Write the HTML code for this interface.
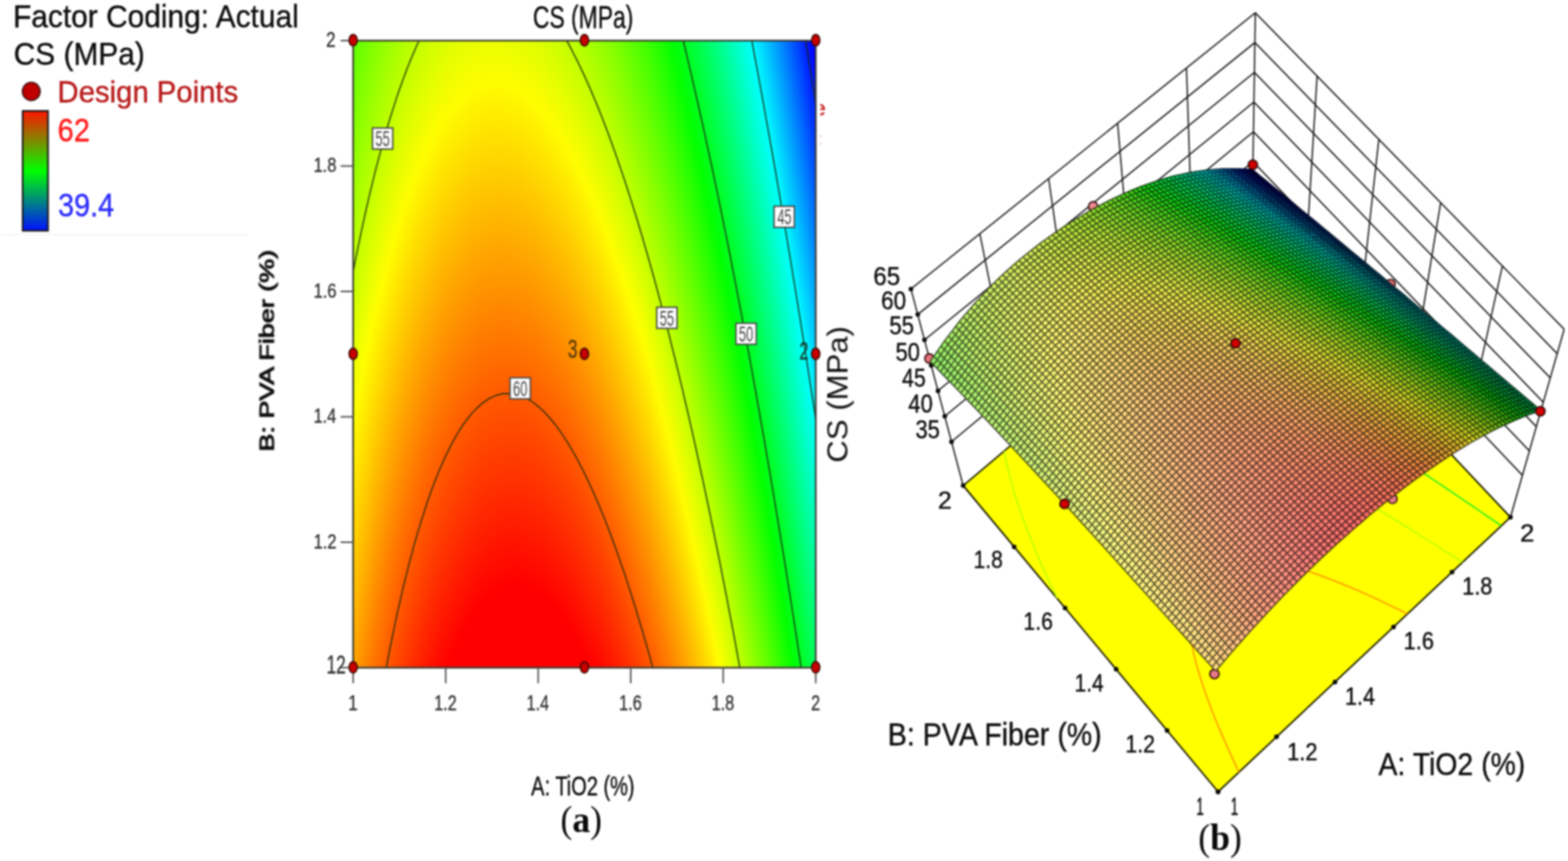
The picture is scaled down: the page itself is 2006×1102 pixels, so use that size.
<!DOCTYPE html>
<html><head><meta charset="utf-8"><title>CS (MPa) response surface</title>
<style>html,body{margin:0;padding:0;background:#fff}svg{display:block}</style></head>
<body><svg width="2006" height="1102" viewBox="0 0 2006 1102">
<defs><filter id="soft" x="0" y="0" width="100%" height="100%" filterUnits="userSpaceOnUse" color-interpolation-filters="sRGB"><feGaussianBlur stdDeviation="0.85"/></filter><linearGradient id="lg" x1="0" y1="0" x2="0" y2="1"><stop offset="0" stop-color="#ff1400"/><stop offset="0.5" stop-color="#00ff00"/><stop offset="1" stop-color="#0010ff"/></linearGradient><linearGradient id="c0" x1="0" y1="0" x2="0" y2="1"><stop offset="0.000" stop-color="#5dff00"/><stop offset="0.514" stop-color="#ebff00"/><stop offset="0.606" stop-color="#fffc00"/><stop offset="1.000" stop-color="#ffa000"/></linearGradient><linearGradient id="c1" x1="0" y1="0" x2="0" y2="1"><stop offset="0.000" stop-color="#62ff00"/><stop offset="0.514" stop-color="#f0ff00"/><stop offset="0.584" stop-color="#fffd00"/><stop offset="1.000" stop-color="#ff9b00"/></linearGradient><linearGradient id="c2" x1="0" y1="0" x2="0" y2="1"><stop offset="0.000" stop-color="#67ff00"/><stop offset="0.514" stop-color="#f5ff00"/><stop offset="0.566" stop-color="#fffc00"/><stop offset="1.000" stop-color="#ff9500"/></linearGradient><linearGradient id="c3" x1="0" y1="0" x2="0" y2="1"><stop offset="0.000" stop-color="#6bff00"/><stop offset="0.514" stop-color="#faff00"/><stop offset="0.551" stop-color="#fffb00"/><stop offset="1.000" stop-color="#ff8f00"/></linearGradient><linearGradient id="c4" x1="0" y1="0" x2="0" y2="1"><stop offset="0.000" stop-color="#70ff00"/><stop offset="0.514" stop-color="#ffff00"/><stop offset="1.000" stop-color="#ff8a00"/></linearGradient><linearGradient id="c5" x1="0" y1="0" x2="0" y2="1"><stop offset="0.000" stop-color="#74ff00"/><stop offset="0.496" stop-color="#ffff00"/><stop offset="1.000" stop-color="#ff8500"/></linearGradient><linearGradient id="c6" x1="0" y1="0" x2="0" y2="1"><stop offset="0.000" stop-color="#78ff00"/><stop offset="0.479" stop-color="#ffff00"/><stop offset="0.993" stop-color="#ff8100"/><stop offset="1.000" stop-color="#ff8000"/></linearGradient><linearGradient id="c7" x1="0" y1="0" x2="0" y2="1"><stop offset="0.000" stop-color="#7dff00"/><stop offset="0.461" stop-color="#ffff00"/><stop offset="0.975" stop-color="#ff8000"/><stop offset="1.000" stop-color="#ff7a00"/></linearGradient><linearGradient id="c8" x1="0" y1="0" x2="0" y2="1"><stop offset="0.000" stop-color="#81ff00"/><stop offset="0.446" stop-color="#fffe00"/><stop offset="0.960" stop-color="#ff7e00"/><stop offset="1.000" stop-color="#ff7500"/></linearGradient><linearGradient id="c9" x1="0" y1="0" x2="0" y2="1"><stop offset="0.000" stop-color="#85ff00"/><stop offset="0.429" stop-color="#fffe00"/><stop offset="0.943" stop-color="#ff7d00"/><stop offset="1.000" stop-color="#ff7000"/></linearGradient><linearGradient id="c10" x1="0" y1="0" x2="0" y2="1"><stop offset="0.000" stop-color="#89ff00"/><stop offset="0.414" stop-color="#fffe00"/><stop offset="0.928" stop-color="#ff7c00"/><stop offset="1.000" stop-color="#ff6b00"/></linearGradient><linearGradient id="c11" x1="0" y1="0" x2="0" y2="1"><stop offset="0.000" stop-color="#8dff00"/><stop offset="0.399" stop-color="#fffe00"/><stop offset="0.913" stop-color="#ff7b00"/><stop offset="1.000" stop-color="#ff6700"/></linearGradient><linearGradient id="c12" x1="0" y1="0" x2="0" y2="1"><stop offset="0.000" stop-color="#91ff00"/><stop offset="0.384" stop-color="#fffe00"/><stop offset="0.898" stop-color="#ff7a00"/><stop offset="1.000" stop-color="#ff6200"/></linearGradient><linearGradient id="c13" x1="0" y1="0" x2="0" y2="1"><stop offset="0.000" stop-color="#94ff00"/><stop offset="0.372" stop-color="#fffd00"/><stop offset="0.885" stop-color="#ff7800"/><stop offset="1.000" stop-color="#ff5d00"/></linearGradient><linearGradient id="c14" x1="0" y1="0" x2="0" y2="1"><stop offset="0.000" stop-color="#98ff00"/><stop offset="0.357" stop-color="#fffd00"/><stop offset="0.870" stop-color="#ff7700"/><stop offset="1.000" stop-color="#ff5900"/></linearGradient><linearGradient id="c15" x1="0" y1="0" x2="0" y2="1"><stop offset="0.000" stop-color="#9cff00"/><stop offset="0.342" stop-color="#fffd00"/><stop offset="0.855" stop-color="#ff7600"/><stop offset="1.000" stop-color="#ff5400"/></linearGradient><linearGradient id="c16" x1="0" y1="0" x2="0" y2="1"><stop offset="0.000" stop-color="#9fff00"/><stop offset="0.329" stop-color="#fffd00"/><stop offset="0.843" stop-color="#ff7500"/><stop offset="1.000" stop-color="#ff5000"/></linearGradient><linearGradient id="c17" x1="0" y1="0" x2="0" y2="1"><stop offset="0.000" stop-color="#a3ff00"/><stop offset="0.317" stop-color="#fffd00"/><stop offset="0.830" stop-color="#ff7400"/><stop offset="1.000" stop-color="#ff4b00"/></linearGradient><linearGradient id="c18" x1="0" y1="0" x2="0" y2="1"><stop offset="0.000" stop-color="#a6ff00"/><stop offset="0.304" stop-color="#fffd00"/><stop offset="0.818" stop-color="#ff7300"/><stop offset="1.000" stop-color="#ff4700"/></linearGradient><linearGradient id="c19" x1="0" y1="0" x2="0" y2="1"><stop offset="0.000" stop-color="#a9ff00"/><stop offset="0.292" stop-color="#fffd00"/><stop offset="0.805" stop-color="#ff7200"/><stop offset="1.000" stop-color="#ff4300"/></linearGradient><linearGradient id="c20" x1="0" y1="0" x2="0" y2="1"><stop offset="0.000" stop-color="#acff00"/><stop offset="0.279" stop-color="#fffd00"/><stop offset="0.793" stop-color="#ff7100"/><stop offset="1.000" stop-color="#ff3f00"/></linearGradient><linearGradient id="c21" x1="0" y1="0" x2="0" y2="1"><stop offset="0.000" stop-color="#b0ff00"/><stop offset="0.269" stop-color="#fffd00"/><stop offset="0.783" stop-color="#ff7000"/><stop offset="1.000" stop-color="#ff3b00"/></linearGradient><linearGradient id="c22" x1="0" y1="0" x2="0" y2="1"><stop offset="0.000" stop-color="#b3ff00"/><stop offset="0.257" stop-color="#fffd00"/><stop offset="0.771" stop-color="#ff7000"/><stop offset="1.000" stop-color="#ff3700"/></linearGradient><linearGradient id="c23" x1="0" y1="0" x2="0" y2="1"><stop offset="0.000" stop-color="#b5ff00"/><stop offset="0.247" stop-color="#fffd00"/><stop offset="0.761" stop-color="#ff6e00"/><stop offset="1.000" stop-color="#ff3300"/></linearGradient><linearGradient id="c24" x1="0" y1="0" x2="0" y2="1"><stop offset="0.000" stop-color="#b8ff00"/><stop offset="0.237" stop-color="#fffd00"/><stop offset="0.751" stop-color="#ff6d00"/><stop offset="1.000" stop-color="#ff2f00"/></linearGradient><linearGradient id="c25" x1="0" y1="0" x2="0" y2="1"><stop offset="0.000" stop-color="#bbff00"/><stop offset="0.227" stop-color="#fffd00"/><stop offset="0.741" stop-color="#ff6d00"/><stop offset="1.000" stop-color="#ff2b00"/></linearGradient><linearGradient id="c26" x1="0" y1="0" x2="0" y2="1"><stop offset="0.000" stop-color="#beff00"/><stop offset="0.217" stop-color="#fffd00"/><stop offset="0.731" stop-color="#ff6c00"/><stop offset="1.000" stop-color="#ff2800"/></linearGradient><linearGradient id="c27" x1="0" y1="0" x2="0" y2="1"><stop offset="0.000" stop-color="#c0ff00"/><stop offset="0.207" stop-color="#fffd00"/><stop offset="0.721" stop-color="#ff6b00"/><stop offset="1.000" stop-color="#ff2400"/></linearGradient><linearGradient id="c28" x1="0" y1="0" x2="0" y2="1"><stop offset="0.000" stop-color="#c3ff00"/><stop offset="0.200" stop-color="#fffd00"/><stop offset="0.713" stop-color="#ff6a00"/><stop offset="1.000" stop-color="#ff2100"/></linearGradient><linearGradient id="c29" x1="0" y1="0" x2="0" y2="1"><stop offset="0.000" stop-color="#c6ff00"/><stop offset="0.190" stop-color="#fffd00"/><stop offset="0.703" stop-color="#ff6900"/><stop offset="1.000" stop-color="#ff1d00"/></linearGradient><linearGradient id="c30" x1="0" y1="0" x2="0" y2="1"><stop offset="0.000" stop-color="#c8ff00"/><stop offset="0.182" stop-color="#fffd00"/><stop offset="0.696" stop-color="#ff6800"/><stop offset="1.000" stop-color="#ff1a00"/></linearGradient><linearGradient id="c31" x1="0" y1="0" x2="0" y2="1"><stop offset="0.000" stop-color="#caff00"/><stop offset="0.175" stop-color="#fffd00"/><stop offset="0.688" stop-color="#ff6800"/><stop offset="1.000" stop-color="#ff1700"/></linearGradient><linearGradient id="c32" x1="0" y1="0" x2="0" y2="1"><stop offset="0.000" stop-color="#ccff00"/><stop offset="0.167" stop-color="#fffd00"/><stop offset="0.681" stop-color="#ff6700"/><stop offset="1.000" stop-color="#ff1400"/></linearGradient><linearGradient id="c33" x1="0" y1="0" x2="0" y2="1"><stop offset="0.000" stop-color="#cfff00"/><stop offset="0.160" stop-color="#fffd00"/><stop offset="0.673" stop-color="#ff6600"/><stop offset="1.000" stop-color="#ff1100"/></linearGradient><linearGradient id="c34" x1="0" y1="0" x2="0" y2="1"><stop offset="0.000" stop-color="#d1ff00"/><stop offset="0.152" stop-color="#fffd00"/><stop offset="0.666" stop-color="#ff6500"/><stop offset="1.000" stop-color="#ff0e00"/></linearGradient><linearGradient id="c35" x1="0" y1="0" x2="0" y2="1"><stop offset="0.000" stop-color="#d3ff00"/><stop offset="0.145" stop-color="#fffd00"/><stop offset="0.658" stop-color="#ff6500"/><stop offset="1.000" stop-color="#ff0b00"/></linearGradient><linearGradient id="c36" x1="0" y1="0" x2="0" y2="1"><stop offset="0.000" stop-color="#d5ff00"/><stop offset="0.140" stop-color="#fffc00"/><stop offset="0.653" stop-color="#ff6400"/><stop offset="1.000" stop-color="#ff0800"/></linearGradient><linearGradient id="c37" x1="0" y1="0" x2="0" y2="1"><stop offset="0.000" stop-color="#d6ff00"/><stop offset="0.132" stop-color="#fffd00"/><stop offset="0.646" stop-color="#ff6300"/><stop offset="1.000" stop-color="#ff0500"/></linearGradient><linearGradient id="c38" x1="0" y1="0" x2="0" y2="1"><stop offset="0.000" stop-color="#d8ff00"/><stop offset="0.127" stop-color="#fffd00"/><stop offset="0.641" stop-color="#ff6200"/><stop offset="1.000" stop-color="#ff0300"/></linearGradient><linearGradient id="c39" x1="0" y1="0" x2="0" y2="1"><stop offset="0.000" stop-color="#daff00"/><stop offset="0.122" stop-color="#fffc00"/><stop offset="0.636" stop-color="#ff6200"/><stop offset="1.000" stop-color="#ff0000"/></linearGradient><linearGradient id="c40" x1="0" y1="0" x2="0" y2="1"><stop offset="0.000" stop-color="#dbff00"/><stop offset="0.117" stop-color="#fffc00"/><stop offset="0.631" stop-color="#ff6100"/><stop offset="0.998" stop-color="#ff0000"/><stop offset="1.000" stop-color="#ff0000"/></linearGradient><linearGradient id="c41" x1="0" y1="0" x2="0" y2="1"><stop offset="0.000" stop-color="#ddff00"/><stop offset="0.112" stop-color="#fffc00"/><stop offset="0.626" stop-color="#ff6000"/><stop offset="0.988" stop-color="#ff0000"/><stop offset="1.000" stop-color="#ff0000"/></linearGradient><linearGradient id="c42" x1="0" y1="0" x2="0" y2="1"><stop offset="0.000" stop-color="#deff00"/><stop offset="0.107" stop-color="#fffc00"/><stop offset="0.621" stop-color="#ff6000"/><stop offset="0.978" stop-color="#ff0000"/><stop offset="1.000" stop-color="#ff0000"/></linearGradient><linearGradient id="c43" x1="0" y1="0" x2="0" y2="1"><stop offset="0.000" stop-color="#e0ff00"/><stop offset="0.102" stop-color="#fffd00"/><stop offset="0.616" stop-color="#ff5f00"/><stop offset="0.970" stop-color="#ff0000"/><stop offset="1.000" stop-color="#ff0000"/></linearGradient><linearGradient id="c44" x1="0" y1="0" x2="0" y2="1"><stop offset="0.000" stop-color="#e1ff00"/><stop offset="0.097" stop-color="#fffd00"/><stop offset="0.611" stop-color="#ff5f00"/><stop offset="0.963" stop-color="#ff0000"/><stop offset="1.000" stop-color="#ff0000"/></linearGradient><linearGradient id="c45" x1="0" y1="0" x2="0" y2="1"><stop offset="0.000" stop-color="#e2ff00"/><stop offset="0.095" stop-color="#fffd00"/><stop offset="0.608" stop-color="#ff5e00"/><stop offset="0.955" stop-color="#ff0000"/><stop offset="1.000" stop-color="#ff0000"/></linearGradient><linearGradient id="c46" x1="0" y1="0" x2="0" y2="1"><stop offset="0.000" stop-color="#e3ff00"/><stop offset="0.090" stop-color="#fffd00"/><stop offset="0.603" stop-color="#ff5e00"/><stop offset="0.948" stop-color="#ff0000"/><stop offset="1.000" stop-color="#ff0000"/></linearGradient><linearGradient id="c47" x1="0" y1="0" x2="0" y2="1"><stop offset="0.000" stop-color="#e4ff00"/><stop offset="0.087" stop-color="#fffd00"/><stop offset="0.601" stop-color="#ff5d00"/><stop offset="0.940" stop-color="#ff0000"/><stop offset="1.000" stop-color="#ff0000"/></linearGradient><linearGradient id="c48" x1="0" y1="0" x2="0" y2="1"><stop offset="0.000" stop-color="#e5ff00"/><stop offset="0.085" stop-color="#fffd00"/><stop offset="0.599" stop-color="#ff5c00"/><stop offset="0.933" stop-color="#ff0000"/><stop offset="1.000" stop-color="#ff0000"/></linearGradient><linearGradient id="c49" x1="0" y1="0" x2="0" y2="1"><stop offset="0.000" stop-color="#e6ff00"/><stop offset="0.082" stop-color="#fffc00"/><stop offset="0.596" stop-color="#ff5b00"/><stop offset="0.928" stop-color="#ff0000"/><stop offset="1.000" stop-color="#ff0000"/></linearGradient><linearGradient id="c50" x1="0" y1="0" x2="0" y2="1"><stop offset="0.000" stop-color="#e7ff00"/><stop offset="0.080" stop-color="#fffc00"/><stop offset="0.594" stop-color="#ff5b00"/><stop offset="0.920" stop-color="#ff0000"/><stop offset="1.000" stop-color="#ff0000"/></linearGradient><linearGradient id="c51" x1="0" y1="0" x2="0" y2="1"><stop offset="0.000" stop-color="#e7ff00"/><stop offset="0.077" stop-color="#fffc00"/><stop offset="0.591" stop-color="#ff5a00"/><stop offset="0.915" stop-color="#ff0000"/><stop offset="1.000" stop-color="#ff0000"/></linearGradient><linearGradient id="c52" x1="0" y1="0" x2="0" y2="1"><stop offset="0.000" stop-color="#e8ff00"/><stop offset="0.075" stop-color="#fffd00"/><stop offset="0.589" stop-color="#ff5a00"/><stop offset="0.910" stop-color="#ff0000"/><stop offset="1.000" stop-color="#ff0000"/></linearGradient><linearGradient id="c53" x1="0" y1="0" x2="0" y2="1"><stop offset="0.000" stop-color="#e9ff00"/><stop offset="0.072" stop-color="#fffd00"/><stop offset="0.586" stop-color="#ff5900"/><stop offset="0.905" stop-color="#ff0000"/><stop offset="1.000" stop-color="#ff0000"/></linearGradient><linearGradient id="c54" x1="0" y1="0" x2="0" y2="1"><stop offset="0.000" stop-color="#e9ff00"/><stop offset="0.072" stop-color="#fffc00"/><stop offset="0.586" stop-color="#ff5800"/><stop offset="0.900" stop-color="#ff0000"/><stop offset="1.000" stop-color="#ff0000"/></linearGradient><linearGradient id="c55" x1="0" y1="0" x2="0" y2="1"><stop offset="0.000" stop-color="#e9ff00"/><stop offset="0.070" stop-color="#fffd00"/><stop offset="0.584" stop-color="#ff5800"/><stop offset="0.895" stop-color="#ff0000"/><stop offset="1.000" stop-color="#ff0000"/></linearGradient><linearGradient id="c56" x1="0" y1="0" x2="0" y2="1"><stop offset="0.000" stop-color="#eaff00"/><stop offset="0.070" stop-color="#fffc00"/><stop offset="0.584" stop-color="#ff5700"/><stop offset="0.893" stop-color="#ff0000"/><stop offset="1.000" stop-color="#ff0000"/></linearGradient><linearGradient id="c57" x1="0" y1="0" x2="0" y2="1"><stop offset="0.000" stop-color="#eaff00"/><stop offset="0.070" stop-color="#fffc00"/><stop offset="0.584" stop-color="#ff5700"/><stop offset="0.888" stop-color="#ff0000"/><stop offset="1.000" stop-color="#ff0000"/></linearGradient><linearGradient id="c58" x1="0" y1="0" x2="0" y2="1"><stop offset="0.000" stop-color="#eaff00"/><stop offset="0.067" stop-color="#fffd00"/><stop offset="0.581" stop-color="#ff5700"/><stop offset="0.885" stop-color="#ff0000"/><stop offset="1.000" stop-color="#ff0000"/></linearGradient><linearGradient id="c59" x1="0" y1="0" x2="0" y2="1"><stop offset="0.000" stop-color="#eaff00"/><stop offset="0.067" stop-color="#fffd00"/><stop offset="0.581" stop-color="#ff5600"/><stop offset="0.883" stop-color="#ff0000"/><stop offset="1.000" stop-color="#ff0000"/></linearGradient><linearGradient id="c60" x1="0" y1="0" x2="0" y2="1"><stop offset="0.000" stop-color="#eaff00"/><stop offset="0.067" stop-color="#fffd00"/><stop offset="0.581" stop-color="#ff5600"/><stop offset="0.880" stop-color="#ff0000"/><stop offset="1.000" stop-color="#ff0000"/></linearGradient><linearGradient id="c61" x1="0" y1="0" x2="0" y2="1"><stop offset="0.000" stop-color="#eaff00"/><stop offset="0.067" stop-color="#fffd00"/><stop offset="0.581" stop-color="#ff5500"/><stop offset="0.878" stop-color="#ff0000"/><stop offset="1.000" stop-color="#ff0000"/></linearGradient><linearGradient id="c62" x1="0" y1="0" x2="0" y2="1"><stop offset="0.000" stop-color="#eaff00"/><stop offset="0.067" stop-color="#fffd00"/><stop offset="0.581" stop-color="#ff5500"/><stop offset="0.875" stop-color="#ff0000"/><stop offset="1.000" stop-color="#ff0000"/></linearGradient><linearGradient id="c63" x1="0" y1="0" x2="0" y2="1"><stop offset="0.000" stop-color="#e9ff00"/><stop offset="0.070" stop-color="#fffc00"/><stop offset="0.584" stop-color="#ff5400"/><stop offset="0.873" stop-color="#ff0000"/><stop offset="1.000" stop-color="#ff0000"/></linearGradient><linearGradient id="c64" x1="0" y1="0" x2="0" y2="1"><stop offset="0.000" stop-color="#e9ff00"/><stop offset="0.070" stop-color="#fffc00"/><stop offset="0.584" stop-color="#ff5400"/><stop offset="0.873" stop-color="#ff0000"/><stop offset="1.000" stop-color="#ff0000"/></linearGradient><linearGradient id="c65" x1="0" y1="0" x2="0" y2="1"><stop offset="0.000" stop-color="#e9ff00"/><stop offset="0.070" stop-color="#fffd00"/><stop offset="0.584" stop-color="#ff5400"/><stop offset="0.870" stop-color="#ff0000"/><stop offset="1.000" stop-color="#ff0000"/></linearGradient><linearGradient id="c66" x1="0" y1="0" x2="0" y2="1"><stop offset="0.000" stop-color="#e8ff00"/><stop offset="0.072" stop-color="#fffc00"/><stop offset="0.586" stop-color="#ff5300"/><stop offset="0.870" stop-color="#ff0000"/><stop offset="1.000" stop-color="#ff0000"/></linearGradient><linearGradient id="c67" x1="0" y1="0" x2="0" y2="1"><stop offset="0.000" stop-color="#e8ff00"/><stop offset="0.072" stop-color="#fffd00"/><stop offset="0.586" stop-color="#ff5300"/><stop offset="0.868" stop-color="#ff0000"/><stop offset="1.000" stop-color="#ff0000"/></linearGradient><linearGradient id="c68" x1="0" y1="0" x2="0" y2="1"><stop offset="0.000" stop-color="#e7ff00"/><stop offset="0.075" stop-color="#fffd00"/><stop offset="0.589" stop-color="#ff5200"/><stop offset="0.868" stop-color="#ff0000"/><stop offset="1.000" stop-color="#ff0000"/></linearGradient><linearGradient id="c69" x1="0" y1="0" x2="0" y2="1"><stop offset="0.000" stop-color="#e6ff00"/><stop offset="0.077" stop-color="#fffd00"/><stop offset="0.591" stop-color="#ff5200"/><stop offset="0.868" stop-color="#ff0000"/><stop offset="1.000" stop-color="#ff0000"/></linearGradient><linearGradient id="c70" x1="0" y1="0" x2="0" y2="1"><stop offset="0.000" stop-color="#e5ff00"/><stop offset="0.080" stop-color="#fffc00"/><stop offset="0.594" stop-color="#ff5100"/><stop offset="0.868" stop-color="#ff0000"/><stop offset="1.000" stop-color="#ff0000"/></linearGradient><linearGradient id="c71" x1="0" y1="0" x2="0" y2="1"><stop offset="0.000" stop-color="#e4ff00"/><stop offset="0.082" stop-color="#fffc00"/><stop offset="0.596" stop-color="#ff5100"/><stop offset="0.868" stop-color="#ff0000"/><stop offset="1.000" stop-color="#ff0000"/></linearGradient><linearGradient id="c72" x1="0" y1="0" x2="0" y2="1"><stop offset="0.000" stop-color="#e3ff00"/><stop offset="0.085" stop-color="#fffc00"/><stop offset="0.599" stop-color="#ff5100"/><stop offset="0.870" stop-color="#ff0000"/><stop offset="1.000" stop-color="#ff0000"/></linearGradient><linearGradient id="c73" x1="0" y1="0" x2="0" y2="1"><stop offset="0.000" stop-color="#e2ff00"/><stop offset="0.087" stop-color="#fffd00"/><stop offset="0.601" stop-color="#ff5000"/><stop offset="0.870" stop-color="#ff0000"/><stop offset="1.000" stop-color="#ff0000"/></linearGradient><linearGradient id="c74" x1="0" y1="0" x2="0" y2="1"><stop offset="0.000" stop-color="#e1ff00"/><stop offset="0.090" stop-color="#fffd00"/><stop offset="0.603" stop-color="#ff5000"/><stop offset="0.873" stop-color="#ff0000"/><stop offset="1.000" stop-color="#ff0000"/></linearGradient><linearGradient id="c75" x1="0" y1="0" x2="0" y2="1"><stop offset="0.000" stop-color="#e0ff00"/><stop offset="0.092" stop-color="#fffd00"/><stop offset="0.606" stop-color="#ff5000"/><stop offset="0.873" stop-color="#ff0000"/><stop offset="1.000" stop-color="#ff0000"/></linearGradient><linearGradient id="c76" x1="0" y1="0" x2="0" y2="1"><stop offset="0.000" stop-color="#dfff00"/><stop offset="0.097" stop-color="#fffc00"/><stop offset="0.611" stop-color="#ff4f00"/><stop offset="0.875" stop-color="#ff0000"/><stop offset="1.000" stop-color="#ff0000"/></linearGradient><linearGradient id="c77" x1="0" y1="0" x2="0" y2="1"><stop offset="0.000" stop-color="#ddff00"/><stop offset="0.100" stop-color="#fffd00"/><stop offset="0.613" stop-color="#ff4f00"/><stop offset="0.878" stop-color="#ff0000"/><stop offset="1.000" stop-color="#ff0000"/></linearGradient><linearGradient id="c78" x1="0" y1="0" x2="0" y2="1"><stop offset="0.000" stop-color="#dcff00"/><stop offset="0.105" stop-color="#fffc00"/><stop offset="0.618" stop-color="#ff4f00"/><stop offset="0.880" stop-color="#ff0000"/><stop offset="1.000" stop-color="#ff0000"/></linearGradient><linearGradient id="c79" x1="0" y1="0" x2="0" y2="1"><stop offset="0.000" stop-color="#daff00"/><stop offset="0.107" stop-color="#fffd00"/><stop offset="0.621" stop-color="#ff4f00"/><stop offset="0.883" stop-color="#ff0000"/><stop offset="1.000" stop-color="#ff0000"/></linearGradient><linearGradient id="c80" x1="0" y1="0" x2="0" y2="1"><stop offset="0.000" stop-color="#d8ff00"/><stop offset="0.112" stop-color="#fffd00"/><stop offset="0.626" stop-color="#ff4e00"/><stop offset="0.885" stop-color="#ff0000"/><stop offset="1.000" stop-color="#ff0000"/></linearGradient><linearGradient id="c81" x1="0" y1="0" x2="0" y2="1"><stop offset="0.000" stop-color="#d7ff00"/><stop offset="0.117" stop-color="#fffd00"/><stop offset="0.631" stop-color="#ff4e00"/><stop offset="0.888" stop-color="#ff0000"/><stop offset="1.000" stop-color="#ff0000"/></linearGradient><linearGradient id="c82" x1="0" y1="0" x2="0" y2="1"><stop offset="0.000" stop-color="#d5ff00"/><stop offset="0.122" stop-color="#fffd00"/><stop offset="0.636" stop-color="#ff4d00"/><stop offset="0.890" stop-color="#ff0000"/><stop offset="1.000" stop-color="#ff0000"/></linearGradient><linearGradient id="c83" x1="0" y1="0" x2="0" y2="1"><stop offset="0.000" stop-color="#d3ff00"/><stop offset="0.127" stop-color="#fffd00"/><stop offset="0.641" stop-color="#ff4d00"/><stop offset="0.895" stop-color="#ff0000"/><stop offset="1.000" stop-color="#ff0000"/></linearGradient><linearGradient id="c84" x1="0" y1="0" x2="0" y2="1"><stop offset="0.000" stop-color="#d1ff00"/><stop offset="0.132" stop-color="#fffd00"/><stop offset="0.646" stop-color="#ff4d00"/><stop offset="0.898" stop-color="#ff0000"/><stop offset="1.000" stop-color="#ff0000"/></linearGradient><linearGradient id="c85" x1="0" y1="0" x2="0" y2="1"><stop offset="0.000" stop-color="#cfff00"/><stop offset="0.137" stop-color="#fffd00"/><stop offset="0.651" stop-color="#ff4d00"/><stop offset="0.903" stop-color="#ff0000"/><stop offset="1.000" stop-color="#ff0000"/></linearGradient><linearGradient id="c86" x1="0" y1="0" x2="0" y2="1"><stop offset="0.000" stop-color="#cdff00"/><stop offset="0.142" stop-color="#fffd00"/><stop offset="0.656" stop-color="#ff4d00"/><stop offset="0.908" stop-color="#ff0000"/><stop offset="1.000" stop-color="#ff0000"/></linearGradient><linearGradient id="c87" x1="0" y1="0" x2="0" y2="1"><stop offset="0.000" stop-color="#cbff00"/><stop offset="0.147" stop-color="#fffd00"/><stop offset="0.661" stop-color="#ff4d00"/><stop offset="0.910" stop-color="#ff0000"/><stop offset="1.000" stop-color="#ff0000"/></linearGradient><linearGradient id="c88" x1="0" y1="0" x2="0" y2="1"><stop offset="0.000" stop-color="#c8ff00"/><stop offset="0.155" stop-color="#fffd00"/><stop offset="0.668" stop-color="#ff4c00"/><stop offset="0.915" stop-color="#ff0000"/><stop offset="1.000" stop-color="#ff0000"/></linearGradient><linearGradient id="c89" x1="0" y1="0" x2="0" y2="1"><stop offset="0.000" stop-color="#c6ff00"/><stop offset="0.160" stop-color="#fffd00"/><stop offset="0.673" stop-color="#ff4c00"/><stop offset="0.920" stop-color="#ff0000"/><stop offset="1.000" stop-color="#ff0000"/></linearGradient><linearGradient id="c90" x1="0" y1="0" x2="0" y2="1"><stop offset="0.000" stop-color="#c4ff00"/><stop offset="0.167" stop-color="#fffd00"/><stop offset="0.681" stop-color="#ff4b00"/><stop offset="0.925" stop-color="#ff0000"/><stop offset="1.000" stop-color="#ff0000"/></linearGradient><linearGradient id="c91" x1="0" y1="0" x2="0" y2="1"><stop offset="0.000" stop-color="#c1ff00"/><stop offset="0.172" stop-color="#fffd00"/><stop offset="0.686" stop-color="#ff4c00"/><stop offset="0.933" stop-color="#ff0000"/><stop offset="1.000" stop-color="#ff0000"/></linearGradient><linearGradient id="c92" x1="0" y1="0" x2="0" y2="1"><stop offset="0.000" stop-color="#beff00"/><stop offset="0.180" stop-color="#fffd00"/><stop offset="0.693" stop-color="#ff4b00"/><stop offset="0.938" stop-color="#ff0000"/><stop offset="1.000" stop-color="#ff0000"/></linearGradient><linearGradient id="c93" x1="0" y1="0" x2="0" y2="1"><stop offset="0.000" stop-color="#bcff00"/><stop offset="0.187" stop-color="#fffd00"/><stop offset="0.701" stop-color="#ff4b00"/><stop offset="0.943" stop-color="#ff0000"/><stop offset="1.000" stop-color="#ff0000"/></linearGradient><linearGradient id="c94" x1="0" y1="0" x2="0" y2="1"><stop offset="0.000" stop-color="#b9ff00"/><stop offset="0.195" stop-color="#fffd00"/><stop offset="0.708" stop-color="#ff4b00"/><stop offset="0.950" stop-color="#ff0000"/><stop offset="1.000" stop-color="#ff0000"/></linearGradient><linearGradient id="c95" x1="0" y1="0" x2="0" y2="1"><stop offset="0.000" stop-color="#b6ff00"/><stop offset="0.200" stop-color="#fffd00"/><stop offset="0.713" stop-color="#ff4b00"/><stop offset="0.955" stop-color="#ff0000"/><stop offset="1.000" stop-color="#ff0000"/></linearGradient><linearGradient id="c96" x1="0" y1="0" x2="0" y2="1"><stop offset="0.000" stop-color="#b3ff00"/><stop offset="0.207" stop-color="#fffd00"/><stop offset="0.721" stop-color="#ff4b00"/><stop offset="0.963" stop-color="#ff0000"/><stop offset="1.000" stop-color="#ff0000"/></linearGradient><linearGradient id="c97" x1="0" y1="0" x2="0" y2="1"><stop offset="0.000" stop-color="#b0ff00"/><stop offset="0.217" stop-color="#fffd00"/><stop offset="0.731" stop-color="#ff4a00"/><stop offset="0.970" stop-color="#ff0000"/><stop offset="1.000" stop-color="#ff0000"/></linearGradient><linearGradient id="c98" x1="0" y1="0" x2="0" y2="1"><stop offset="0.000" stop-color="#adff00"/><stop offset="0.224" stop-color="#fffd00"/><stop offset="0.738" stop-color="#ff4a00"/><stop offset="0.978" stop-color="#ff0000"/><stop offset="1.000" stop-color="#ff0000"/></linearGradient><linearGradient id="c99" x1="0" y1="0" x2="0" y2="1"><stop offset="0.000" stop-color="#aaff00"/><stop offset="0.232" stop-color="#fffd00"/><stop offset="0.746" stop-color="#ff4a00"/><stop offset="0.985" stop-color="#ff0000"/><stop offset="1.000" stop-color="#ff0000"/></linearGradient><linearGradient id="c100" x1="0" y1="0" x2="0" y2="1"><stop offset="0.000" stop-color="#a7ff00"/><stop offset="0.239" stop-color="#fffd00"/><stop offset="0.753" stop-color="#ff4a00"/><stop offset="0.993" stop-color="#ff0000"/><stop offset="1.000" stop-color="#ff0000"/></linearGradient><linearGradient id="c101" x1="0" y1="0" x2="0" y2="1"><stop offset="0.000" stop-color="#a3ff00"/><stop offset="0.249" stop-color="#fffd00"/><stop offset="0.763" stop-color="#ff4a00"/><stop offset="1.000" stop-color="#ff0000"/></linearGradient><linearGradient id="c102" x1="0" y1="0" x2="0" y2="1"><stop offset="0.000" stop-color="#a0ff00"/><stop offset="0.257" stop-color="#fffd00"/><stop offset="0.771" stop-color="#ff4a00"/><stop offset="1.000" stop-color="#ff0000"/></linearGradient><linearGradient id="c103" x1="0" y1="0" x2="0" y2="1"><stop offset="0.000" stop-color="#9cff00"/><stop offset="0.267" stop-color="#fffd00"/><stop offset="0.781" stop-color="#ff4900"/><stop offset="1.000" stop-color="#ff0300"/></linearGradient><linearGradient id="c104" x1="0" y1="0" x2="0" y2="1"><stop offset="0.000" stop-color="#99ff00"/><stop offset="0.274" stop-color="#fffd00"/><stop offset="0.788" stop-color="#ff4a00"/><stop offset="1.000" stop-color="#ff0500"/></linearGradient><linearGradient id="c105" x1="0" y1="0" x2="0" y2="1"><stop offset="0.000" stop-color="#95ff00"/><stop offset="0.284" stop-color="#fffd00"/><stop offset="0.798" stop-color="#ff4900"/><stop offset="1.000" stop-color="#ff0800"/></linearGradient><linearGradient id="c106" x1="0" y1="0" x2="0" y2="1"><stop offset="0.000" stop-color="#91ff00"/><stop offset="0.294" stop-color="#fffd00"/><stop offset="0.808" stop-color="#ff4900"/><stop offset="1.000" stop-color="#ff0b00"/></linearGradient><linearGradient id="c107" x1="0" y1="0" x2="0" y2="1"><stop offset="0.000" stop-color="#8eff00"/><stop offset="0.304" stop-color="#fffd00"/><stop offset="0.818" stop-color="#ff4900"/><stop offset="1.000" stop-color="#ff0e00"/></linearGradient><linearGradient id="c108" x1="0" y1="0" x2="0" y2="1"><stop offset="0.000" stop-color="#8aff00"/><stop offset="0.312" stop-color="#fffd00"/><stop offset="0.825" stop-color="#ff4900"/><stop offset="1.000" stop-color="#ff1100"/></linearGradient><linearGradient id="c109" x1="0" y1="0" x2="0" y2="1"><stop offset="0.000" stop-color="#86ff00"/><stop offset="0.322" stop-color="#fffd00"/><stop offset="0.835" stop-color="#ff4900"/><stop offset="1.000" stop-color="#ff1400"/></linearGradient><linearGradient id="c110" x1="0" y1="0" x2="0" y2="1"><stop offset="0.000" stop-color="#82ff00"/><stop offset="0.332" stop-color="#fffe00"/><stop offset="0.845" stop-color="#ff4900"/><stop offset="1.000" stop-color="#ff1700"/></linearGradient><linearGradient id="c111" x1="0" y1="0" x2="0" y2="1"><stop offset="0.000" stop-color="#7dff00"/><stop offset="0.342" stop-color="#fffe00"/><stop offset="0.855" stop-color="#ff4900"/><stop offset="1.000" stop-color="#ff1a00"/></linearGradient><linearGradient id="c112" x1="0" y1="0" x2="0" y2="1"><stop offset="0.000" stop-color="#79ff00"/><stop offset="0.354" stop-color="#fffd00"/><stop offset="0.868" stop-color="#ff4900"/><stop offset="1.000" stop-color="#ff1e00"/></linearGradient><linearGradient id="c113" x1="0" y1="0" x2="0" y2="1"><stop offset="0.000" stop-color="#75ff00"/><stop offset="0.364" stop-color="#fffd00"/><stop offset="0.878" stop-color="#ff4900"/><stop offset="1.000" stop-color="#ff2100"/></linearGradient><linearGradient id="c114" x1="0" y1="0" x2="0" y2="1"><stop offset="0.000" stop-color="#70ff00"/><stop offset="0.374" stop-color="#fffe00"/><stop offset="0.888" stop-color="#ff4900"/><stop offset="1.000" stop-color="#ff2400"/></linearGradient><linearGradient id="c115" x1="0" y1="0" x2="0" y2="1"><stop offset="0.000" stop-color="#6cff00"/><stop offset="0.384" stop-color="#fffe00"/><stop offset="0.898" stop-color="#ff4a00"/><stop offset="1.000" stop-color="#ff2800"/></linearGradient><linearGradient id="c116" x1="0" y1="0" x2="0" y2="1"><stop offset="0.000" stop-color="#67ff00"/><stop offset="0.397" stop-color="#fffe00"/><stop offset="0.910" stop-color="#ff4900"/><stop offset="1.000" stop-color="#ff2c00"/></linearGradient><linearGradient id="c117" x1="0" y1="0" x2="0" y2="1"><stop offset="0.000" stop-color="#63ff00"/><stop offset="0.406" stop-color="#fffe00"/><stop offset="0.920" stop-color="#ff4a00"/><stop offset="1.000" stop-color="#ff2f00"/></linearGradient><linearGradient id="c118" x1="0" y1="0" x2="0" y2="1"><stop offset="0.000" stop-color="#5eff00"/><stop offset="0.419" stop-color="#fffe00"/><stop offset="0.933" stop-color="#ff4900"/><stop offset="1.000" stop-color="#ff3300"/></linearGradient><linearGradient id="c119" x1="0" y1="0" x2="0" y2="1"><stop offset="0.000" stop-color="#59ff00"/><stop offset="0.429" stop-color="#ffff00"/><stop offset="0.943" stop-color="#ff4a00"/><stop offset="1.000" stop-color="#ff3700"/></linearGradient><linearGradient id="c120" x1="0" y1="0" x2="0" y2="1"><stop offset="0.000" stop-color="#54ff00"/><stop offset="0.441" stop-color="#fffe00"/><stop offset="0.955" stop-color="#ff4a00"/><stop offset="1.000" stop-color="#ff3b00"/></linearGradient><linearGradient id="c121" x1="0" y1="0" x2="0" y2="1"><stop offset="0.000" stop-color="#50ff00"/><stop offset="0.454" stop-color="#fffe00"/><stop offset="0.968" stop-color="#ff4a00"/><stop offset="1.000" stop-color="#ff3f00"/></linearGradient><linearGradient id="c122" x1="0" y1="0" x2="0" y2="1"><stop offset="0.000" stop-color="#4aff00"/><stop offset="0.466" stop-color="#fffe00"/><stop offset="0.980" stop-color="#ff4a00"/><stop offset="1.000" stop-color="#ff4300"/></linearGradient><linearGradient id="c123" x1="0" y1="0" x2="0" y2="1"><stop offset="0.000" stop-color="#45ff00"/><stop offset="0.476" stop-color="#ffff00"/><stop offset="1.000" stop-color="#ff4700"/></linearGradient><linearGradient id="c124" x1="0" y1="0" x2="0" y2="1"><stop offset="0.000" stop-color="#40ff00"/><stop offset="0.489" stop-color="#ffff00"/><stop offset="1.000" stop-color="#ff4c00"/></linearGradient><linearGradient id="c125" x1="0" y1="0" x2="0" y2="1"><stop offset="0.000" stop-color="#3bff00"/><stop offset="0.501" stop-color="#feff00"/><stop offset="1.000" stop-color="#ff5000"/></linearGradient><linearGradient id="c126" x1="0" y1="0" x2="0" y2="1"><stop offset="0.000" stop-color="#36ff00"/><stop offset="0.514" stop-color="#feff00"/><stop offset="1.000" stop-color="#ff5400"/></linearGradient><linearGradient id="c127" x1="0" y1="0" x2="0" y2="1"><stop offset="0.000" stop-color="#30ff00"/><stop offset="0.514" stop-color="#f9ff00"/><stop offset="0.541" stop-color="#fffb00"/><stop offset="1.000" stop-color="#ff5900"/></linearGradient><linearGradient id="c128" x1="0" y1="0" x2="0" y2="1"><stop offset="0.000" stop-color="#2bff00"/><stop offset="0.514" stop-color="#f4ff00"/><stop offset="0.551" stop-color="#fffc00"/><stop offset="1.000" stop-color="#ff5e00"/></linearGradient><linearGradient id="c129" x1="0" y1="0" x2="0" y2="1"><stop offset="0.000" stop-color="#25ff00"/><stop offset="0.514" stop-color="#efff00"/><stop offset="0.564" stop-color="#fffc00"/><stop offset="1.000" stop-color="#ff6200"/></linearGradient><linearGradient id="c130" x1="0" y1="0" x2="0" y2="1"><stop offset="0.000" stop-color="#1fff00"/><stop offset="0.514" stop-color="#eaff00"/><stop offset="0.576" stop-color="#fffd00"/><stop offset="1.000" stop-color="#ff6700"/></linearGradient><linearGradient id="c131" x1="0" y1="0" x2="0" y2="1"><stop offset="0.000" stop-color="#1aff00"/><stop offset="0.514" stop-color="#e5ff00"/><stop offset="0.591" stop-color="#fffd00"/><stop offset="1.000" stop-color="#ff6c00"/></linearGradient><linearGradient id="c132" x1="0" y1="0" x2="0" y2="1"><stop offset="0.000" stop-color="#14ff00"/><stop offset="0.514" stop-color="#dfff00"/><stop offset="0.606" stop-color="#fffc00"/><stop offset="1.000" stop-color="#ff7100"/></linearGradient><linearGradient id="c133" x1="0" y1="0" x2="0" y2="1"><stop offset="0.000" stop-color="#0eff00"/><stop offset="0.514" stop-color="#daff00"/><stop offset="0.618" stop-color="#fffd00"/><stop offset="1.000" stop-color="#ff7600"/></linearGradient><linearGradient id="c134" x1="0" y1="0" x2="0" y2="1"><stop offset="0.000" stop-color="#08ff00"/><stop offset="0.514" stop-color="#d4ff00"/><stop offset="0.633" stop-color="#fffd00"/><stop offset="1.000" stop-color="#ff7b00"/></linearGradient><linearGradient id="c135" x1="0" y1="0" x2="0" y2="1"><stop offset="0.000" stop-color="#02ff00"/><stop offset="0.514" stop-color="#cfff00"/><stop offset="0.648" stop-color="#fffd00"/><stop offset="1.000" stop-color="#ff8000"/></linearGradient><linearGradient id="c136" x1="0" y1="0" x2="0" y2="1"><stop offset="0.000" stop-color="#00ff04"/><stop offset="0.025" stop-color="#06ff00"/><stop offset="0.539" stop-color="#d2ff00"/><stop offset="0.663" stop-color="#fffd00"/><stop offset="1.000" stop-color="#ff8500"/></linearGradient><linearGradient id="c137" x1="0" y1="0" x2="0" y2="1"><stop offset="0.000" stop-color="#00ff0b"/><stop offset="0.032" stop-color="#03ff00"/><stop offset="0.546" stop-color="#cfff00"/><stop offset="0.678" stop-color="#fffd00"/><stop offset="1.000" stop-color="#ff8b00"/></linearGradient><linearGradient id="c138" x1="0" y1="0" x2="0" y2="1"><stop offset="0.000" stop-color="#00ff11"/><stop offset="0.047" stop-color="#03ff00"/><stop offset="0.561" stop-color="#cfff00"/><stop offset="0.696" stop-color="#fffc00"/><stop offset="1.000" stop-color="#ff9000"/></linearGradient><linearGradient id="c139" x1="0" y1="0" x2="0" y2="1"><stop offset="0.000" stop-color="#00ff17"/><stop offset="0.062" stop-color="#03ff00"/><stop offset="0.576" stop-color="#cfff00"/><stop offset="0.711" stop-color="#fffd00"/><stop offset="1.000" stop-color="#ff9500"/></linearGradient><linearGradient id="c140" x1="0" y1="0" x2="0" y2="1"><stop offset="0.000" stop-color="#00ff1e"/><stop offset="0.077" stop-color="#03ff00"/><stop offset="0.591" stop-color="#cfff00"/><stop offset="0.726" stop-color="#fffd00"/><stop offset="1.000" stop-color="#ff9b00"/></linearGradient><linearGradient id="c141" x1="0" y1="0" x2="0" y2="1"><stop offset="0.000" stop-color="#00ff24"/><stop offset="0.092" stop-color="#02ff00"/><stop offset="0.606" stop-color="#ceff00"/><stop offset="0.743" stop-color="#fffd00"/><stop offset="1.000" stop-color="#ffa100"/></linearGradient><linearGradient id="c142" x1="0" y1="0" x2="0" y2="1"><stop offset="0.000" stop-color="#00ff2b"/><stop offset="0.107" stop-color="#02ff00"/><stop offset="0.621" stop-color="#ceff00"/><stop offset="0.758" stop-color="#fffd00"/><stop offset="1.000" stop-color="#ffa600"/></linearGradient><linearGradient id="c143" x1="0" y1="0" x2="0" y2="1"><stop offset="0.000" stop-color="#00ff32"/><stop offset="0.122" stop-color="#02ff00"/><stop offset="0.636" stop-color="#cdff00"/><stop offset="0.776" stop-color="#fffd00"/><stop offset="1.000" stop-color="#ffac00"/></linearGradient><linearGradient id="c144" x1="0" y1="0" x2="0" y2="1"><stop offset="0.000" stop-color="#00ff39"/><stop offset="0.140" stop-color="#02ff00"/><stop offset="0.653" stop-color="#ceff00"/><stop offset="0.791" stop-color="#fffd00"/><stop offset="1.000" stop-color="#ffb200"/></linearGradient><linearGradient id="c145" x1="0" y1="0" x2="0" y2="1"><stop offset="0.000" stop-color="#00ff3f"/><stop offset="0.155" stop-color="#02ff00"/><stop offset="0.668" stop-color="#cdff00"/><stop offset="0.808" stop-color="#fffd00"/><stop offset="1.000" stop-color="#ffb800"/></linearGradient><linearGradient id="c146" x1="0" y1="0" x2="0" y2="1"><stop offset="0.000" stop-color="#00ff46"/><stop offset="0.172" stop-color="#02ff00"/><stop offset="0.686" stop-color="#cdff00"/><stop offset="0.825" stop-color="#fffd00"/><stop offset="1.000" stop-color="#ffbe00"/></linearGradient><linearGradient id="c147" x1="0" y1="0" x2="0" y2="1"><stop offset="0.000" stop-color="#00ff4d"/><stop offset="0.190" stop-color="#02ff00"/><stop offset="0.703" stop-color="#ceff00"/><stop offset="0.843" stop-color="#fffd00"/><stop offset="1.000" stop-color="#ffc400"/></linearGradient><linearGradient id="c148" x1="0" y1="0" x2="0" y2="1"><stop offset="0.000" stop-color="#00ff55"/><stop offset="0.204" stop-color="#02ff00"/><stop offset="0.718" stop-color="#cdff00"/><stop offset="0.860" stop-color="#fffd00"/><stop offset="1.000" stop-color="#ffca00"/></linearGradient><linearGradient id="c149" x1="0" y1="0" x2="0" y2="1"><stop offset="0.000" stop-color="#00ff5c"/><stop offset="0.222" stop-color="#02ff00"/><stop offset="0.736" stop-color="#cdff00"/><stop offset="0.878" stop-color="#fffd00"/><stop offset="1.000" stop-color="#ffd100"/></linearGradient><linearGradient id="c150" x1="0" y1="0" x2="0" y2="1"><stop offset="0.000" stop-color="#00ff63"/><stop offset="0.239" stop-color="#02ff00"/><stop offset="0.753" stop-color="#cdff00"/><stop offset="0.895" stop-color="#fffd00"/><stop offset="1.000" stop-color="#ffd700"/></linearGradient><linearGradient id="c151" x1="0" y1="0" x2="0" y2="1"><stop offset="0.000" stop-color="#00ff6a"/><stop offset="0.257" stop-color="#02ff00"/><stop offset="0.771" stop-color="#cdff00"/><stop offset="0.913" stop-color="#fffd00"/><stop offset="1.000" stop-color="#ffde00"/></linearGradient><linearGradient id="c152" x1="0" y1="0" x2="0" y2="1"><stop offset="0.000" stop-color="#00ff72"/><stop offset="0.274" stop-color="#02ff00"/><stop offset="0.788" stop-color="#ccff00"/><stop offset="0.930" stop-color="#fffd00"/><stop offset="1.000" stop-color="#ffe400"/></linearGradient><linearGradient id="c153" x1="0" y1="0" x2="0" y2="1"><stop offset="0.000" stop-color="#00ff79"/><stop offset="0.292" stop-color="#02ff00"/><stop offset="0.805" stop-color="#ccff00"/><stop offset="0.950" stop-color="#fffd00"/><stop offset="1.000" stop-color="#ffeb00"/></linearGradient><linearGradient id="c154" x1="0" y1="0" x2="0" y2="1"><stop offset="0.000" stop-color="#00ff81"/><stop offset="0.309" stop-color="#02ff00"/><stop offset="0.823" stop-color="#ccff00"/><stop offset="0.968" stop-color="#fffd00"/><stop offset="1.000" stop-color="#fff100"/></linearGradient><linearGradient id="c155" x1="0" y1="0" x2="0" y2="1"><stop offset="0.000" stop-color="#00ff89"/><stop offset="0.327" stop-color="#02ff00"/><stop offset="0.840" stop-color="#cbff00"/><stop offset="0.988" stop-color="#fffd00"/><stop offset="1.000" stop-color="#fff800"/></linearGradient><linearGradient id="c156" x1="0" y1="0" x2="0" y2="1"><stop offset="0.000" stop-color="#00ff91"/><stop offset="0.344" stop-color="#01ff00"/><stop offset="0.858" stop-color="#cbff00"/><stop offset="1.000" stop-color="#ffff00"/></linearGradient><linearGradient id="c157" x1="0" y1="0" x2="0" y2="1"><stop offset="0.000" stop-color="#00ff98"/><stop offset="0.362" stop-color="#01ff00"/><stop offset="0.875" stop-color="#caff00"/><stop offset="1.000" stop-color="#f8ff00"/></linearGradient><linearGradient id="c158" x1="0" y1="0" x2="0" y2="1"><stop offset="0.000" stop-color="#00ffa0"/><stop offset="0.382" stop-color="#02ff00"/><stop offset="0.895" stop-color="#cbff00"/><stop offset="1.000" stop-color="#f1ff00"/></linearGradient><linearGradient id="c159" x1="0" y1="0" x2="0" y2="1"><stop offset="0.000" stop-color="#00ffa8"/><stop offset="0.399" stop-color="#01ff00"/><stop offset="0.913" stop-color="#caff00"/><stop offset="1.000" stop-color="#eaff00"/></linearGradient><linearGradient id="c160" x1="0" y1="0" x2="0" y2="1"><stop offset="0.000" stop-color="#00ffb0"/><stop offset="0.416" stop-color="#01ff00"/><stop offset="0.930" stop-color="#c9ff00"/><stop offset="1.000" stop-color="#e3ff00"/></linearGradient><linearGradient id="c161" x1="0" y1="0" x2="0" y2="1"><stop offset="0.000" stop-color="#00ffb9"/><stop offset="0.436" stop-color="#01ff00"/><stop offset="0.950" stop-color="#c9ff00"/><stop offset="1.000" stop-color="#dbff00"/></linearGradient><linearGradient id="c162" x1="0" y1="0" x2="0" y2="1"><stop offset="0.000" stop-color="#00ffc1"/><stop offset="0.454" stop-color="#00ff00"/><stop offset="0.968" stop-color="#c8ff00"/><stop offset="1.000" stop-color="#d4ff00"/></linearGradient><linearGradient id="c163" x1="0" y1="0" x2="0" y2="1"><stop offset="0.000" stop-color="#00ffc9"/><stop offset="0.474" stop-color="#01ff00"/><stop offset="0.988" stop-color="#c8ff00"/><stop offset="1.000" stop-color="#cdff00"/></linearGradient><linearGradient id="c164" x1="0" y1="0" x2="0" y2="1"><stop offset="0.000" stop-color="#00ffd2"/><stop offset="0.491" stop-color="#00ff00"/><stop offset="1.000" stop-color="#c5ff00"/></linearGradient><linearGradient id="c165" x1="0" y1="0" x2="0" y2="1"><stop offset="0.000" stop-color="#00ffda"/><stop offset="0.511" stop-color="#00ff00"/><stop offset="1.000" stop-color="#beff00"/></linearGradient><linearGradient id="c166" x1="0" y1="0" x2="0" y2="1"><stop offset="0.000" stop-color="#00ffe3"/><stop offset="0.514" stop-color="#00ff07"/><stop offset="0.541" stop-color="#04ff00"/><stop offset="1.000" stop-color="#b6ff00"/></linearGradient><linearGradient id="c167" x1="0" y1="0" x2="0" y2="1"><stop offset="0.000" stop-color="#00ffeb"/><stop offset="0.514" stop-color="#00ff10"/><stop offset="0.559" stop-color="#03ff00"/><stop offset="1.000" stop-color="#aeff00"/></linearGradient><linearGradient id="c168" x1="0" y1="0" x2="0" y2="1"><stop offset="0.000" stop-color="#00fff4"/><stop offset="0.514" stop-color="#00ff18"/><stop offset="0.579" stop-color="#03ff00"/><stop offset="1.000" stop-color="#a6ff00"/></linearGradient><linearGradient id="c169" x1="0" y1="0" x2="0" y2="1"><stop offset="0.000" stop-color="#00fffd"/><stop offset="0.514" stop-color="#00ff20"/><stop offset="0.599" stop-color="#02ff00"/><stop offset="1.000" stop-color="#9eff00"/></linearGradient><linearGradient id="c170" x1="0" y1="0" x2="0" y2="1"><stop offset="0.000" stop-color="#00f8ff"/><stop offset="0.022" stop-color="#00fffc"/><stop offset="0.536" stop-color="#00ff1f"/><stop offset="0.618" stop-color="#02ff00"/><stop offset="1.000" stop-color="#97ff00"/></linearGradient><linearGradient id="c171" x1="0" y1="0" x2="0" y2="1"><stop offset="0.000" stop-color="#00efff"/><stop offset="0.040" stop-color="#00fffd"/><stop offset="0.554" stop-color="#00ff21"/><stop offset="0.638" stop-color="#02ff00"/><stop offset="1.000" stop-color="#8eff00"/></linearGradient><linearGradient id="c172" x1="0" y1="0" x2="0" y2="1"><stop offset="0.000" stop-color="#00e6ff"/><stop offset="0.060" stop-color="#00fffd"/><stop offset="0.574" stop-color="#00ff21"/><stop offset="0.661" stop-color="#02ff00"/><stop offset="1.000" stop-color="#86ff00"/></linearGradient><linearGradient id="c173" x1="0" y1="0" x2="0" y2="1"><stop offset="0.000" stop-color="#00ddff"/><stop offset="0.080" stop-color="#00fffd"/><stop offset="0.594" stop-color="#00ff22"/><stop offset="0.681" stop-color="#02ff00"/><stop offset="1.000" stop-color="#7eff00"/></linearGradient><linearGradient id="c174" x1="0" y1="0" x2="0" y2="1"><stop offset="0.000" stop-color="#00d4ff"/><stop offset="0.100" stop-color="#00fffd"/><stop offset="0.613" stop-color="#00ff22"/><stop offset="0.703" stop-color="#02ff00"/><stop offset="1.000" stop-color="#76ff00"/></linearGradient><linearGradient id="c175" x1="0" y1="0" x2="0" y2="1"><stop offset="0.000" stop-color="#00caff"/><stop offset="0.122" stop-color="#00fffd"/><stop offset="0.636" stop-color="#00ff22"/><stop offset="0.726" stop-color="#03ff00"/><stop offset="1.000" stop-color="#6dff00"/></linearGradient><linearGradient id="c176" x1="0" y1="0" x2="0" y2="1"><stop offset="0.000" stop-color="#00c1ff"/><stop offset="0.142" stop-color="#00fffd"/><stop offset="0.656" stop-color="#00ff22"/><stop offset="0.746" stop-color="#02ff00"/><stop offset="1.000" stop-color="#65ff00"/></linearGradient><linearGradient id="c177" x1="0" y1="0" x2="0" y2="1"><stop offset="0.000" stop-color="#00b8ff"/><stop offset="0.162" stop-color="#00fffd"/><stop offset="0.676" stop-color="#00ff23"/><stop offset="0.768" stop-color="#02ff00"/><stop offset="1.000" stop-color="#5cff00"/></linearGradient><linearGradient id="c178" x1="0" y1="0" x2="0" y2="1"><stop offset="0.000" stop-color="#00aeff"/><stop offset="0.185" stop-color="#00fffd"/><stop offset="0.698" stop-color="#00ff23"/><stop offset="0.791" stop-color="#02ff00"/><stop offset="1.000" stop-color="#54ff00"/></linearGradient><linearGradient id="c179" x1="0" y1="0" x2="0" y2="1"><stop offset="0.000" stop-color="#00a4ff"/><stop offset="0.204" stop-color="#00fffd"/><stop offset="0.718" stop-color="#00ff24"/><stop offset="0.813" stop-color="#02ff00"/><stop offset="1.000" stop-color="#4bff00"/></linearGradient><linearGradient id="c180" x1="0" y1="0" x2="0" y2="1"><stop offset="0.000" stop-color="#009bff"/><stop offset="0.227" stop-color="#00fffd"/><stop offset="0.741" stop-color="#00ff24"/><stop offset="0.835" stop-color="#02ff00"/><stop offset="1.000" stop-color="#42ff00"/></linearGradient><linearGradient id="c181" x1="0" y1="0" x2="0" y2="1"><stop offset="0.000" stop-color="#0091ff"/><stop offset="0.249" stop-color="#00fffd"/><stop offset="0.763" stop-color="#00ff24"/><stop offset="0.858" stop-color="#02ff00"/><stop offset="1.000" stop-color="#39ff00"/></linearGradient><linearGradient id="c182" x1="0" y1="0" x2="0" y2="1"><stop offset="0.000" stop-color="#0087ff"/><stop offset="0.269" stop-color="#00fffd"/><stop offset="0.783" stop-color="#00ff25"/><stop offset="0.880" stop-color="#02ff00"/><stop offset="1.000" stop-color="#30ff00"/></linearGradient><linearGradient id="c183" x1="0" y1="0" x2="0" y2="1"><stop offset="0.000" stop-color="#007dff"/><stop offset="0.292" stop-color="#00fffd"/><stop offset="0.805" stop-color="#00ff25"/><stop offset="0.905" stop-color="#02ff00"/><stop offset="1.000" stop-color="#27ff00"/></linearGradient><linearGradient id="c184" x1="0" y1="0" x2="0" y2="1"><stop offset="0.000" stop-color="#0073ff"/><stop offset="0.314" stop-color="#00fffd"/><stop offset="0.828" stop-color="#00ff26"/><stop offset="0.928" stop-color="#02ff00"/><stop offset="1.000" stop-color="#1eff00"/></linearGradient><linearGradient id="c185" x1="0" y1="0" x2="0" y2="1"><stop offset="0.000" stop-color="#0069ff"/><stop offset="0.337" stop-color="#00fffd"/><stop offset="0.850" stop-color="#00ff26"/><stop offset="0.953" stop-color="#03ff00"/><stop offset="1.000" stop-color="#15ff00"/></linearGradient><linearGradient id="c186" x1="0" y1="0" x2="0" y2="1"><stop offset="0.000" stop-color="#005fff"/><stop offset="0.359" stop-color="#00fffd"/><stop offset="0.873" stop-color="#00ff26"/><stop offset="0.975" stop-color="#02ff00"/><stop offset="1.000" stop-color="#0cff00"/></linearGradient><linearGradient id="c187" x1="0" y1="0" x2="0" y2="1"><stop offset="0.000" stop-color="#0054ff"/><stop offset="0.382" stop-color="#00fffd"/><stop offset="0.895" stop-color="#00ff27"/><stop offset="1.000" stop-color="#02ff00"/></linearGradient><linearGradient id="c188" x1="0" y1="0" x2="0" y2="1"><stop offset="0.000" stop-color="#004aff"/><stop offset="0.404" stop-color="#00fffd"/><stop offset="0.918" stop-color="#00ff27"/><stop offset="1.000" stop-color="#00ff07"/></linearGradient><linearGradient id="c189" x1="0" y1="0" x2="0" y2="1"><stop offset="0.000" stop-color="#0040ff"/><stop offset="0.426" stop-color="#00fffe"/><stop offset="0.940" stop-color="#00ff28"/><stop offset="1.000" stop-color="#00ff11"/></linearGradient><linearGradient id="c190" x1="0" y1="0" x2="0" y2="1"><stop offset="0.000" stop-color="#0035ff"/><stop offset="0.449" stop-color="#00fffe"/><stop offset="0.963" stop-color="#00ff29"/><stop offset="1.000" stop-color="#00ff1a"/></linearGradient><linearGradient id="c191" x1="0" y1="0" x2="0" y2="1"><stop offset="0.000" stop-color="#002bff"/><stop offset="0.471" stop-color="#00ffff"/><stop offset="0.985" stop-color="#00ff2a"/><stop offset="1.000" stop-color="#00ff24"/></linearGradient><linearGradient id="c192" x1="0" y1="0" x2="0" y2="1"><stop offset="0.000" stop-color="#0020ff"/><stop offset="0.494" stop-color="#00ffff"/><stop offset="1.000" stop-color="#00ff2e"/></linearGradient><linearGradient id="c193" x1="0" y1="0" x2="0" y2="1"><stop offset="0.000" stop-color="#0015ff"/><stop offset="0.514" stop-color="#00fdff"/><stop offset="1.000" stop-color="#00ff37"/></linearGradient><linearGradient id="c194" x1="0" y1="0" x2="0" y2="1"><stop offset="0.000" stop-color="#000aff"/><stop offset="0.514" stop-color="#00f3ff"/><stop offset="0.549" stop-color="#00fffc"/><stop offset="1.000" stop-color="#00ff41"/></linearGradient><linearGradient id="c195" x1="0" y1="0" x2="0" y2="1"><stop offset="0.000" stop-color="#0000ff"/><stop offset="0.541" stop-color="#00f4ff"/><stop offset="0.574" stop-color="#00fffc"/><stop offset="1.000" stop-color="#00ff4b"/></linearGradient><linearGradient id="c196" x1="0" y1="0" x2="0" y2="1"><stop offset="0.000" stop-color="#0000ff"/><stop offset="0.030" stop-color="#0003ff"/><stop offset="0.544" stop-color="#00ebff"/><stop offset="0.596" stop-color="#00fffd"/><stop offset="1.000" stop-color="#00ff55"/></linearGradient><linearGradient id="c197" x1="0" y1="0" x2="0" y2="1"><stop offset="0.000" stop-color="#0000ff"/><stop offset="0.045" stop-color="#0003ff"/><stop offset="0.559" stop-color="#00ebff"/><stop offset="0.611" stop-color="#00fffd"/><stop offset="1.000" stop-color="#00ff5c"/></linearGradient><clipPath id="frag"><rect x="1049.3" y="120" width="12" height="70"/></clipPath></defs>
<rect width="2006" height="1102" fill="#fff"/>
<g filter="url(#soft)">
<text transform="translate(16.74,35.16) scale(0.937,1)" font-family='"Liberation Sans",Arial,sans-serif' font-size="40.81" fill="#0c0c0c" stroke="#0c0c0c" stroke-width="0.45">Factor Coding: Actual</text>
<text transform="translate(17.39,83.06) scale(0.921,1)" font-family='"Liberation Sans",Arial,sans-serif' font-size="41.54" fill="#0c0c0c" stroke="#0c0c0c" stroke-width="0.45">CS (MPa)</text>
<ellipse cx="40" cy="117" rx="11.3" ry="11.6" fill="#c00000" stroke="#401010" stroke-width="1.8"/>
<text transform="translate(73.60,131.16) scale(0.970,1)" font-family='"Liberation Sans",Arial,sans-serif' font-size="38.64" fill="#b81818" stroke="#b81818" stroke-width="0.45">Design Points</text>
<line x1="2" y1="300.5" x2="318" y2="300.5" stroke="#f3f3f3" stroke-width="1.6"/>
<rect x="29" y="142" width="32.4" height="153.3" fill="url(#lg)" stroke="#1a1a1a" stroke-width="2.2"/>
<text transform="translate(73.85,181.06) scale(0.857,1)" font-family='"Liberation Sans",Arial,sans-serif' font-size="43.09" fill="#ff1818" stroke="#ff1818" stroke-width="0.45">62</text>
<text transform="translate(74.22,277.06) scale(0.871,1)" font-family='"Liberation Sans",Arial,sans-serif' font-size="42.37" fill="#2a2aff" stroke="#2a2aff" stroke-width="0.45">39.4</text>
<g shape-rendering="crispEdges"><rect x="451.8" y="52.0" width="3.6" height="802.6" fill="url(#c0)"/><rect x="454.8" y="52.0" width="3.6" height="802.6" fill="url(#c1)"/><rect x="457.8" y="52.0" width="3.6" height="802.6" fill="url(#c2)"/><rect x="460.8" y="52.0" width="3.6" height="802.6" fill="url(#c3)"/><rect x="463.8" y="52.0" width="3.6" height="802.6" fill="url(#c4)"/><rect x="466.8" y="52.0" width="3.6" height="802.6" fill="url(#c5)"/><rect x="469.8" y="52.0" width="3.6" height="802.6" fill="url(#c6)"/><rect x="472.8" y="52.0" width="3.6" height="802.6" fill="url(#c7)"/><rect x="475.8" y="52.0" width="3.6" height="802.6" fill="url(#c8)"/><rect x="478.8" y="52.0" width="3.6" height="802.6" fill="url(#c9)"/><rect x="481.8" y="52.0" width="3.6" height="802.6" fill="url(#c10)"/><rect x="484.8" y="52.0" width="3.6" height="802.6" fill="url(#c11)"/><rect x="487.8" y="52.0" width="3.6" height="802.6" fill="url(#c12)"/><rect x="490.8" y="52.0" width="3.6" height="802.6" fill="url(#c13)"/><rect x="493.8" y="52.0" width="3.6" height="802.6" fill="url(#c14)"/><rect x="496.8" y="52.0" width="3.6" height="802.6" fill="url(#c15)"/><rect x="499.8" y="52.0" width="3.6" height="802.6" fill="url(#c16)"/><rect x="502.8" y="52.0" width="3.6" height="802.6" fill="url(#c17)"/><rect x="505.8" y="52.0" width="3.6" height="802.6" fill="url(#c18)"/><rect x="508.8" y="52.0" width="3.6" height="802.6" fill="url(#c19)"/><rect x="511.8" y="52.0" width="3.6" height="802.6" fill="url(#c20)"/><rect x="514.8" y="52.0" width="3.6" height="802.6" fill="url(#c21)"/><rect x="517.8" y="52.0" width="3.6" height="802.6" fill="url(#c22)"/><rect x="520.8" y="52.0" width="3.6" height="802.6" fill="url(#c23)"/><rect x="523.8" y="52.0" width="3.6" height="802.6" fill="url(#c24)"/><rect x="526.8" y="52.0" width="3.6" height="802.6" fill="url(#c25)"/><rect x="529.8" y="52.0" width="3.6" height="802.6" fill="url(#c26)"/><rect x="532.8" y="52.0" width="3.6" height="802.6" fill="url(#c27)"/><rect x="535.8" y="52.0" width="3.6" height="802.6" fill="url(#c28)"/><rect x="538.8" y="52.0" width="3.6" height="802.6" fill="url(#c29)"/><rect x="541.8" y="52.0" width="3.6" height="802.6" fill="url(#c30)"/><rect x="544.8" y="52.0" width="3.6" height="802.6" fill="url(#c31)"/><rect x="547.8" y="52.0" width="3.6" height="802.6" fill="url(#c32)"/><rect x="550.8" y="52.0" width="3.6" height="802.6" fill="url(#c33)"/><rect x="553.8" y="52.0" width="3.6" height="802.6" fill="url(#c34)"/><rect x="556.8" y="52.0" width="3.6" height="802.6" fill="url(#c35)"/><rect x="559.8" y="52.0" width="3.6" height="802.6" fill="url(#c36)"/><rect x="562.8" y="52.0" width="3.6" height="802.6" fill="url(#c37)"/><rect x="565.8" y="52.0" width="3.6" height="802.6" fill="url(#c38)"/><rect x="568.8" y="52.0" width="3.6" height="802.6" fill="url(#c39)"/><rect x="571.8" y="52.0" width="3.6" height="802.6" fill="url(#c40)"/><rect x="574.8" y="52.0" width="3.6" height="802.6" fill="url(#c41)"/><rect x="577.8" y="52.0" width="3.6" height="802.6" fill="url(#c42)"/><rect x="580.8" y="52.0" width="3.6" height="802.6" fill="url(#c43)"/><rect x="583.8" y="52.0" width="3.6" height="802.6" fill="url(#c44)"/><rect x="586.8" y="52.0" width="3.6" height="802.6" fill="url(#c45)"/><rect x="589.8" y="52.0" width="3.6" height="802.6" fill="url(#c46)"/><rect x="592.8" y="52.0" width="3.6" height="802.6" fill="url(#c47)"/><rect x="595.8" y="52.0" width="3.6" height="802.6" fill="url(#c48)"/><rect x="598.8" y="52.0" width="3.6" height="802.6" fill="url(#c49)"/><rect x="601.8" y="52.0" width="3.6" height="802.6" fill="url(#c50)"/><rect x="604.8" y="52.0" width="3.6" height="802.6" fill="url(#c51)"/><rect x="607.8" y="52.0" width="3.6" height="802.6" fill="url(#c52)"/><rect x="610.8" y="52.0" width="3.6" height="802.6" fill="url(#c53)"/><rect x="613.8" y="52.0" width="3.6" height="802.6" fill="url(#c54)"/><rect x="616.8" y="52.0" width="3.6" height="802.6" fill="url(#c55)"/><rect x="619.8" y="52.0" width="3.6" height="802.6" fill="url(#c56)"/><rect x="622.8" y="52.0" width="3.6" height="802.6" fill="url(#c57)"/><rect x="625.8" y="52.0" width="3.6" height="802.6" fill="url(#c58)"/><rect x="628.8" y="52.0" width="3.6" height="802.6" fill="url(#c59)"/><rect x="631.8" y="52.0" width="3.6" height="802.6" fill="url(#c60)"/><rect x="634.8" y="52.0" width="3.6" height="802.6" fill="url(#c61)"/><rect x="637.8" y="52.0" width="3.6" height="802.6" fill="url(#c62)"/><rect x="640.8" y="52.0" width="3.6" height="802.6" fill="url(#c63)"/><rect x="643.8" y="52.0" width="3.6" height="802.6" fill="url(#c64)"/><rect x="646.8" y="52.0" width="3.6" height="802.6" fill="url(#c65)"/><rect x="649.8" y="52.0" width="3.6" height="802.6" fill="url(#c66)"/><rect x="652.8" y="52.0" width="3.6" height="802.6" fill="url(#c67)"/><rect x="655.8" y="52.0" width="3.6" height="802.6" fill="url(#c68)"/><rect x="658.8" y="52.0" width="3.6" height="802.6" fill="url(#c69)"/><rect x="661.8" y="52.0" width="3.6" height="802.6" fill="url(#c70)"/><rect x="664.8" y="52.0" width="3.6" height="802.6" fill="url(#c71)"/><rect x="667.8" y="52.0" width="3.6" height="802.6" fill="url(#c72)"/><rect x="670.8" y="52.0" width="3.6" height="802.6" fill="url(#c73)"/><rect x="673.8" y="52.0" width="3.6" height="802.6" fill="url(#c74)"/><rect x="676.8" y="52.0" width="3.6" height="802.6" fill="url(#c75)"/><rect x="679.8" y="52.0" width="3.6" height="802.6" fill="url(#c76)"/><rect x="682.8" y="52.0" width="3.6" height="802.6" fill="url(#c77)"/><rect x="685.8" y="52.0" width="3.6" height="802.6" fill="url(#c78)"/><rect x="688.8" y="52.0" width="3.6" height="802.6" fill="url(#c79)"/><rect x="691.8" y="52.0" width="3.6" height="802.6" fill="url(#c80)"/><rect x="694.8" y="52.0" width="3.6" height="802.6" fill="url(#c81)"/><rect x="697.8" y="52.0" width="3.6" height="802.6" fill="url(#c82)"/><rect x="700.8" y="52.0" width="3.6" height="802.6" fill="url(#c83)"/><rect x="703.8" y="52.0" width="3.6" height="802.6" fill="url(#c84)"/><rect x="706.8" y="52.0" width="3.6" height="802.6" fill="url(#c85)"/><rect x="709.8" y="52.0" width="3.6" height="802.6" fill="url(#c86)"/><rect x="712.8" y="52.0" width="3.6" height="802.6" fill="url(#c87)"/><rect x="715.8" y="52.0" width="3.6" height="802.6" fill="url(#c88)"/><rect x="718.8" y="52.0" width="3.6" height="802.6" fill="url(#c89)"/><rect x="721.8" y="52.0" width="3.6" height="802.6" fill="url(#c90)"/><rect x="724.8" y="52.0" width="3.6" height="802.6" fill="url(#c91)"/><rect x="727.8" y="52.0" width="3.6" height="802.6" fill="url(#c92)"/><rect x="730.8" y="52.0" width="3.6" height="802.6" fill="url(#c93)"/><rect x="733.8" y="52.0" width="3.6" height="802.6" fill="url(#c94)"/><rect x="736.8" y="52.0" width="3.6" height="802.6" fill="url(#c95)"/><rect x="739.8" y="52.0" width="3.6" height="802.6" fill="url(#c96)"/><rect x="742.8" y="52.0" width="3.6" height="802.6" fill="url(#c97)"/><rect x="745.8" y="52.0" width="3.6" height="802.6" fill="url(#c98)"/><rect x="748.8" y="52.0" width="3.6" height="802.6" fill="url(#c99)"/><rect x="751.8" y="52.0" width="3.6" height="802.6" fill="url(#c100)"/><rect x="754.8" y="52.0" width="3.6" height="802.6" fill="url(#c101)"/><rect x="757.8" y="52.0" width="3.6" height="802.6" fill="url(#c102)"/><rect x="760.8" y="52.0" width="3.6" height="802.6" fill="url(#c103)"/><rect x="763.8" y="52.0" width="3.6" height="802.6" fill="url(#c104)"/><rect x="766.8" y="52.0" width="3.6" height="802.6" fill="url(#c105)"/><rect x="769.8" y="52.0" width="3.6" height="802.6" fill="url(#c106)"/><rect x="772.8" y="52.0" width="3.6" height="802.6" fill="url(#c107)"/><rect x="775.8" y="52.0" width="3.6" height="802.6" fill="url(#c108)"/><rect x="778.8" y="52.0" width="3.6" height="802.6" fill="url(#c109)"/><rect x="781.8" y="52.0" width="3.6" height="802.6" fill="url(#c110)"/><rect x="784.8" y="52.0" width="3.6" height="802.6" fill="url(#c111)"/><rect x="787.8" y="52.0" width="3.6" height="802.6" fill="url(#c112)"/><rect x="790.8" y="52.0" width="3.6" height="802.6" fill="url(#c113)"/><rect x="793.8" y="52.0" width="3.6" height="802.6" fill="url(#c114)"/><rect x="796.8" y="52.0" width="3.6" height="802.6" fill="url(#c115)"/><rect x="799.8" y="52.0" width="3.6" height="802.6" fill="url(#c116)"/><rect x="802.8" y="52.0" width="3.6" height="802.6" fill="url(#c117)"/><rect x="805.8" y="52.0" width="3.6" height="802.6" fill="url(#c118)"/><rect x="808.8" y="52.0" width="3.6" height="802.6" fill="url(#c119)"/><rect x="811.8" y="52.0" width="3.6" height="802.6" fill="url(#c120)"/><rect x="814.8" y="52.0" width="3.6" height="802.6" fill="url(#c121)"/><rect x="817.8" y="52.0" width="3.6" height="802.6" fill="url(#c122)"/><rect x="820.8" y="52.0" width="3.6" height="802.6" fill="url(#c123)"/><rect x="823.8" y="52.0" width="3.6" height="802.6" fill="url(#c124)"/><rect x="826.8" y="52.0" width="3.6" height="802.6" fill="url(#c125)"/><rect x="829.8" y="52.0" width="3.6" height="802.6" fill="url(#c126)"/><rect x="832.8" y="52.0" width="3.6" height="802.6" fill="url(#c127)"/><rect x="835.8" y="52.0" width="3.6" height="802.6" fill="url(#c128)"/><rect x="838.8" y="52.0" width="3.6" height="802.6" fill="url(#c129)"/><rect x="841.8" y="52.0" width="3.6" height="802.6" fill="url(#c130)"/><rect x="844.8" y="52.0" width="3.6" height="802.6" fill="url(#c131)"/><rect x="847.8" y="52.0" width="3.6" height="802.6" fill="url(#c132)"/><rect x="850.8" y="52.0" width="3.6" height="802.6" fill="url(#c133)"/><rect x="853.8" y="52.0" width="3.6" height="802.6" fill="url(#c134)"/><rect x="856.8" y="52.0" width="3.6" height="802.6" fill="url(#c135)"/><rect x="859.8" y="52.0" width="3.6" height="802.6" fill="url(#c136)"/><rect x="862.8" y="52.0" width="3.6" height="802.6" fill="url(#c137)"/><rect x="865.8" y="52.0" width="3.6" height="802.6" fill="url(#c138)"/><rect x="868.8" y="52.0" width="3.6" height="802.6" fill="url(#c139)"/><rect x="871.8" y="52.0" width="3.6" height="802.6" fill="url(#c140)"/><rect x="874.8" y="52.0" width="3.6" height="802.6" fill="url(#c141)"/><rect x="877.8" y="52.0" width="3.6" height="802.6" fill="url(#c142)"/><rect x="880.8" y="52.0" width="3.6" height="802.6" fill="url(#c143)"/><rect x="883.8" y="52.0" width="3.6" height="802.6" fill="url(#c144)"/><rect x="886.8" y="52.0" width="3.6" height="802.6" fill="url(#c145)"/><rect x="889.8" y="52.0" width="3.6" height="802.6" fill="url(#c146)"/><rect x="892.8" y="52.0" width="3.6" height="802.6" fill="url(#c147)"/><rect x="895.8" y="52.0" width="3.6" height="802.6" fill="url(#c148)"/><rect x="898.8" y="52.0" width="3.6" height="802.6" fill="url(#c149)"/><rect x="901.8" y="52.0" width="3.6" height="802.6" fill="url(#c150)"/><rect x="904.8" y="52.0" width="3.6" height="802.6" fill="url(#c151)"/><rect x="907.8" y="52.0" width="3.6" height="802.6" fill="url(#c152)"/><rect x="910.8" y="52.0" width="3.6" height="802.6" fill="url(#c153)"/><rect x="913.8" y="52.0" width="3.6" height="802.6" fill="url(#c154)"/><rect x="916.8" y="52.0" width="3.6" height="802.6" fill="url(#c155)"/><rect x="919.8" y="52.0" width="3.6" height="802.6" fill="url(#c156)"/><rect x="922.8" y="52.0" width="3.6" height="802.6" fill="url(#c157)"/><rect x="925.8" y="52.0" width="3.6" height="802.6" fill="url(#c158)"/><rect x="928.8" y="52.0" width="3.6" height="802.6" fill="url(#c159)"/><rect x="931.8" y="52.0" width="3.6" height="802.6" fill="url(#c160)"/><rect x="934.8" y="52.0" width="3.6" height="802.6" fill="url(#c161)"/><rect x="937.8" y="52.0" width="3.6" height="802.6" fill="url(#c162)"/><rect x="940.8" y="52.0" width="3.6" height="802.6" fill="url(#c163)"/><rect x="943.8" y="52.0" width="3.6" height="802.6" fill="url(#c164)"/><rect x="946.8" y="52.0" width="3.6" height="802.6" fill="url(#c165)"/><rect x="949.8" y="52.0" width="3.6" height="802.6" fill="url(#c166)"/><rect x="952.8" y="52.0" width="3.6" height="802.6" fill="url(#c167)"/><rect x="955.8" y="52.0" width="3.6" height="802.6" fill="url(#c168)"/><rect x="958.8" y="52.0" width="3.6" height="802.6" fill="url(#c169)"/><rect x="961.8" y="52.0" width="3.6" height="802.6" fill="url(#c170)"/><rect x="964.8" y="52.0" width="3.6" height="802.6" fill="url(#c171)"/><rect x="967.8" y="52.0" width="3.6" height="802.6" fill="url(#c172)"/><rect x="970.8" y="52.0" width="3.6" height="802.6" fill="url(#c173)"/><rect x="973.8" y="52.0" width="3.6" height="802.6" fill="url(#c174)"/><rect x="976.8" y="52.0" width="3.6" height="802.6" fill="url(#c175)"/><rect x="979.8" y="52.0" width="3.6" height="802.6" fill="url(#c176)"/><rect x="982.8" y="52.0" width="3.6" height="802.6" fill="url(#c177)"/><rect x="985.8" y="52.0" width="3.6" height="802.6" fill="url(#c178)"/><rect x="988.8" y="52.0" width="3.6" height="802.6" fill="url(#c179)"/><rect x="991.8" y="52.0" width="3.6" height="802.6" fill="url(#c180)"/><rect x="994.8" y="52.0" width="3.6" height="802.6" fill="url(#c181)"/><rect x="997.8" y="52.0" width="3.6" height="802.6" fill="url(#c182)"/><rect x="1000.8" y="52.0" width="3.6" height="802.6" fill="url(#c183)"/><rect x="1003.8" y="52.0" width="3.6" height="802.6" fill="url(#c184)"/><rect x="1006.8" y="52.0" width="3.6" height="802.6" fill="url(#c185)"/><rect x="1009.8" y="52.0" width="3.6" height="802.6" fill="url(#c186)"/><rect x="1012.8" y="52.0" width="3.6" height="802.6" fill="url(#c187)"/><rect x="1015.8" y="52.0" width="3.6" height="802.6" fill="url(#c188)"/><rect x="1018.8" y="52.0" width="3.6" height="802.6" fill="url(#c189)"/><rect x="1021.8" y="52.0" width="3.6" height="802.6" fill="url(#c190)"/><rect x="1024.8" y="52.0" width="3.6" height="802.6" fill="url(#c191)"/><rect x="1027.8" y="52.0" width="3.6" height="802.6" fill="url(#c192)"/><rect x="1030.8" y="52.0" width="3.6" height="802.6" fill="url(#c193)"/><rect x="1033.8" y="52.0" width="3.6" height="802.6" fill="url(#c194)"/><rect x="1036.8" y="52.0" width="3.6" height="802.6" fill="url(#c195)"/><rect x="1039.8" y="52.0" width="3.6" height="802.6" fill="url(#c196)"/><rect x="1042.8" y="52.0" width="1.4" height="802.6" fill="url(#c197)"/></g>
<path d="M1043.6,132.4 L1041.7,120.2 L1039.7,108.2 L1037.7,95.3 L1035.2,80.1 L1033.3,68.1 L1031.3,56.0 L1030.7,52.0" fill="none" stroke="#1a2a10" stroke-opacity="0.85" stroke-width="1.7"/>
<path d="M1043.6,536.6 L1041.3,521.5 L1039.5,509.5 L1037.6,497.4 L1035.1,481.4 L1033.2,469.4 L1031.4,457.3 L1028.8,441.3 L1026.9,429.2 L1025.0,417.2 L1022.9,403.9 L1020.5,389.1 L1018.6,377.1 L1016.6,365.0 L1014.0,349.2 L1012.0,336.9 L1010.0,324.9 L1008.0,312.8 L1005.3,296.8 L1003.3,284.8 L1001.2,272.7 L999.2,260.7 L996.4,244.6 L994.4,232.6 L992.3,220.5 L990.2,208.5 L987.4,192.5 L985.2,180.4 L983.1,168.4 L980.9,156.3 L978.5,142.7 L975.9,128.2 L973.7,116.2 L971.5,104.2 L969.3,92.1 L966.7,78.2 L964.0,64.0 L961.8,52.0" fill="none" stroke="#1a2a10" stroke-opacity="0.85" stroke-width="1.7"/>
<path d="M1025.0,854.6 L1022.9,840.8 L1020.7,826.5 L1018.8,814.5 L1017.0,802.3 L1014.5,786.4 L1012.6,774.3 L1010.7,762.3 L1008.2,746.2 L1006.2,734.2 L1004.3,722.2 L1002.2,709.0 L999.7,694.1 L997.8,682.0 L995.8,670.0 L993.3,654.9 L991.1,641.9 L989.1,629.9 L987.1,617.8 L984.4,602.1 L982.3,589.7 L980.2,577.7 L978.2,565.7 L975.5,550.6 L973.2,537.6 L971.1,525.5 L969.0,513.5 L966.7,500.5 L963.9,485.4 L961.8,473.4 L959.6,461.3 L957.4,449.3 L954.8,435.7 L952.1,421.2 L949.9,409.2 L947.6,397.1 L945.3,385.1 L943.0,373.0 L940.0,357.8 L937.5,344.9 L935.2,332.9 L932.8,320.9 L930.4,308.8 L928.0,296.8 L925.2,283.4 L922.3,268.9 L919.8,256.7 L917.3,244.6 L914.7,232.6 L912.2,220.5 L909.6,208.5 L907.0,196.5 L904.4,184.4 L901.6,171.4 L898.6,158.0 L895.6,144.7 L892.9,132.3 L890.1,120.2 L887.3,108.2 L884.6,96.1 L881.7,84.1 L878.9,72.1 L876.0,60.0 L874.1,52.0" fill="none" stroke="#1a2a10" stroke-opacity="0.85" stroke-width="1.7"/>
<path d="M946.5,854.6 L944.3,842.6 L942.1,830.5 L939.9,818.5 L937.1,803.5 L934.6,790.4 L932.3,778.4 L930.0,766.3 L927.7,754.3 L925.2,741.8 L922.3,726.7 L919.8,714.1 L917.4,702.1 L914.9,690.1 L912.5,678.0 L910.0,666.0 L907.5,653.8 L904.5,639.7 L901.6,625.9 L899.0,613.8 L896.4,601.8 L893.8,589.7 L891.2,577.7 L888.5,565.7 L885.8,553.6 L883.1,541.6 L880.3,529.5 L877.5,517.5 L874.7,505.5 L871.9,493.4 L869.0,481.4 L866.1,469.3 L863.1,457.3 L860.1,445.3 L857.1,433.2 L854.1,421.2 L851.0,409.2 L847.8,397.1 L844.6,385.1 L841.4,373.0 L838.1,361.0 L834.8,349.0 L831.4,336.9 L828.0,324.9 L824.6,313.2 L821.7,303.1 L818.6,292.8 L815.0,280.7 L811.2,268.7 L807.5,256.7 L803.9,245.6 L801.0,236.5 L797.0,224.6 L792.9,212.5 L789.1,201.5 L785.9,192.5 L781.6,180.4 L777.3,168.8 L774.1,160.4 L769.4,148.3 L765.5,138.4 L761.3,128.2 L756.6,117.1 L752.7,108.2 L747.7,97.1 L743.5,88.1 L738.8,78.4 L733.6,68.1 L729.4,60.0 L725.0,52.0" fill="none" stroke="#1a2a10" stroke-opacity="0.85" stroke-width="1.7"/>
<path d="M536.2,52.0 L531.7,61.7 L527.2,72.1 L522.8,82.8 L519.2,92.1 L514.7,104.2 L511.0,114.6 L507.7,124.2 L503.8,136.3 L500.0,148.3 L496.3,160.4 L493.2,170.8 L490.3,181.2 L487.2,192.5 L484.0,204.5 L480.8,216.5 L477.8,228.6 L474.9,240.6 L472.0,252.6 L469.2,264.7 L466.5,276.7 L463.6,289.9 L460.7,303.8 L458.0,316.9 L455.5,328.9 L453.2,340.9 L451.8,347.9" fill="none" stroke="#1a2a10" stroke-opacity="0.85" stroke-width="1.7"/>
<path d="M835.2,854.6 L831.9,842.6 L828.5,830.5 L825.0,818.5 L821.7,806.9 L818.7,796.9 L815.5,786.4 L811.8,774.3 L808.1,762.3 L804.2,750.3 L801.0,740.3 L797.6,730.2 L793.4,718.2 L789.2,706.1 L786.2,697.6 L781.9,686.1 L777.3,674.0 L774.2,666.0 L769.3,654.0 L765.5,644.7 L760.8,633.9 L756.6,624.5 L751.6,613.8 L747.7,605.7 L741.8,594.1 L737.3,585.7 L732.8,577.7 L727.0,567.9 L721.1,558.6 L715.2,550.0 L709.2,542.1 L703.3,534.9 L697.4,528.4 L690.1,521.5 L682.6,515.4 L673.7,509.8 L664.8,505.9 L656.0,503.8 L644.1,503.7 L635.3,505.8 L626.4,509.8 L617.5,515.8 L610.9,521.5 L603.3,529.5 L596.9,537.6 L591.2,545.6 L586.1,553.6 L581.4,561.7 L576.1,571.6 L571.1,581.7 L567.2,590.1 L562.1,601.8 L558.3,611.1 L554.2,621.8 L549.8,633.9 L546.5,643.4 L543.0,654.0 L539.2,666.0 L535.5,678.0 L532.0,690.1 L528.7,701.6 L525.8,712.6 L522.8,723.9 L519.9,735.6 L516.9,747.7 L513.9,760.1 L511.0,773.0 L508.0,786.3 L505.4,798.4 L502.9,810.5 L500.4,822.5 L498.0,834.5 L495.7,846.6 L494.2,854.6" fill="none" stroke="#1a2a10" stroke-opacity="0.85" stroke-width="1.7"/>
<rect x="451.8" y="52.0" width="591.8" height="802.6" fill="none" stroke="#3a3a30" stroke-width="2.2"/>
<path d="M451.8,854.6V874.6M435.8,854.6H451.8" stroke="#555" stroke-width="2" fill="none"/>
<path d="M570.2,854.6V874.6M435.8,694.1H451.8" stroke="#555" stroke-width="2" fill="none"/>
<path d="M688.5,854.6V874.6M435.8,533.6H451.8" stroke="#555" stroke-width="2" fill="none"/>
<path d="M806.9,854.6V874.6M435.8,373.0H451.8" stroke="#555" stroke-width="2" fill="none"/>
<path d="M925.2,854.6V874.6M435.8,212.5H451.8" stroke="#555" stroke-width="2" fill="none"/>
<path d="M1043.6,854.6V874.6M435.8,52.0H451.8" stroke="#555" stroke-width="2" fill="none"/>
<text transform="translate(417.63,861.56) scale(0.675,1)" font-family='"Liberation Sans",Arial,sans-serif' font-size="32.94" fill="#333" stroke="#333" stroke-width="0.45">12</text>
<text transform="translate(401.22,701.84) scale(0.832,1)" font-family='"Liberation Sans",Arial,sans-serif' font-size="25.37" fill="#333" stroke="#333" stroke-width="0.45">1.2</text>
<text transform="translate(401.24,541.32) scale(0.819,1)" font-family='"Liberation Sans",Arial,sans-serif' font-size="25.37" fill="#333" stroke="#333" stroke-width="0.45">1.4</text>
<text transform="translate(401.22,380.80) scale(0.829,1)" font-family='"Liberation Sans",Arial,sans-serif' font-size="25.37" fill="#333" stroke="#333" stroke-width="0.45">1.6</text>
<text transform="translate(401.23,220.28) scale(0.825,1)" font-family='"Liberation Sans",Arial,sans-serif' font-size="25.37" fill="#333" stroke="#333" stroke-width="0.45">1.8</text>
<text transform="translate(417.21,59.66) scale(0.791,1)" font-family='"Liberation Sans",Arial,sans-serif' font-size="27.51" fill="#333" stroke="#333" stroke-width="0.45">2</text>
<text transform="translate(445.46,909.26) scale(0.816,1)" font-family='"Liberation Sans",Arial,sans-serif' font-size="26.80" fill="#333" stroke="#333" stroke-width="0.45">1</text>
<text transform="translate(555.39,909.26) scale(0.779,1)" font-family='"Liberation Sans",Arial,sans-serif' font-size="26.80" fill="#333" stroke="#333" stroke-width="0.45">1.2</text>
<text transform="translate(673.78,909.26) scale(0.767,1)" font-family='"Liberation Sans",Arial,sans-serif' font-size="26.80" fill="#333" stroke="#333" stroke-width="0.45">1.4</text>
<text transform="translate(792.12,909.26) scale(0.776,1)" font-family='"Liberation Sans",Arial,sans-serif' font-size="26.80" fill="#333" stroke="#333" stroke-width="0.45">1.6</text>
<text transform="translate(910.49,909.26) scale(0.773,1)" font-family='"Liberation Sans",Arial,sans-serif' font-size="26.80" fill="#333" stroke="#333" stroke-width="0.45">1.8</text>
<text transform="translate(1037.87,909.26) scale(0.771,1)" font-family='"Liberation Sans",Arial,sans-serif' font-size="26.80" fill="#333" stroke="#333" stroke-width="0.45">2</text>
<rect x="476.5" y="163.8" width="26" height="27" fill="#fcfcfc" stroke="#444" stroke-width="1.8"/>
<text transform="translate(480.34,187.06) scale(0.609,1)" font-family='"Liberation Sans",Arial,sans-serif' font-size="27.09" fill="#4a4a4a" stroke="#4a4a4a" stroke-width="0.45" stroke-opacity="0">55</text>
<rect x="840.2" y="393.3" width="26" height="27" fill="#fcfcfc" stroke="#444" stroke-width="1.8"/>
<text transform="translate(844.04,416.56) scale(0.609,1)" font-family='"Liberation Sans",Arial,sans-serif' font-size="27.09" fill="#4a4a4a" stroke="#4a4a4a" stroke-width="0.45" stroke-opacity="0">55</text>
<rect x="941.5" y="413.7" width="26" height="27" fill="#fcfcfc" stroke="#444" stroke-width="1.8"/>
<text transform="translate(945.34,436.96) scale(0.609,1)" font-family='"Liberation Sans",Arial,sans-serif' font-size="27.09" fill="#4a4a4a" stroke="#4a4a4a" stroke-width="0.45" stroke-opacity="0">50</text>
<rect x="990.3" y="264.0" width="26" height="27" fill="#fcfcfc" stroke="#444" stroke-width="1.8"/>
<text transform="translate(994.39,287.26) scale(0.601,1)" font-family='"Liberation Sans",Arial,sans-serif' font-size="27.09" fill="#4a4a4a" stroke="#4a4a4a" stroke-width="0.45" stroke-opacity="0">45</text>
<rect x="652.5" y="483.5" width="26" height="27" fill="#fcfcfc" stroke="#444" stroke-width="1.8"/>
<text transform="translate(656.17,506.76) scale(0.615,1)" font-family='"Liberation Sans",Arial,sans-serif' font-size="27.09" fill="#4a4a4a" stroke="#4a4a4a" stroke-width="0.45" stroke-opacity="0">60</text>
<ellipse cx="451.8" cy="854.1" rx="5.3" ry="7.3" fill="#c80000" stroke="#3a0c06" stroke-width="1.7"/>
<ellipse cx="747.7" cy="854.1" rx="5.3" ry="7.3" fill="#c80000" stroke="#3a0c06" stroke-width="1.7"/>
<ellipse cx="1043.6" cy="854.1" rx="5.3" ry="7.3" fill="#c80000" stroke="#3a0c06" stroke-width="1.7"/>
<ellipse cx="451.8" cy="452.8" rx="5.3" ry="7.3" fill="#c80000" stroke="#3a0c06" stroke-width="1.7"/>
<ellipse cx="747.7" cy="452.8" rx="5.3" ry="7.3" fill="#c80000" stroke="#3a0c06" stroke-width="1.7"/>
<ellipse cx="1043.6" cy="452.8" rx="5.3" ry="7.3" fill="#c80000" stroke="#3a0c06" stroke-width="1.7"/>
<ellipse cx="451.8" cy="51.5" rx="5.3" ry="7.3" fill="#c80000" stroke="#3a0c06" stroke-width="1.7"/>
<ellipse cx="747.7" cy="51.5" rx="5.3" ry="7.3" fill="#c80000" stroke="#3a0c06" stroke-width="1.7"/>
<ellipse cx="1043.6" cy="51.5" rx="5.3" ry="7.3" fill="#c80000" stroke="#3a0c06" stroke-width="1.7"/>
<text transform="translate(726.41,458.26) scale(0.681,1)" font-family='"Liberation Sans",Arial,sans-serif' font-size="32.51" fill="#5a3a10" stroke="#5a3a10" stroke-width="0.45">3</text>
<text transform="translate(1022.77,459.76) scale(0.665,1)" font-family='"Liberation Sans",Arial,sans-serif' font-size="31.09" fill="#1a3a30" stroke="#1a3a30" stroke-width="0.45">2</text>
<text transform="translate(681.84,35.66) scale(0.717,1)" font-family='"Liberation Sans",Arial,sans-serif' font-size="40.81" fill="#0c0c0c" stroke="#0c0c0c" stroke-width="0.45">CS (MPa)</text>
<text transform="translate(679.57,1017.66) scale(0.747,1)" font-family='"Liberation Sans",Arial,sans-serif' font-size="34.29" fill="#0c0c0c" stroke="#0c0c0c" stroke-width="0.45">A: TiO2 (%)</text>
<text transform="translate(350.26,577.96) rotate(-90) scale(1.364,1)" font-family='"Liberation Sans",Arial,sans-serif' font-size="25.30" fill="#0c0c0c" stroke="#0c0c0c" stroke-width="1.1">B: PVA Fiber (%)</text>
<text transform="translate(717,1064.8) scale(0.95,1)" font-family='"Liberation Serif","Times New Roman",serif' font-size="48" fill="#0a0a0a">(<tspan font-weight="bold">a</tspan>)</text>
<g clip-path="url(#frag)"><text x="1041.5" y="148.3" font-family='"Liberation Sans",Arial,sans-serif' font-size="27" font-weight="bold" fill="#cc3030">e</text><text x="1046.5" y="185" font-family='"Liberation Sans",Arial,sans-serif' font-size="22" fill="#e8a0c0">:</text></g>
<path d="M1165.4,369.9L1606.0,16.4L2001.1,421.4M1174.1,402.5L1605.4,54.5L1992.2,452.6M1182.7,435.1L1604.8,92.6L1983.3,483.7M1191.4,467.7L1604.2,130.6L1974.4,514.9M1200.0,500.2L1603.6,168.7L1965.5,546.1M1208.7,532.8L1603.0,206.8L1956.6,577.2M1217.3,565.4L1602.4,244.9L1947.7,608.4M1165.4,369.9L1232.2,621.5M2001.1,421.4L1932.4,662.0M1253.5,299.2L1294.3,501.3M1922.1,340.4L1878.6,535.7M1341.6,228.5L1371.3,437.2M1843.1,259.4L1809.6,463.0M1429.8,157.8L1448.4,373.1M1764.0,178.4L1740.5,390.3M1517.9,87.1L1525.4,309.0M1685.0,97.4L1671.5,317.6M1606.0,16.4L1602.4,244.9M1606.0,16.4L1602.4,244.9" stroke="#161616" stroke-width="1.7" fill="none"/><path d="M1558.3,1013.4L1932.4,662.0L1601.4,310.3L1232.2,621.5Z" fill="#ffff00" stroke="#1a1a00" stroke-width="2"/><path d="M1800.6,785.8 L1786.5,778.8 L1772.3,771.9 L1757.8,765.1 L1743.4,758.6 L1732.2,753.7 L1718.3,747.9 L1703.1,741.8 L1690.0,736.9 L1676.8,732.3 L1661.3,727.3 L1649.2,723.9 L1635.0,720.4 L1619.5,717.4 L1606.6,715.7 L1592.7,714.8 L1577.2,715.4 L1565.6,717.4 L1550.5,722.9 L1535.0,735.5 L1526.8,749.0 L1522.2,764.9 L1520.5,779.9 L1520.6,793.4 L1521.7,806.0 L1524.3,823.2 L1526.9,835.4 L1531.1,852.0 L1535.8,867.9 L1539.9,880.6 L1544.8,894.3 L1550.6,909.7 L1556.6,924.8 L1562.9,939.7 L1569.8,955.4 L1577.8,972.9 L1585.1,988.3" fill="none" stroke="#ff9000" stroke-width="1.7"/><path d="M1871.0,719.6 L1858.3,711.5 L1844.0,702.4 L1828.6,692.6 L1815.7,684.6 L1802.8,676.5 L1789.9,668.5 L1776.9,660.5 L1763.8,652.5 L1748.5,643.3 L1733.5,634.3 L1720.1,626.3 L1706.8,618.5 L1693.4,610.8 L1680.0,603.0 L1666.5,595.4 L1652.9,587.8 L1639.2,580.2 L1625.5,572.7 L1611.6,565.3 L1597.6,557.9 L1584.1,550.9 L1571.9,544.7 L1559.8,538.7 L1545.3,531.7 L1530.6,524.8 L1515.8,518.1 L1503.9,512.9 L1490.5,507.2 L1475.0,501.0 L1463.2,496.5 L1448.3,491.2 L1435.2,486.8 L1420.3,482.4 L1408.6,479.3 L1402.6,477.8" fill="none" stroke="#b4ff00" stroke-width="1.7"/><path d="M1284.8,577.1 L1286.9,589.0 L1290.6,605.4 L1294.6,620.6 L1298.1,632.3 L1303.1,648.0 L1308.6,663.4 L1314.3,678.6 L1320.2,693.6 L1326.4,708.5 L1332.7,723.2 L1339.2,737.8 L1345.9,752.2 L1352.4,766.0" fill="none" stroke="#b4ff00" stroke-width="1.7"/><path d="M1920.6,673.0 L1904.3,661.8 L1892.0,653.4 L1879.7,645.0 L1865.1,635.1 L1850.9,625.5 L1838.5,617.1 L1826.1,608.8 L1809.5,597.6 L1797.1,589.3 L1784.6,581.0 L1772.1,572.7 L1755.4,561.7 L1742.7,553.3 L1730.1,545.0 L1717.4,536.8 L1703.9,528.0 L1687.7,517.6 L1674.9,509.4 L1662.1,501.2 L1649.3,493.0 L1636.4,484.9 L1622.7,476.3 L1607.1,466.6 L1593.0,457.8 L1579.9,449.8 L1566.8,441.8 L1553.6,433.8 L1540.3,425.8 L1527.0,417.9 L1513.6,409.9 L1500.1,402.1 L1495.6,399.5" fill="none" stroke="#18f020" stroke-width="1.7"/><path d="M1801.2,522.7 L1787.4,513.1 L1775.2,504.7 L1762.2,495.7 L1746.5,484.9 L1734.1,476.5 L1721.8,468.0 L1705.4,456.9 L1692.9,448.4 L1680.4,439.9 L1668.0,431.5 L1651.3,420.3 L1638.8,411.9 L1626.2,403.5 L1613.6,395.1 L1598.1,384.8 L1584.2,375.6 L1571.5,367.3 L1558.8,358.9 L1550.3,353.4" fill="none" stroke="#00ffc0" stroke-width="1.7"/><circle cx="1558.3" cy="1013.4" r="3" fill="#0a0a0a"/><circle cx="1558.3" cy="1013.4" r="3" fill="#0a0a0a"/><circle cx="1633.1" cy="943.1" r="3" fill="#0a0a0a"/><circle cx="1493.1" cy="935.0" r="3" fill="#0a0a0a"/><circle cx="1707.9" cy="872.9" r="3" fill="#0a0a0a"/><circle cx="1427.9" cy="856.6" r="3" fill="#0a0a0a"/><circle cx="1782.8" cy="802.6" r="3" fill="#0a0a0a"/><circle cx="1362.6" cy="778.2" r="3" fill="#0a0a0a"/><circle cx="1857.6" cy="732.3" r="3" fill="#0a0a0a"/><circle cx="1297.4" cy="699.9" r="3" fill="#0a0a0a"/><circle cx="1932.4" cy="662.0" r="3" fill="#0a0a0a"/><circle cx="1232.2" cy="621.5" r="3" fill="#0a0a0a"/><circle cx="1165.4" cy="369.9" r="3" fill="#0a0a0a"/><circle cx="1174.1" cy="402.5" r="3" fill="#0a0a0a"/><circle cx="1182.7" cy="435.1" r="3" fill="#0a0a0a"/><circle cx="1191.4" cy="467.7" r="3" fill="#0a0a0a"/><circle cx="1200.0" cy="500.2" r="3" fill="#0a0a0a"/><circle cx="1208.7" cy="532.8" r="3" fill="#0a0a0a"/><circle cx="1217.3" cy="565.4" r="3" fill="#0a0a0a"/>
<circle cx="1398.5" cy="264.2" r="6.0" fill="#f08890" stroke="#2a0808" stroke-width="1.7"/>
<circle cx="1779.0" cy="363.5" r="6.0" fill="#d87078" stroke="#2a0808" stroke-width="1.7"/>
<circle cx="1189.0" cy="458.8" r="6.0" fill="#e8707a" stroke="#2a0808" stroke-width="1.7"/>
<circle cx="1553.7" cy="862.6" r="6.0" fill="#e8788a" stroke="#2a0808" stroke-width="1.7"/>
<circle cx="1781.4" cy="638.5" r="6.0" fill="#e07888" stroke="#2a0808" stroke-width="1.7"/>
<g stroke-width="0.8" stroke-linejoin="round"><path d="M1602,224L1612,225 1603,217 1593,216Z" fill="#00006d" stroke="#00006d"/><path d="M1592,223L1602,224 1593,216 1583,216Z" fill="#000f85" stroke="#000f85"/><path d="M1611,231L1621,232 1612,225 1602,224Z" fill="#00006e" stroke="#00006e"/><path d="M1601,231L1611,231 1602,224 1592,223Z" fill="#001685" stroke="#001685"/><path d="M1582,223L1592,223 1583,216 1573,216Z" fill="#00319c" stroke="#00319c"/><path d="M1620,239L1629,239 1621,232 1611,231Z" fill="#00006e" stroke="#00006e"/><path d="M1572,224L1582,223 1573,216 1563,216Z" fill="#005bb4" stroke="#005bb4"/><path d="M1591,231L1601,231 1592,223 1582,223Z" fill="#00399d" stroke="#00399d"/><path d="M1610,238L1620,239 1611,231 1601,231Z" fill="#001c86" stroke="#001c86"/><path d="M1629,246L1638,246 1629,239 1620,239Z" fill="#00056f" stroke="#00056f"/><path d="M1562,224L1572,224 1563,216 1553,217Z" fill="#0086c2" stroke="#0086c2"/><path d="M1581,231L1591,231 1582,223 1572,224Z" fill="#0064b5" stroke="#0064b5"/><path d="M1600,238L1610,238 1601,231 1591,231Z" fill="#00409e" stroke="#00409e"/><path d="M1619,246L1629,246 1620,239 1610,238Z" fill="#002286" stroke="#002286"/><path d="M1638,253L1647,254 1638,246 1629,246Z" fill="#000a6f" stroke="#000a6f"/><path d="M1552,225L1562,224 1553,217 1543,218Z" fill="#01acc6" stroke="#01acc6"/><path d="M1571,232L1581,231 1572,224 1562,224Z" fill="#008fc2" stroke="#008fc2"/><path d="M1590,239L1600,238 1591,231 1581,231Z" fill="#006cb5" stroke="#006cb5"/><path d="M1609,246L1619,246 1610,238 1600,238Z" fill="#00479e" stroke="#00479e"/><path d="M1628,253L1638,253 1629,246 1619,246Z" fill="#002887" stroke="#002887"/><path d="M1647,261L1656,261 1647,254 1638,253Z" fill="#000f70" stroke="#000f70"/><path d="M1542,227L1552,225 1543,218 1533,219Z" fill="#02cac3" stroke="#02cac3"/><path d="M1561,233L1571,232 1562,224 1552,225Z" fill="#01b5c6" stroke="#01b5c6"/><path d="M1580,240L1590,239 1581,231 1571,232Z" fill="#0198c3" stroke="#0198c3"/><path d="M1599,247L1609,246 1600,238 1590,239Z" fill="#0075b6" stroke="#0075b6"/><path d="M1618,254L1628,253 1619,246 1609,246Z" fill="#004f9f" stroke="#004f9f"/><path d="M1637,261L1647,261 1638,253 1628,253Z" fill="#002e88" stroke="#002e88"/><path d="M1656,268L1665,269 1656,261 1647,261Z" fill="#001570" stroke="#001570"/><path d="M1551,235L1561,233 1552,225 1542,227Z" fill="#02cbbb" stroke="#02cbbb"/><path d="M1646,268L1656,268 1647,261 1637,261Z" fill="#003588" stroke="#003588"/><path d="M1531,229L1542,227 1533,219 1522,221Z" fill="#03cea6" stroke="#03cea6"/><path d="M1570,241L1580,240 1571,232 1561,233Z" fill="#02bec7" stroke="#02bec7"/><path d="M1589,248L1599,247 1590,239 1580,240Z" fill="#01a1c4" stroke="#01a1c4"/><path d="M1608,254L1618,254 1609,246 1599,247Z" fill="#007db7" stroke="#007db7"/><path d="M1627,261L1637,261 1628,253 1618,254Z" fill="#0056a0" stroke="#0056a0"/><path d="M1665,276L1674,276 1665,269 1656,268Z" fill="#001a71" stroke="#001a71"/><path d="M1521,231L1531,229 1522,221 1512,223Z" fill="#04d28a" stroke="#04d28a"/><path d="M1541,237L1551,235 1542,227 1531,229Z" fill="#03cf9e" stroke="#03cf9e"/><path d="M1560,243L1570,241 1561,233 1551,235Z" fill="#03cbb3" stroke="#03cbb3"/><path d="M1579,249L1589,248 1580,240 1570,241Z" fill="#02c7c8" stroke="#02c7c8"/><path d="M1617,262L1627,261 1618,254 1608,254Z" fill="#0086b7" stroke="#0086b7"/><path d="M1636,269L1646,268 1637,261 1627,261Z" fill="#005ea0" stroke="#005ea0"/><path d="M1655,276L1665,276 1656,268 1646,268Z" fill="#003b89" stroke="#003b89"/><path d="M1674,283L1683,283 1674,276 1665,276Z" fill="#001f71" stroke="#001f71"/><path d="M1598,255L1608,254 1599,247 1589,248Z" fill="#01aac5" stroke="#01aac5"/><path d="M1511,234L1521,231 1512,223 1501,225Z" fill="#04d76f" stroke="#04d76f"/><path d="M1530,239L1541,237 1531,229 1521,231Z" fill="#04d382" stroke="#04d382"/><path d="M1550,245L1560,243 1551,235 1541,237Z" fill="#04cf96" stroke="#04cf96"/><path d="M1569,251L1579,249 1570,241 1560,243Z" fill="#03ccab" stroke="#03ccab"/><path d="M1588,257L1598,255 1589,248 1579,249Z" fill="#02c8c0" stroke="#02c8c0"/><path d="M1607,263L1617,262 1608,254 1598,255Z" fill="#01b4c5" stroke="#01b4c5"/><path d="M1626,270L1636,269 1627,261 1617,262Z" fill="#008eb8" stroke="#008eb8"/><path d="M1645,277L1655,276 1646,268 1636,269Z" fill="#0065a1" stroke="#0065a1"/><path d="M1664,284L1674,283 1665,276 1655,276Z" fill="#004189" stroke="#004189"/><path d="M1683,291L1692,291 1683,283 1674,283Z" fill="#002472" stroke="#002472"/><path d="M1500,236L1511,234 1501,225 1491,228Z" fill="#07d954" stroke="#07d954"/><path d="M1520,242L1530,239 1521,231 1511,234Z" fill="#05d766" stroke="#05d766"/><path d="M1539,247L1550,245 1541,237 1530,239Z" fill="#05d37a" stroke="#05d37a"/><path d="M1559,253L1569,251 1560,243 1550,245Z" fill="#05cf8e" stroke="#05cf8e"/><path d="M1578,259L1588,257 1579,249 1569,251Z" fill="#04cca2" stroke="#04cca2"/><path d="M1597,265L1607,263 1598,255 1588,257Z" fill="#02c9b8" stroke="#02c9b8"/><path d="M1617,271L1626,270 1617,262 1607,263Z" fill="#01bdc6" stroke="#01bdc6"/><path d="M1636,278L1645,277 1636,269 1626,270Z" fill="#0097b9" stroke="#0097b9"/><path d="M1654,284L1664,284 1655,276 1645,277Z" fill="#006da2" stroke="#006da2"/><path d="M1673,291L1683,291 1674,283 1664,284Z" fill="#00488a" stroke="#00488a"/><path d="M1692,298L1701,298 1692,291 1683,291Z" fill="#002973" stroke="#002973"/><path d="M1489,240L1500,236 1491,228 1480,232Z" fill="#0cdb3c" stroke="#0cdb3c"/><path d="M1509,245L1520,242 1511,234 1500,236Z" fill="#08da4c" stroke="#08da4c"/><path d="M1529,250L1539,247 1530,239 1520,242Z" fill="#06d75e" stroke="#06d75e"/><path d="M1548,255L1559,253 1550,245 1539,247Z" fill="#06d371" stroke="#06d371"/><path d="M1568,261L1578,259 1569,251 1559,253Z" fill="#05d085" stroke="#05d085"/><path d="M1587,267L1597,265 1588,257 1578,259Z" fill="#04cd9a" stroke="#04cd9a"/><path d="M1606,273L1617,271 1607,263 1597,265Z" fill="#03cab0" stroke="#03cab0"/><path d="M1626,279L1636,278 1626,270 1617,271Z" fill="#01c6c7" stroke="#01c6c7"/><path d="M1645,285L1654,284 1645,277 1636,278Z" fill="#00a0ba" stroke="#00a0ba"/><path d="M1664,292L1673,291 1664,284 1654,284Z" fill="#0074a2" stroke="#0074a2"/><path d="M1682,299L1692,298 1683,291 1673,291Z" fill="#004e8b" stroke="#004e8b"/><path d="M1701,306L1710,306 1701,298 1692,298Z" fill="#002f73" stroke="#002f73"/><path d="M1499,248L1509,245 1500,236 1489,240Z" fill="#0ddb35" stroke="#0ddb35"/><path d="M1596,275L1606,273 1597,265 1587,267Z" fill="#04cd92" stroke="#04cd92"/><path d="M1691,307L1701,306 1692,298 1682,299Z" fill="#00558b" stroke="#00558b"/><path d="M1479,243L1489,240 1480,232 1470,235Z" fill="#10dc27" stroke="#10dc27"/><path d="M1518,253L1529,250 1520,242 1509,245Z" fill="#09da44" stroke="#09da44"/><path d="M1538,258L1548,255 1539,247 1529,250Z" fill="#07d756" stroke="#07d756"/><path d="M1558,263L1568,261 1559,253 1548,255Z" fill="#07d469" stroke="#07d469"/><path d="M1577,269L1587,267 1578,259 1568,261Z" fill="#06d07d" stroke="#06d07d"/><path d="M1616,281L1626,279 1617,271 1606,273Z" fill="#03caa8" stroke="#03caa8"/><path d="M1635,287L1645,285 1636,278 1626,279Z" fill="#01c7c0" stroke="#01c7c0"/><path d="M1654,293L1664,292 1654,284 1645,285Z" fill="#00a8ba" stroke="#00a8ba"/><path d="M1673,300L1682,299 1673,291 1664,292Z" fill="#007ba3" stroke="#007ba3"/><path d="M1710,314L1719,313 1710,306 1701,306Z" fill="#003474" stroke="#003474"/><path d="M1468,247L1479,243 1470,235 1459,239Z" fill="#15de14" stroke="#15de14"/><path d="M1488,252L1499,248 1489,240 1479,243Z" fill="#12dd20" stroke="#12dd20"/><path d="M1508,256L1518,253 1509,245 1499,248Z" fill="#0edb2d" stroke="#0edb2d"/><path d="M1527,261L1538,258 1529,250 1518,253Z" fill="#0bda3d" stroke="#0bda3d"/><path d="M1567,271L1577,269 1568,261 1558,263Z" fill="#08d461" stroke="#08d461"/><path d="M1586,277L1596,275 1587,267 1577,269Z" fill="#06d175" stroke="#06d175"/><path d="M1606,283L1616,281 1606,273 1596,275Z" fill="#05ce8a" stroke="#05ce8a"/><path d="M1625,289L1635,287 1626,279 1616,281Z" fill="#03cba0" stroke="#03cba0"/><path d="M1663,301L1673,300 1664,292 1654,293Z" fill="#00b1bb" stroke="#00b1bb"/><path d="M1682,308L1691,307 1682,299 1673,300Z" fill="#0083a3" stroke="#0083a3"/><path d="M1701,314L1710,314 1701,306 1691,307Z" fill="#005b8b" stroke="#005b8b"/><path d="M1719,321L1728,321 1719,313 1710,314Z" fill="#003a75" stroke="#003a75"/><path d="M1547,266L1558,263 1548,255 1538,258Z" fill="#08d74e" stroke="#08d74e"/><path d="M1644,295L1654,293 1645,285 1635,287Z" fill="#01c8b8" stroke="#01c8b8"/><path d="M1457,252L1468,247 1459,239 1448,243Z" fill="#2edf18" stroke="#2edf18"/><path d="M1477,256L1488,252 1479,243 1468,247Z" fill="#1ede15" stroke="#1ede15"/><path d="M1497,260L1508,256 1499,248 1488,252Z" fill="#13dd19" stroke="#13dd19"/><path d="M1517,265L1527,261 1518,253 1508,256Z" fill="#0fdc26" stroke="#0fdc26"/><path d="M1537,269L1547,266 1538,258 1527,261Z" fill="#0cda35" stroke="#0cda35"/><path d="M1556,274L1567,271 1558,263 1547,266Z" fill="#09d846" stroke="#09d846"/><path d="M1576,280L1586,277 1577,269 1567,271Z" fill="#08d459" stroke="#08d459"/><path d="M1595,285L1606,283 1596,275 1586,277Z" fill="#07d16d" stroke="#07d16d"/><path d="M1615,291L1625,289 1616,281 1606,283Z" fill="#05ce82" stroke="#05ce82"/><path d="M1634,297L1644,295 1635,287 1625,289Z" fill="#03cb98" stroke="#03cb98"/><path d="M1653,303L1663,301 1654,293 1644,295Z" fill="#01c8af" stroke="#01c8af"/><path d="M1672,309L1682,308 1673,300 1663,301Z" fill="#01b8ba" stroke="#01b8ba"/><path d="M1691,315L1701,314 1691,307 1682,308Z" fill="#018aa3" stroke="#018aa3"/><path d="M1710,322L1719,321 1710,314 1701,314Z" fill="#01618c" stroke="#01618c"/><path d="M1728,329L1737,328 1728,321 1719,321Z" fill="#004076" stroke="#004076"/><path d="M1447,256L1457,252 1448,243 1438,248Z" fill="#46e11c" stroke="#46e11c"/><path d="M1467,260L1477,256 1468,247 1457,252Z" fill="#38e019" stroke="#38e019"/><path d="M1487,264L1497,260 1488,252 1477,256Z" fill="#27de16" stroke="#27de16"/><path d="M1506,269L1517,265 1508,256 1497,260Z" fill="#15dd13" stroke="#15dd13"/><path d="M1526,273L1537,269 1527,261 1517,265Z" fill="#11dc1f" stroke="#11dc1f"/><path d="M1546,278L1556,274 1547,266 1537,269Z" fill="#0dda2d" stroke="#0dda2d"/><path d="M1566,283L1576,280 1567,271 1556,274Z" fill="#0ad83f" stroke="#0ad83f"/><path d="M1585,288L1595,285 1586,277 1576,280Z" fill="#09d551" stroke="#09d551"/><path d="M1605,293L1615,291 1606,283 1595,285Z" fill="#08d265" stroke="#08d265"/><path d="M1624,299L1634,297 1625,289 1615,291Z" fill="#06cf7a" stroke="#06cf7a"/><path d="M1643,305L1653,303 1644,295 1634,297Z" fill="#04cc90" stroke="#04cc90"/><path d="M1662,311L1672,309 1663,301 1653,303Z" fill="#02c8a7" stroke="#02c8a7"/><path d="M1681,317L1691,315 1682,308 1672,309Z" fill="#01bab4" stroke="#01bab4"/><path d="M1700,323L1710,322 1701,314 1691,315Z" fill="#0191a3" stroke="#0191a3"/><path d="M1719,330L1728,329 1719,321 1710,322Z" fill="#01688c" stroke="#01688c"/><path d="M1737,337L1747,336 1737,328 1728,329Z" fill="#004577" stroke="#004577"/><path d="M1436,261L1447,256 1438,248 1427,253Z" fill="#5ce220" stroke="#5ce220"/><path d="M1456,265L1467,260 1457,252 1447,256Z" fill="#4fe11e" stroke="#4fe11e"/><path d="M1476,269L1487,264 1477,256 1467,260Z" fill="#41e01b" stroke="#41e01b"/><path d="M1496,273L1506,269 1497,260 1487,264Z" fill="#31df17" stroke="#31df17"/><path d="M1516,277L1526,273 1517,265 1506,269Z" fill="#1fdd14" stroke="#1fdd14"/><path d="M1535,281L1546,278 1537,269 1526,273Z" fill="#12dc18" stroke="#12dc18"/><path d="M1555,286L1566,283 1556,274 1546,278Z" fill="#0edb26" stroke="#0edb26"/><path d="M1575,291L1585,288 1576,280 1566,283Z" fill="#0bd837" stroke="#0bd837"/><path d="M1594,296L1605,293 1595,285 1585,288Z" fill="#0ad54a" stroke="#0ad54a"/><path d="M1614,301L1624,299 1615,291 1605,293Z" fill="#08d25d" stroke="#08d25d"/><path d="M1633,307L1643,305 1634,297 1624,299Z" fill="#06cf72" stroke="#06cf72"/><path d="M1652,313L1662,311 1653,303 1643,305Z" fill="#05cb88" stroke="#05cb88"/><path d="M1672,319L1681,317 1672,309 1662,311Z" fill="#03c79e" stroke="#03c79e"/><path d="M1691,325L1700,323 1691,315 1681,317Z" fill="#02baac" stroke="#02baac"/><path d="M1709,331L1719,330 1710,322 1700,323Z" fill="#0198a3" stroke="#0198a3"/><path d="M1728,338L1737,337 1728,329 1719,330Z" fill="#016e8d" stroke="#016e8d"/><path d="M1747,344L1756,344 1747,336 1737,337Z" fill="#004b77" stroke="#004b77"/><path d="M1445,270L1456,265 1447,256 1436,261Z" fill="#65e322" stroke="#65e322"/><path d="M1545,290L1555,286 1546,278 1535,281Z" fill="#14dc12" stroke="#14dc12"/><path d="M1642,315L1652,313 1643,305 1633,307Z" fill="#07cf6a" stroke="#07cf6a"/><path d="M1737,345L1747,344 1737,337 1728,338Z" fill="#01758d" stroke="#01758d"/><path d="M1425,267L1436,261 1427,253 1416,258Z" fill="#70e425" stroke="#70e425"/><path d="M1465,274L1476,269 1467,260 1456,265Z" fill="#59e21f" stroke="#59e21f"/><path d="M1485,277L1496,273 1487,264 1476,269Z" fill="#4ae01c" stroke="#4ae01c"/><path d="M1505,281L1516,277 1506,269 1496,273Z" fill="#3adf19" stroke="#3adf19"/><path d="M1525,286L1535,281 1526,273 1516,277Z" fill="#28de15" stroke="#28de15"/><path d="M1564,294L1575,291 1566,283 1555,286Z" fill="#0fdb1f" stroke="#0fdb1f"/><path d="M1584,299L1594,296 1585,288 1575,291Z" fill="#0cd82f" stroke="#0cd82f"/><path d="M1604,304L1614,301 1605,293 1594,296Z" fill="#0bd542" stroke="#0bd542"/><path d="M1623,310L1633,307 1624,299 1614,301Z" fill="#09d256" stroke="#09d256"/><path d="M1662,321L1672,319 1662,311 1652,313Z" fill="#05cb7f" stroke="#05cb7f"/><path d="M1681,327L1691,325 1681,317 1672,319Z" fill="#03c795" stroke="#03c795"/><path d="M1700,333L1709,331 1700,323 1691,325Z" fill="#02b9a4" stroke="#02b9a4"/><path d="M1719,339L1728,338 1719,330 1709,331Z" fill="#029fa3" stroke="#029fa3"/><path d="M1756,352L1765,351 1756,344 1747,344Z" fill="#005178" stroke="#005178"/><path d="M1414,272L1425,267 1416,258 1405,264Z" fill="#82e62a" stroke="#82e62a"/><path d="M1434,276L1445,270 1436,261 1425,267Z" fill="#79e427" stroke="#79e427"/><path d="M1454,279L1465,274 1456,265 1445,270Z" fill="#6ee324" stroke="#6ee324"/><path d="M1474,282L1485,277 1476,269 1465,274Z" fill="#62e221" stroke="#62e221"/><path d="M1514,290L1525,286 1516,277 1505,281Z" fill="#43df1a" stroke="#43df1a"/><path d="M1534,294L1545,290 1535,281 1525,286Z" fill="#32de17" stroke="#32de17"/><path d="M1554,298L1564,294 1555,286 1545,290Z" fill="#1edc13" stroke="#1edc13"/><path d="M1574,303L1584,299 1575,291 1564,294Z" fill="#10db17" stroke="#10db17"/><path d="M1613,313L1623,310 1614,301 1604,304Z" fill="#0cd53a" stroke="#0cd53a"/><path d="M1632,318L1642,315 1633,307 1623,310Z" fill="#0ad24e" stroke="#0ad24e"/><path d="M1652,323L1662,321 1652,313 1642,315Z" fill="#08ce62" stroke="#08ce62"/><path d="M1671,329L1681,327 1672,319 1662,321Z" fill="#06ca77" stroke="#06ca77"/><path d="M1709,341L1719,339 1709,331 1700,333Z" fill="#03b99c" stroke="#03b99c"/><path d="M1728,347L1737,345 1728,338 1719,339Z" fill="#02a3a0" stroke="#02a3a0"/><path d="M1746,353L1756,352 1747,344 1737,345Z" fill="#017b8e" stroke="#017b8e"/><path d="M1765,360L1774,359 1765,351 1756,352Z" fill="#005679" stroke="#005679"/><path d="M1494,286L1505,281 1496,273 1485,277Z" fill="#53e11e" stroke="#53e11e"/><path d="M1593,308L1604,304 1594,296 1584,299Z" fill="#0dd928" stroke="#0dd928"/><path d="M1690,335L1700,333 1691,325 1681,327Z" fill="#04c68d" stroke="#04c68d"/><path d="M1404,278L1414,272 1405,264 1394,270Z" fill="#92e72e" stroke="#92e72e"/><path d="M1424,281L1434,276 1425,267 1414,272Z" fill="#8be62c" stroke="#8be62c"/><path d="M1444,284L1454,279 1445,270 1434,276Z" fill="#81e529" stroke="#81e529"/><path d="M1464,288L1474,282 1465,274 1454,279Z" fill="#77e326" stroke="#77e326"/><path d="M1484,291L1494,286 1485,277 1474,282Z" fill="#6ae223" stroke="#6ae223"/><path d="M1504,295L1514,290 1505,281 1494,286Z" fill="#5ce11f" stroke="#5ce11f"/><path d="M1523,298L1534,294 1525,286 1514,290Z" fill="#4cdf1c" stroke="#4cdf1c"/><path d="M1543,303L1554,298 1545,290 1534,294Z" fill="#3bde18" stroke="#3bde18"/><path d="M1563,307L1574,303 1564,294 1554,298Z" fill="#27dd14" stroke="#27dd14"/><path d="M1583,311L1593,308 1584,299 1574,303Z" fill="#12db10" stroke="#12db10"/><path d="M1603,316L1613,313 1604,304 1593,308Z" fill="#0ed920" stroke="#0ed920"/><path d="M1622,321L1632,318 1623,310 1613,313Z" fill="#0dd533" stroke="#0dd533"/><path d="M1642,326L1652,323 1642,315 1632,318Z" fill="#0bd246" stroke="#0bd246"/><path d="M1661,331L1671,329 1662,321 1652,323Z" fill="#09ce5a" stroke="#09ce5a"/><path d="M1680,337L1690,335 1681,327 1671,329Z" fill="#07ca6f" stroke="#07ca6f"/><path d="M1699,343L1709,341 1700,333 1690,335Z" fill="#05c685" stroke="#05c685"/><path d="M1718,349L1728,347 1719,339 1709,341Z" fill="#03b994" stroke="#03b994"/><path d="M1737,355L1746,353 1737,345 1728,347Z" fill="#02a399" stroke="#02a399"/><path d="M1756,361L1765,360 1756,352 1746,353Z" fill="#01818e" stroke="#01818e"/><path d="M1774,368L1783,367 1774,359 1765,360Z" fill="#005c7a" stroke="#005c7a"/><path d="M1393,285L1404,278 1394,270 1384,276Z" fill="#a1e833" stroke="#a1e833"/><path d="M1413,287L1424,281 1414,272 1404,278Z" fill="#9be731" stroke="#9be731"/><path d="M1433,290L1444,284 1434,276 1424,281Z" fill="#93e62e" stroke="#93e62e"/><path d="M1453,293L1464,288 1454,279 1444,284Z" fill="#8ae52b" stroke="#8ae52b"/><path d="M1473,296L1484,291 1474,282 1464,288Z" fill="#7fe428" stroke="#7fe428"/><path d="M1493,300L1504,295 1494,286 1484,291Z" fill="#73e224" stroke="#73e224"/><path d="M1513,303L1523,298 1514,290 1504,295Z" fill="#65e121" stroke="#65e121"/><path d="M1533,307L1543,303 1534,294 1523,298Z" fill="#55e01d" stroke="#55e01d"/><path d="M1553,311L1563,307 1554,298 1543,303Z" fill="#44de19" stroke="#44de19"/><path d="M1572,315L1583,311 1574,303 1563,307Z" fill="#30dd15" stroke="#30dd15"/><path d="M1592,320L1603,316 1593,308 1583,311Z" fill="#1bdb11" stroke="#1bdb11"/><path d="M1612,324L1622,321 1613,313 1603,316Z" fill="#10d919" stroke="#10d919"/><path d="M1631,329L1642,326 1632,318 1622,321Z" fill="#0ed52b" stroke="#0ed52b"/><path d="M1651,334L1661,331 1652,323 1642,326Z" fill="#0cd13e" stroke="#0cd13e"/><path d="M1670,340L1680,337 1671,329 1661,331Z" fill="#0acd52" stroke="#0acd52"/><path d="M1689,345L1699,343 1690,335 1680,337Z" fill="#07c967" stroke="#07c967"/><path d="M1709,351L1718,349 1709,341 1699,343Z" fill="#05c57d" stroke="#05c57d"/><path d="M1728,357L1737,355 1728,347 1718,349Z" fill="#04b88c" stroke="#04b88c"/><path d="M1746,363L1756,361 1746,353 1737,355Z" fill="#03a393" stroke="#03a393"/><path d="M1765,369L1774,368 1765,360 1756,361Z" fill="#02888e" stroke="#02888e"/><path d="M1783,375L1793,374 1783,367 1774,368Z" fill="#01627b" stroke="#01627b"/><path d="M1382,291L1393,285 1384,276 1373,283Z" fill="#ade938" stroke="#ade938"/><path d="M1402,294L1413,287 1404,278 1393,285Z" fill="#a8e935" stroke="#a8e935"/><path d="M1422,296L1433,290 1424,281 1413,287Z" fill="#a3e833" stroke="#a3e833"/><path d="M1442,299L1453,293 1444,284 1433,290Z" fill="#9be730" stroke="#9be730"/><path d="M1462,302L1473,296 1464,288 1453,293Z" fill="#92e52d" stroke="#92e52d"/><path d="M1482,305L1493,300 1484,291 1473,296Z" fill="#88e42a" stroke="#88e42a"/><path d="M1502,308L1513,303 1504,295 1493,300Z" fill="#7be326" stroke="#7be326"/><path d="M1522,312L1533,307 1523,298 1513,303Z" fill="#6ee122" stroke="#6ee122"/><path d="M1542,316L1553,311 1543,303 1533,307Z" fill="#5ee01f" stroke="#5ee01f"/><path d="M1562,320L1572,315 1563,307 1553,311Z" fill="#4ddf1b" stroke="#4ddf1b"/><path d="M1582,324L1592,320 1583,311 1572,315Z" fill="#39dd17" stroke="#39dd17"/><path d="M1601,328L1612,324 1603,316 1592,320Z" fill="#24db12" stroke="#24db12"/><path d="M1621,333L1631,329 1622,321 1612,324Z" fill="#11d912" stroke="#11d912"/><path d="M1641,338L1651,334 1642,326 1631,329Z" fill="#0fd524" stroke="#0fd524"/><path d="M1660,343L1670,340 1661,331 1651,334Z" fill="#0dd137" stroke="#0dd137"/><path d="M1680,348L1689,345 1680,337 1670,340Z" fill="#0acd4b" stroke="#0acd4b"/><path d="M1699,353L1709,351 1699,343 1689,345Z" fill="#08c95f" stroke="#08c95f"/><path d="M1718,359L1728,357 1718,349 1709,351Z" fill="#06c574" stroke="#06c574"/><path d="M1737,365L1746,363 1737,355 1728,357Z" fill="#04b885" stroke="#04b885"/><path d="M1756,371L1765,369 1756,361 1746,363Z" fill="#03a38c" stroke="#03a38c"/><path d="M1774,377L1783,375 1774,368 1765,369Z" fill="#028e8f" stroke="#028e8f"/><path d="M1793,383L1802,382 1793,374 1783,375Z" fill="#01687b" stroke="#01687b"/><path d="M1491,314L1502,308 1493,300 1482,305Z" fill="#90e42b" stroke="#90e42b"/><path d="M1591,332L1601,328 1592,320 1582,324Z" fill="#42dd18" stroke="#42dd18"/><path d="M1689,356L1699,353 1689,345 1680,348Z" fill="#0bcd43" stroke="#0bcd43"/><path d="M1371,298L1382,291 1373,283 1362,289Z" fill="#b7ea3d" stroke="#b7ea3d"/><path d="M1391,300L1402,294 1393,285 1382,291Z" fill="#b4ea3a" stroke="#b4ea3a"/><path d="M1411,303L1422,296 1413,287 1402,294Z" fill="#b0e938" stroke="#b0e938"/><path d="M1431,305L1442,299 1433,290 1422,296Z" fill="#abe835" stroke="#abe835"/><path d="M1451,308L1462,302 1453,293 1442,299Z" fill="#a3e732" stroke="#a3e732"/><path d="M1471,311L1482,305 1473,296 1462,302Z" fill="#9ae62f" stroke="#9ae62f"/><path d="M1511,317L1522,312 1513,303 1502,308Z" fill="#84e328" stroke="#84e328"/><path d="M1531,321L1542,316 1533,307 1522,312Z" fill="#76e224" stroke="#76e224"/><path d="M1551,324L1562,320 1553,311 1542,316Z" fill="#67e020" stroke="#67e020"/><path d="M1571,328L1582,324 1572,315 1562,320Z" fill="#55df1c" stroke="#55df1c"/><path d="M1611,337L1621,333 1612,324 1601,328Z" fill="#2ddb13" stroke="#2ddb13"/><path d="M1630,341L1641,338 1631,329 1621,333Z" fill="#17d810" stroke="#17d810"/><path d="M1650,346L1660,343 1651,334 1641,338Z" fill="#10d51d" stroke="#10d51d"/><path d="M1670,351L1680,348 1670,340 1660,343Z" fill="#0dd12f" stroke="#0dd12f"/><path d="M1708,361L1718,359 1709,351 1699,353Z" fill="#09c957" stroke="#09c957"/><path d="M1727,367L1737,365 1728,357 1718,359Z" fill="#06c46d" stroke="#06c46d"/><path d="M1746,373L1756,371 1746,363 1737,365Z" fill="#05b77d" stroke="#05b77d"/><path d="M1765,379L1774,377 1765,369 1756,371Z" fill="#03a385" stroke="#03a385"/><path d="M1784,385L1793,383 1783,375 1774,377Z" fill="#028f8a" stroke="#028f8a"/><path d="M1802,391L1811,390 1802,382 1793,383Z" fill="#016e7c" stroke="#016e7c"/><path d="M1361,306L1371,298 1362,289 1351,297Z" fill="#c0eb42" stroke="#c0eb42"/><path d="M1380,308L1391,300 1382,291 1371,298Z" fill="#bfeb3f" stroke="#bfeb3f"/><path d="M1421,312L1431,305 1422,296 1411,303Z" fill="#b8e93a" stroke="#b8e93a"/><path d="M1461,317L1471,311 1462,302 1451,308Z" fill="#abe734" stroke="#abe734"/><path d="M1481,320L1491,314 1482,305 1471,311Z" fill="#a2e631" stroke="#a2e631"/><path d="M1501,323L1511,317 1502,308 1491,314Z" fill="#98e52d" stroke="#98e52d"/><path d="M1521,326L1531,321 1522,312 1511,317Z" fill="#8ce32a" stroke="#8ce32a"/><path d="M1561,333L1571,328 1562,320 1551,324Z" fill="#6fe022" stroke="#6fe022"/><path d="M1581,337L1591,332 1582,324 1571,328Z" fill="#5edf1d" stroke="#5edf1d"/><path d="M1600,341L1611,337 1601,328 1591,332Z" fill="#4bdd19" stroke="#4bdd19"/><path d="M1620,345L1630,341 1621,333 1611,337Z" fill="#36db14" stroke="#36db14"/><path d="M1659,354L1670,351 1660,343 1650,346Z" fill="#10d516" stroke="#10d516"/><path d="M1679,359L1689,356 1680,348 1670,351Z" fill="#0ed128" stroke="#0ed128"/><path d="M1698,364L1708,361 1699,353 1689,356Z" fill="#0ccc3c" stroke="#0ccc3c"/><path d="M1717,370L1727,367 1718,359 1708,361Z" fill="#09c850" stroke="#09c850"/><path d="M1756,381L1765,379 1756,371 1746,373Z" fill="#05b775" stroke="#05b775"/><path d="M1793,393L1802,391 1793,383 1784,385Z" fill="#028f84" stroke="#028f84"/><path d="M1811,399L1820,398 1811,390 1802,391Z" fill="#01747d" stroke="#01747d"/><path d="M1400,310L1411,303 1402,294 1391,300Z" fill="#bcea3d" stroke="#bcea3d"/><path d="M1441,314L1451,308 1442,299 1431,305Z" fill="#b2e837" stroke="#b2e837"/><path d="M1541,329L1551,324 1542,316 1531,321Z" fill="#7ee226" stroke="#7ee226"/><path d="M1640,350L1650,346 1641,338 1630,341Z" fill="#20d811" stroke="#20d811"/><path d="M1737,375L1746,373 1737,365 1727,367Z" fill="#07c465" stroke="#07c465"/><path d="M1774,387L1784,385 1774,377 1765,379Z" fill="#04a37e" stroke="#04a37e"/><path d="M1350,313L1361,306 1351,297 1341,304Z" fill="#c8ec48" stroke="#c8ec48"/><path d="M1370,315L1380,308 1371,298 1361,306Z" fill="#c7eb44" stroke="#c7eb44"/><path d="M1390,317L1400,310 1391,300 1380,308Z" fill="#c6eb42" stroke="#c6eb42"/><path d="M1410,319L1421,312 1411,303 1400,310Z" fill="#c3ea3f" stroke="#c3ea3f"/><path d="M1430,321L1441,314 1431,305 1421,312Z" fill="#bfea3c" stroke="#bfea3c"/><path d="M1450,323L1461,317 1451,308 1441,314Z" fill="#bae939" stroke="#bae939"/><path d="M1470,326L1481,320 1471,311 1461,317Z" fill="#b3e836" stroke="#b3e836"/><path d="M1490,328L1501,323 1491,314 1481,320Z" fill="#aae633" stroke="#aae633"/><path d="M1510,331L1521,326 1511,317 1501,323Z" fill="#a0e52f" stroke="#a0e52f"/><path d="M1530,335L1541,329 1531,321 1521,326Z" fill="#94e42b" stroke="#94e42b"/><path d="M1550,338L1561,333 1551,324 1541,329Z" fill="#87e227" stroke="#87e227"/><path d="M1570,342L1581,337 1571,328 1561,333Z" fill="#77e023" stroke="#77e023"/><path d="M1590,345L1600,341 1591,332 1581,337Z" fill="#66df1f" stroke="#66df1f"/><path d="M1610,349L1620,345 1611,337 1600,341Z" fill="#53dd1a" stroke="#53dd1a"/><path d="M1630,354L1640,350 1630,341 1620,345Z" fill="#3edb16" stroke="#3edb16"/><path d="M1649,358L1659,354 1650,346 1640,350Z" fill="#29d812" stroke="#29d812"/><path d="M1669,363L1679,359 1670,351 1659,354Z" fill="#13d410" stroke="#13d410"/><path d="M1688,368L1698,364 1689,356 1679,359Z" fill="#0fd021" stroke="#0fd021"/><path d="M1708,373L1717,370 1708,361 1698,364Z" fill="#0dcc34" stroke="#0dcc34"/><path d="M1727,378L1737,375 1727,367 1717,370Z" fill="#0ac848" stroke="#0ac848"/><path d="M1746,383L1756,381 1746,373 1737,375Z" fill="#08c35d" stroke="#08c35d"/><path d="M1765,389L1774,387 1765,379 1756,381Z" fill="#05b66e" stroke="#05b66e"/><path d="M1784,395L1793,393 1784,385 1774,387Z" fill="#04a278" stroke="#04a278"/><path d="M1802,401L1811,399 1802,391 1793,393Z" fill="#03907f" stroke="#03907f"/><path d="M1821,407L1830,406 1820,398 1811,399Z" fill="#02797e" stroke="#02797e"/><path d="M1339,321L1350,313 1341,304 1330,312Z" fill="#ceed4d" stroke="#ceed4d"/><path d="M1359,323L1370,315 1361,306 1350,313Z" fill="#ceec4a" stroke="#ceec4a"/><path d="M1379,324L1390,317 1380,308 1370,315Z" fill="#ceec47" stroke="#ceec47"/><path d="M1399,326L1410,319 1400,310 1390,317Z" fill="#cdeb44" stroke="#cdeb44"/><path d="M1439,330L1450,323 1441,314 1430,321Z" fill="#c7ea3e" stroke="#c7ea3e"/><path d="M1459,332L1470,326 1461,317 1450,323Z" fill="#c1e93c" stroke="#c1e93c"/><path d="M1479,335L1490,328 1481,320 1470,326Z" fill="#bae838" stroke="#bae838"/><path d="M1499,337L1510,331 1501,323 1490,328Z" fill="#b2e735" stroke="#b2e735"/><path d="M1519,340L1530,335 1521,326 1510,331Z" fill="#a8e531" stroke="#a8e531"/><path d="M1539,343L1550,338 1541,329 1530,335Z" fill="#9ce42d" stroke="#9ce42d"/><path d="M1559,347L1570,342 1561,333 1550,338Z" fill="#8fe229" stroke="#8fe229"/><path d="M1579,350L1590,345 1581,337 1570,342Z" fill="#80e124" stroke="#80e124"/><path d="M1599,354L1610,349 1600,341 1590,345Z" fill="#6fdf20" stroke="#6fdf20"/><path d="M1619,358L1630,354 1620,345 1610,349Z" fill="#5cdd1b" stroke="#5cdd1b"/><path d="M1639,362L1649,358 1640,350 1630,354Z" fill="#47db17" stroke="#47db17"/><path d="M1659,367L1669,363 1659,354 1649,358Z" fill="#31d813" stroke="#31d813"/><path d="M1678,371L1688,368 1679,359 1669,363Z" fill="#1cd411" stroke="#1cd411"/><path d="M1698,376L1708,373 1698,364 1688,368Z" fill="#10d01a" stroke="#10d01a"/><path d="M1717,381L1727,378 1717,370 1708,373Z" fill="#0dcc2d" stroke="#0dcc2d"/><path d="M1736,386L1746,383 1737,375 1727,378Z" fill="#0bc741" stroke="#0bc741"/><path d="M1774,397L1784,395 1774,387 1765,389Z" fill="#06b566" stroke="#06b566"/><path d="M1793,403L1802,401 1793,393 1784,395Z" fill="#04a271" stroke="#04a271"/><path d="M1812,409L1821,407 1811,399 1802,401Z" fill="#039079" stroke="#039079"/><path d="M1830,415L1839,413 1830,406 1821,407Z" fill="#027e7e" stroke="#027e7e"/><path d="M1419,328L1430,321 1421,312 1410,319Z" fill="#caeb41" stroke="#caeb41"/><path d="M1755,391L1765,389 1756,381 1746,383Z" fill="#08c255" stroke="#08c255"/><path d="M1328,329L1339,321 1330,312 1319,320Z" fill="#d2ee52" stroke="#d2ee52"/><path d="M1348,330L1359,323 1350,313 1339,321Z" fill="#d4ed4f" stroke="#d4ed4f"/><path d="M1368,332L1379,324 1370,315 1359,323Z" fill="#d5ed4c" stroke="#d5ed4c"/><path d="M1388,333L1399,326 1390,317 1379,324Z" fill="#d5ec49" stroke="#d5ec49"/><path d="M1408,335L1419,328 1410,319 1399,326Z" fill="#d3ec46" stroke="#d3ec46"/><path d="M1428,337L1439,330 1430,321 1419,328Z" fill="#d1eb43" stroke="#d1eb43"/><path d="M1448,339L1459,332 1450,323 1439,330Z" fill="#ceea41" stroke="#ceea41"/><path d="M1468,341L1479,335 1470,326 1459,332Z" fill="#c8e93e" stroke="#c8e93e"/><path d="M1489,344L1499,337 1490,328 1479,335Z" fill="#c2e83a" stroke="#c2e83a"/><path d="M1509,346L1519,340 1510,331 1499,337Z" fill="#b9e737" stroke="#b9e737"/><path d="M1529,349L1539,343 1530,335 1519,340Z" fill="#afe533" stroke="#afe533"/><path d="M1549,352L1559,347 1550,338 1539,343Z" fill="#a4e42f" stroke="#a4e42f"/><path d="M1569,356L1579,350 1570,342 1559,347Z" fill="#97e22a" stroke="#97e22a"/><path d="M1589,359L1599,354 1590,345 1579,350Z" fill="#88e126" stroke="#88e126"/><path d="M1609,363L1619,358 1610,349 1599,354Z" fill="#77df21" stroke="#77df21"/><path d="M1629,367L1639,362 1630,354 1619,358Z" fill="#64dd1d" stroke="#64dd1d"/><path d="M1648,371L1659,367 1649,358 1639,362Z" fill="#4fdb18" stroke="#4fdb18"/><path d="M1668,375L1678,371 1669,363 1659,367Z" fill="#3ad814" stroke="#3ad814"/><path d="M1688,380L1698,376 1688,368 1678,371Z" fill="#24d412" stroke="#24d412"/><path d="M1707,384L1717,381 1708,373 1698,376Z" fill="#11d013" stroke="#11d013"/><path d="M1726,389L1736,386 1727,378 1717,381Z" fill="#0ecb26" stroke="#0ecb26"/><path d="M1746,394L1755,391 1746,383 1736,386Z" fill="#0bc639" stroke="#0bc639"/><path d="M1765,400L1774,397 1765,389 1755,391Z" fill="#08c14d" stroke="#08c14d"/><path d="M1784,405L1793,403 1784,395 1774,397Z" fill="#06b55f" stroke="#06b55f"/><path d="M1802,411L1812,409 1802,401 1793,403Z" fill="#04a26b" stroke="#04a26b"/><path d="M1821,417L1830,415 1821,407 1812,409Z" fill="#039073" stroke="#039073"/><path d="M1839,423L1848,421 1839,413 1830,415Z" fill="#027f79" stroke="#027f79"/><path d="M1538,358L1549,352 1539,343 1529,349Z" fill="#b7e635" stroke="#b7e635"/><path d="M1638,375L1648,371 1639,362 1629,367Z" fill="#6cdd1e" stroke="#6cdd1e"/><path d="M1318,338L1328,329 1319,320 1309,329Z" fill="#d5ef58" stroke="#d5ef58"/><path d="M1338,339L1348,330 1339,321 1328,329Z" fill="#d8ee54" stroke="#d8ee54"/><path d="M1358,340L1368,332 1359,323 1348,330Z" fill="#daee51" stroke="#daee51"/><path d="M1377,341L1388,333 1379,324 1368,332Z" fill="#dbed4e" stroke="#dbed4e"/><path d="M1397,342L1408,335 1399,326 1388,333Z" fill="#dbed4b" stroke="#dbed4b"/><path d="M1418,344L1428,337 1419,328 1408,335Z" fill="#daec48" stroke="#daec48"/><path d="M1438,346L1448,339 1439,330 1428,337Z" fill="#d8eb45" stroke="#d8eb45"/><path d="M1458,348L1468,341 1459,332 1448,339Z" fill="#d5eb43" stroke="#d5eb43"/><path d="M1478,350L1489,344 1479,335 1468,341Z" fill="#d0ea40" stroke="#d0ea40"/><path d="M1498,353L1509,346 1499,337 1489,344Z" fill="#c9e93d" stroke="#c9e93d"/><path d="M1518,355L1529,349 1519,340 1509,346Z" fill="#c1e739" stroke="#c1e739"/><path d="M1558,361L1569,356 1559,347 1549,352Z" fill="#abe430" stroke="#abe430"/><path d="M1578,364L1589,359 1579,350 1569,356Z" fill="#9ee22c" stroke="#9ee22c"/><path d="M1598,368L1609,363 1599,354 1589,359Z" fill="#8fe127" stroke="#8fe127"/><path d="M1618,371L1629,367 1619,358 1609,363Z" fill="#7fdf23" stroke="#7fdf23"/><path d="M1658,379L1668,375 1659,367 1648,371Z" fill="#58db19" stroke="#58db19"/><path d="M1677,384L1688,380 1678,371 1668,375Z" fill="#42d815" stroke="#42d815"/><path d="M1697,388L1707,384 1698,376 1688,380Z" fill="#2cd413" stroke="#2cd413"/><path d="M1717,393L1726,389 1717,381 1707,384Z" fill="#15cf10" stroke="#15cf10"/><path d="M1736,398L1746,394 1736,386 1726,389Z" fill="#0fcb1f" stroke="#0fcb1f"/><path d="M1755,403L1765,400 1755,391 1746,394Z" fill="#0cc632" stroke="#0cc632"/><path d="M1774,408L1784,405 1774,397 1765,400Z" fill="#09c046" stroke="#09c046"/><path d="M1793,413L1802,411 1793,403 1784,405Z" fill="#06b457" stroke="#06b457"/><path d="M1812,419L1821,417 1812,409 1802,411Z" fill="#05a264" stroke="#05a264"/><path d="M1830,425L1839,423 1830,415 1821,417Z" fill="#04906e" stroke="#04906e"/><path d="M1849,431L1858,429 1848,421 1839,423Z" fill="#028075" stroke="#028075"/><path d="M1307,347L1318,338 1309,329 1298,337Z" fill="#d8f05d" stroke="#d8f05d"/><path d="M1327,347L1338,339 1328,329 1318,338Z" fill="#dbef59" stroke="#dbef59"/><path d="M1367,349L1377,341 1368,332 1358,340Z" fill="#e0ee53" stroke="#e0ee53"/><path d="M1407,352L1418,344 1408,335 1397,342Z" fill="#e2ed4d" stroke="#e2ed4d"/><path d="M1427,353L1438,346 1428,337 1418,344Z" fill="#e1ec4a" stroke="#e1ec4a"/><path d="M1467,357L1478,350 1468,341 1458,348Z" fill="#dbeb45" stroke="#dbeb45"/><path d="M1507,362L1518,355 1509,346 1498,353Z" fill="#d0e93f" stroke="#d0e93f"/><path d="M1527,364L1538,358 1529,349 1518,355Z" fill="#c8e73b" stroke="#c8e73b"/><path d="M1548,367L1558,361 1549,352 1538,358Z" fill="#bee636" stroke="#bee636"/><path d="M1568,370L1578,364 1569,356 1558,361Z" fill="#b3e432" stroke="#b3e432"/><path d="M1608,377L1618,371 1609,363 1598,368Z" fill="#97e129" stroke="#97e129"/><path d="M1628,380L1638,375 1629,367 1618,371Z" fill="#87df24" stroke="#87df24"/><path d="M1647,384L1658,379 1648,371 1638,375Z" fill="#74dd1f" stroke="#74dd1f"/><path d="M1667,388L1677,384 1668,375 1658,379Z" fill="#60db1a" stroke="#60db1a"/><path d="M1706,397L1717,393 1707,384 1697,388Z" fill="#35d413" stroke="#35d413"/><path d="M1745,406L1755,403 1746,394 1736,398Z" fill="#0fca18" stroke="#0fca18"/><path d="M1765,411L1774,408 1765,400 1755,403Z" fill="#0cc52b" stroke="#0cc52b"/><path d="M1803,422L1812,419 1802,411 1793,413Z" fill="#07b350" stroke="#07b350"/><path d="M1840,433L1849,431 1839,423 1830,425Z" fill="#049068" stroke="#049068"/><path d="M1858,439L1867,437 1858,429 1849,431Z" fill="#038170" stroke="#038170"/><path d="M1347,348L1358,340 1348,330 1338,339Z" fill="#deef56" stroke="#deef56"/><path d="M1387,350L1397,342 1388,333 1377,341Z" fill="#e1ee50" stroke="#e1ee50"/><path d="M1447,355L1458,348 1448,339 1438,346Z" fill="#deec48" stroke="#deec48"/><path d="M1487,359L1498,353 1489,344 1478,350Z" fill="#d6ea42" stroke="#d6ea42"/><path d="M1588,373L1598,368 1589,359 1578,364Z" fill="#a6e32e" stroke="#a6e32e"/><path d="M1687,392L1697,388 1688,380 1677,384Z" fill="#4bd816" stroke="#4bd816"/><path d="M1726,401L1736,398 1726,389 1717,393Z" fill="#1ecf11" stroke="#1ecf11"/><path d="M1784,416L1793,413 1784,405 1774,408Z" fill="#09bf3e" stroke="#09bf3e"/><path d="M1821,427L1830,425 1821,417 1812,419Z" fill="#05a15e" stroke="#05a15e"/><path d="M1297,356L1307,347 1298,337 1288,347Z" fill="#d9f162" stroke="#d9f162"/><path d="M1316,356L1327,347 1318,338 1307,347Z" fill="#ddf05f" stroke="#ddf05f"/><path d="M1336,357L1347,348 1338,339 1327,347Z" fill="#e1f05b" stroke="#e1f05b"/><path d="M1356,357L1367,349 1358,340 1347,348Z" fill="#e4ef58" stroke="#e4ef58"/><path d="M1376,358L1387,350 1377,341 1367,349Z" fill="#e6ef55" stroke="#e6ef55"/><path d="M1396,359L1407,352 1397,342 1387,350Z" fill="#e8ee52" stroke="#e8ee52"/><path d="M1416,361L1427,353 1418,344 1407,352Z" fill="#e8ed4f" stroke="#e8ed4f"/><path d="M1436,362L1447,355 1438,346 1427,353Z" fill="#e7ed4c" stroke="#e7ed4c"/><path d="M1456,364L1467,357 1458,348 1447,355Z" fill="#e5ec4a" stroke="#e5ec4a"/><path d="M1476,366L1487,359 1478,350 1467,357Z" fill="#e2ec48" stroke="#e2ec48"/><path d="M1497,368L1507,362 1498,353 1487,359Z" fill="#ddeb45" stroke="#ddeb45"/><path d="M1517,371L1527,364 1518,355 1507,362Z" fill="#d7e941" stroke="#d7e941"/><path d="M1537,373L1548,367 1538,358 1527,364Z" fill="#cfe83d" stroke="#cfe83d"/><path d="M1557,376L1568,370 1558,361 1548,367Z" fill="#c5e638" stroke="#c5e638"/><path d="M1577,379L1588,373 1578,364 1568,370Z" fill="#bae434" stroke="#bae434"/><path d="M1597,382L1608,377 1598,368 1588,373Z" fill="#ade32f" stroke="#ade32f"/><path d="M1617,385L1628,380 1618,371 1608,377Z" fill="#9fe12a" stroke="#9fe12a"/><path d="M1637,389L1647,384 1638,375 1628,380Z" fill="#8edf25" stroke="#8edf25"/><path d="M1657,393L1667,388 1658,379 1647,384Z" fill="#7cdd20" stroke="#7cdd20"/><path d="M1677,397L1687,392 1677,384 1667,388Z" fill="#68db1b" stroke="#68db1b"/><path d="M1696,401L1706,397 1697,388 1687,392Z" fill="#53d817" stroke="#53d817"/><path d="M1716,405L1726,401 1717,393 1706,397Z" fill="#3dd314" stroke="#3dd314"/><path d="M1735,410L1745,406 1736,398 1726,401Z" fill="#25cf11" stroke="#25cf11"/><path d="M1755,414L1765,411 1755,403 1745,406Z" fill="#10c911" stroke="#10c911"/><path d="M1774,419L1784,416 1774,408 1765,411Z" fill="#0dc424" stroke="#0dc424"/><path d="M1793,424L1803,422 1793,413 1784,416Z" fill="#09be37" stroke="#09be37"/><path d="M1812,430L1821,427 1812,419 1803,422Z" fill="#07b249" stroke="#07b249"/><path d="M1831,435L1840,433 1830,425 1821,427Z" fill="#05a157" stroke="#05a157"/><path d="M1849,441L1858,439 1849,431 1840,433Z" fill="#049163" stroke="#049163"/><path d="M1868,447L1876,445 1867,437 1858,439Z" fill="#03816c" stroke="#03816c"/><path d="M1286,366L1297,356 1288,347 1277,356Z" fill="#d8f165" stroke="#d8f165"/><path d="M1306,366L1316,356 1307,347 1297,356Z" fill="#def164" stroke="#def164"/><path d="M1326,366L1336,357 1327,347 1316,356Z" fill="#e3f160" stroke="#e3f160"/><path d="M1345,366L1356,357 1347,348 1336,357Z" fill="#e7f05d" stroke="#e7f05d"/><path d="M1385,368L1396,359 1387,350 1376,358Z" fill="#ecef56" stroke="#ecef56"/><path d="M1405,369L1416,361 1407,352 1396,359Z" fill="#edee54" stroke="#edee54"/><path d="M1425,370L1436,362 1427,353 1416,361Z" fill="#eeee51" stroke="#eeee51"/><path d="M1445,372L1456,364 1447,355 1436,362Z" fill="#eded4e" stroke="#eded4e"/><path d="M1486,375L1497,368 1487,359 1476,366Z" fill="#e8ec4a" stroke="#e8ec4a"/><path d="M1506,377L1517,371 1507,362 1497,368Z" fill="#e4eb47" stroke="#e4eb47"/><path d="M1526,380L1537,373 1527,364 1517,371Z" fill="#dde943" stroke="#dde943"/><path d="M1546,382L1557,376 1548,367 1537,373Z" fill="#d5e83f" stroke="#d5e83f"/><path d="M1566,385L1577,379 1568,370 1557,376Z" fill="#cce63a" stroke="#cce63a"/><path d="M1586,388L1597,382 1588,373 1577,379Z" fill="#c1e535" stroke="#c1e535"/><path d="M1607,391L1617,385 1608,377 1597,382Z" fill="#b5e331" stroke="#b5e331"/><path d="M1627,394L1637,389 1628,380 1617,385Z" fill="#a6e12c" stroke="#a6e12c"/><path d="M1647,398L1657,393 1647,384 1637,389Z" fill="#96df27" stroke="#96df27"/><path d="M1666,401L1677,397 1667,388 1657,393Z" fill="#84dd21" stroke="#84dd21"/><path d="M1686,405L1696,401 1687,392 1677,397Z" fill="#70db1c" stroke="#70db1c"/><path d="M1725,414L1735,410 1726,401 1716,405Z" fill="#44d315" stroke="#44d315"/><path d="M1745,418L1755,414 1745,406 1735,410Z" fill="#2dce12" stroke="#2dce12"/><path d="M1764,423L1774,419 1765,411 1755,414Z" fill="#15c90f" stroke="#15c90f"/><path d="M1783,428L1793,424 1784,416 1774,419Z" fill="#0dc31d" stroke="#0dc31d"/><path d="M1821,438L1831,435 1821,427 1812,430Z" fill="#07b142" stroke="#07b142"/><path d="M1840,443L1849,441 1840,433 1831,435Z" fill="#06a151" stroke="#06a151"/><path d="M1859,449L1868,447 1858,439 1849,441Z" fill="#04915d" stroke="#04915d"/><path d="M1877,455L1886,453 1876,445 1868,447Z" fill="#038267" stroke="#038267"/><path d="M1365,367L1376,358 1367,349 1356,357Z" fill="#eaef5a" stroke="#eaef5a"/><path d="M1466,373L1476,366 1467,357 1456,364Z" fill="#ebec4c" stroke="#ebec4c"/><path d="M1706,409L1716,405 1706,397 1696,401Z" fill="#5bd818" stroke="#5bd818"/><path d="M1803,433L1812,430 1803,422 1793,424Z" fill="#0abd30" stroke="#0abd30"/><path d="M1276,376L1286,366 1277,356 1267,367Z" fill="#d4f166" stroke="#d4f166"/><path d="M1296,375L1306,366 1297,356 1286,366Z" fill="#ddf267" stroke="#ddf267"/><path d="M1315,375L1326,366 1316,356 1306,366Z" fill="#e3f266" stroke="#e3f266"/><path d="M1335,375L1345,366 1336,357 1326,366Z" fill="#e8f162" stroke="#e8f162"/><path d="M1355,375L1365,367 1356,357 1345,366Z" fill="#ecf05f" stroke="#ecf05f"/><path d="M1375,376L1385,368 1376,358 1365,367Z" fill="#eff05b" stroke="#eff05b"/><path d="M1395,377L1405,369 1396,359 1385,368Z" fill="#f2ef58" stroke="#f2ef58"/><path d="M1415,378L1425,370 1416,361 1405,369Z" fill="#f3ef56" stroke="#f3ef56"/><path d="M1435,379L1445,372 1436,362 1425,370Z" fill="#f3ee53" stroke="#f3ee53"/><path d="M1455,381L1466,373 1456,364 1445,372Z" fill="#f3ed51" stroke="#f3ed51"/><path d="M1475,383L1486,375 1476,366 1466,373Z" fill="#f1ed4e" stroke="#f1ed4e"/><path d="M1495,384L1506,377 1497,368 1486,375Z" fill="#eeec4c" stroke="#eeec4c"/><path d="M1515,386L1526,380 1517,371 1506,377Z" fill="#eaeb49" stroke="#eaeb49"/><path d="M1536,389L1546,382 1537,373 1526,380Z" fill="#e4ea45" stroke="#e4ea45"/><path d="M1556,391L1566,385 1557,376 1546,382Z" fill="#dce841" stroke="#dce841"/><path d="M1576,394L1586,388 1577,379 1566,385Z" fill="#d3e73c" stroke="#d3e73c"/><path d="M1596,397L1607,391 1597,382 1586,388Z" fill="#c8e537" stroke="#c8e537"/><path d="M1616,400L1627,394 1617,385 1607,391Z" fill="#bce332" stroke="#bce332"/><path d="M1636,403L1647,398 1637,389 1627,394Z" fill="#ade12d" stroke="#ade12d"/><path d="M1656,407L1666,401 1657,393 1647,398Z" fill="#9edf28" stroke="#9edf28"/><path d="M1676,410L1686,405 1677,397 1666,401Z" fill="#8cdd22" stroke="#8cdd22"/><path d="M1696,414L1706,409 1696,401 1686,405Z" fill="#78db1d" stroke="#78db1d"/><path d="M1715,418L1725,414 1716,405 1706,409Z" fill="#62d718" stroke="#62d718"/><path d="M1735,422L1745,418 1735,410 1725,414Z" fill="#4cd315" stroke="#4cd315"/><path d="M1754,427L1764,423 1755,414 1745,418Z" fill="#35ce12" stroke="#35ce12"/><path d="M1774,431L1783,428 1774,419 1764,423Z" fill="#1dc80f" stroke="#1dc80f"/><path d="M1793,436L1803,433 1793,424 1783,428Z" fill="#0dc216" stroke="#0dc216"/><path d="M1812,441L1821,438 1812,430 1803,433Z" fill="#0abc29" stroke="#0abc29"/><path d="M1831,446L1840,443 1831,435 1821,438Z" fill="#08b13b" stroke="#08b13b"/><path d="M1850,452L1859,449 1849,441 1840,443Z" fill="#06a04b" stroke="#06a04b"/><path d="M1868,457L1877,455 1868,447 1859,449Z" fill="#059158" stroke="#059158"/><path d="M1887,463L1895,461 1886,453 1877,455Z" fill="#038363" stroke="#038363"/><path d="M1585,403L1596,397 1586,388 1576,394Z" fill="#d9e73e" stroke="#d9e73e"/><path d="M1266,387L1276,376 1267,367 1257,377Z" fill="#d0f166" stroke="#d0f166"/><path d="M1285,385L1296,375 1286,366 1276,376Z" fill="#daf267" stroke="#daf267"/><path d="M1305,385L1315,375 1306,366 1296,375Z" fill="#e2f268" stroke="#e2f268"/><path d="M1324,384L1335,375 1326,366 1315,375Z" fill="#e8f267" stroke="#e8f267"/><path d="M1344,385L1355,375 1345,366 1335,375Z" fill="#edf164" stroke="#edf164"/><path d="M1364,385L1375,376 1365,367 1355,375Z" fill="#f2f160" stroke="#f2f160"/><path d="M1384,386L1395,377 1385,368 1375,376Z" fill="#f5f05d" stroke="#f5f05d"/><path d="M1404,386L1415,378 1405,369 1395,377Z" fill="#f5ee5a" stroke="#f5ee5a"/><path d="M1424,387L1435,379 1425,370 1415,378Z" fill="#f5eb58" stroke="#f5eb58"/><path d="M1444,389L1455,381 1445,372 1435,379Z" fill="#f4e955" stroke="#f4e955"/><path d="M1464,390L1475,383 1466,373 1455,381Z" fill="#f3e853" stroke="#f3e853"/><path d="M1484,392L1495,384 1486,375 1475,383Z" fill="#f2e851" stroke="#f2e851"/><path d="M1505,394L1515,386 1506,377 1495,384Z" fill="#f2ea4f" stroke="#f2ea4f"/><path d="M1525,396L1536,389 1526,380 1515,386Z" fill="#f0ec4c" stroke="#f0ec4c"/><path d="M1545,398L1556,391 1546,382 1536,389Z" fill="#eaea47" stroke="#eaea47"/><path d="M1565,400L1576,394 1566,385 1556,391Z" fill="#e3e843" stroke="#e3e843"/><path d="M1605,406L1616,400 1607,391 1596,397Z" fill="#cfe539" stroke="#cfe539"/><path d="M1626,409L1636,403 1627,394 1616,400Z" fill="#c3e334" stroke="#c3e334"/><path d="M1646,412L1656,407 1647,398 1636,403Z" fill="#b5e12f" stroke="#b5e12f"/><path d="M1665,415L1676,410 1666,401 1656,407Z" fill="#a5df29" stroke="#a5df29"/><path d="M1685,419L1696,414 1686,405 1676,410Z" fill="#93dd23" stroke="#93dd23"/><path d="M1705,423L1715,418 1706,409 1696,414Z" fill="#7fdb1d" stroke="#7fdb1d"/><path d="M1725,427L1735,422 1725,414 1715,418Z" fill="#6ad719" stroke="#6ad719"/><path d="M1744,431L1754,427 1745,418 1735,422Z" fill="#54d216" stroke="#54d216"/><path d="M1764,435L1774,431 1764,423 1754,427Z" fill="#3dcd13" stroke="#3dcd13"/><path d="M1783,440L1793,436 1783,428 1774,431Z" fill="#24c810" stroke="#24c810"/><path d="M1802,444L1812,441 1803,433 1793,436Z" fill="#0ec20f" stroke="#0ec20f"/><path d="M1822,449L1831,446 1821,438 1812,441Z" fill="#0bbb22" stroke="#0bbb22"/><path d="M1840,455L1850,452 1840,443 1831,446Z" fill="#08b035" stroke="#08b035"/><path d="M1859,460L1868,457 1859,449 1850,452Z" fill="#06a045" stroke="#06a045"/><path d="M1878,465L1887,463 1877,455 1868,457Z" fill="#059253" stroke="#059253"/><path d="M1896,471L1905,469 1895,461 1887,463Z" fill="#04845e" stroke="#04845e"/><path d="M1256,398L1266,387 1257,377 1247,388Z" fill="#cbf167" stroke="#cbf167"/><path d="M1275,396L1285,385 1276,376 1266,387Z" fill="#d5f168" stroke="#d5f168"/><path d="M1314,394L1324,384 1315,375 1305,385Z" fill="#e7f26a" stroke="#e7f26a"/><path d="M1353,394L1364,385 1355,375 1344,385Z" fill="#f3f265" stroke="#f3f265"/><path d="M1373,394L1384,386 1375,376 1364,385Z" fill="#f7f162" stroke="#f7f162"/><path d="M1413,396L1424,387 1415,378 1404,386Z" fill="#f6e95c" stroke="#f6e95c"/><path d="M1453,398L1464,390 1455,381 1444,389Z" fill="#f4e457" stroke="#f4e457"/><path d="M1474,399L1484,392 1475,383 1464,390Z" fill="#f4e355" stroke="#f4e355"/><path d="M1514,403L1525,396 1515,386 1505,394Z" fill="#f2e551" stroke="#f2e551"/><path d="M1554,407L1565,400 1556,391 1545,398Z" fill="#efe949" stroke="#efe949"/><path d="M1575,409L1585,403 1576,394 1565,400Z" fill="#e9e945" stroke="#e9e945"/><path d="M1595,412L1605,406 1596,397 1585,403Z" fill="#e0e740" stroke="#e0e740"/><path d="M1615,415L1626,409 1616,400 1605,406Z" fill="#d6e53b" stroke="#d6e53b"/><path d="M1655,421L1665,415 1656,407 1646,412Z" fill="#bce130" stroke="#bce130"/><path d="M1695,428L1705,423 1696,414 1685,419Z" fill="#9add24" stroke="#9add24"/><path d="M1715,431L1725,427 1715,418 1705,423Z" fill="#87db1e" stroke="#87db1e"/><path d="M1754,439L1764,435 1754,427 1744,431Z" fill="#5bd217" stroke="#5bd217"/><path d="M1793,448L1802,444 1793,436 1783,440Z" fill="#2cc710" stroke="#2cc710"/><path d="M1812,453L1822,449 1812,441 1802,444Z" fill="#13c10d" stroke="#13c10d"/><path d="M1850,463L1859,460 1850,452 1840,455Z" fill="#08af2e" stroke="#08af2e"/><path d="M1887,474L1896,471 1887,463 1878,465Z" fill="#05924d" stroke="#05924d"/><path d="M1906,479L1914,477 1905,469 1896,471Z" fill="#04855a" stroke="#04855a"/><path d="M1294,395L1305,385 1296,375 1285,385Z" fill="#dff269" stroke="#dff269"/><path d="M1334,394L1344,385 1335,375 1324,384Z" fill="#eef269" stroke="#eef269"/><path d="M1393,395L1404,386 1395,377 1384,386Z" fill="#f7ed5f" stroke="#f7ed5f"/><path d="M1433,397L1444,389 1435,379 1424,387Z" fill="#f5e65a" stroke="#f5e65a"/><path d="M1494,401L1505,394 1495,384 1484,392Z" fill="#f3e353" stroke="#f3e353"/><path d="M1534,405L1545,398 1536,389 1525,396Z" fill="#f1e74e" stroke="#f1e74e"/><path d="M1635,418L1646,412 1636,403 1626,409Z" fill="#c9e335" stroke="#c9e335"/><path d="M1675,424L1685,419 1676,410 1665,415Z" fill="#acdf2a" stroke="#acdf2a"/><path d="M1734,435L1744,431 1735,422 1725,427Z" fill="#72d71a" stroke="#72d71a"/><path d="M1773,444L1783,440 1774,431 1764,435Z" fill="#44cd14" stroke="#44cd14"/><path d="M1831,458L1840,455 1831,446 1822,449Z" fill="#0bba1b" stroke="#0bba1b"/><path d="M1869,468L1878,465 1868,457 1859,460Z" fill="#07a03f" stroke="#07a03f"/><path d="M1246,409L1256,398 1247,388 1237,400Z" fill="#c5f167" stroke="#c5f167"/><path d="M1265,407L1275,396 1266,387 1256,398Z" fill="#d0f168" stroke="#d0f168"/><path d="M1284,405L1294,395 1285,385 1275,396Z" fill="#daf269" stroke="#daf269"/><path d="M1304,404L1314,394 1305,385 1294,395Z" fill="#e4f26a" stroke="#e4f26a"/><path d="M1323,404L1334,394 1324,384 1314,394Z" fill="#ecf36c" stroke="#ecf36c"/><path d="M1343,403L1353,394 1344,385 1334,394Z" fill="#f3f36a" stroke="#f3f36a"/><path d="M1363,403L1373,394 1364,385 1353,394Z" fill="#f8f267" stroke="#f8f267"/><path d="M1383,404L1393,395 1384,386 1373,394Z" fill="#f8ee64" stroke="#f8ee64"/><path d="M1402,404L1413,396 1404,386 1393,395Z" fill="#f7e961" stroke="#f7e961"/><path d="M1423,405L1433,397 1424,387 1413,396Z" fill="#f6e55e" stroke="#f6e55e"/><path d="M1443,406L1453,398 1444,389 1433,397Z" fill="#f6e25c" stroke="#f6e25c"/><path d="M1463,407L1474,399 1464,390 1453,398Z" fill="#f5e059" stroke="#f5e059"/><path d="M1483,409L1494,401 1484,392 1474,399Z" fill="#f4df57" stroke="#f4df57"/><path d="M1503,410L1514,403 1505,394 1494,401Z" fill="#f3df55" stroke="#f3df55"/><path d="M1523,412L1534,405 1525,396 1514,403Z" fill="#f3e053" stroke="#f3e053"/><path d="M1544,414L1554,407 1545,398 1534,405Z" fill="#f1e250" stroke="#f1e250"/><path d="M1564,416L1575,409 1565,400 1554,407Z" fill="#efe44c" stroke="#efe44c"/><path d="M1584,418L1595,412 1585,403 1575,409Z" fill="#ede747" stroke="#ede747"/><path d="M1604,421L1615,415 1605,406 1595,412Z" fill="#e6e742" stroke="#e6e742"/><path d="M1624,424L1635,418 1626,409 1615,415Z" fill="#dce53c" stroke="#dce53c"/><path d="M1645,427L1655,421 1646,412 1635,418Z" fill="#d0e337" stroke="#d0e337"/><path d="M1665,430L1675,424 1665,415 1655,421Z" fill="#c2e130" stroke="#c2e130"/><path d="M1685,433L1695,428 1685,419 1675,424Z" fill="#b3df2a" stroke="#b3df2a"/><path d="M1704,436L1715,431 1705,423 1695,428Z" fill="#a1dd25" stroke="#a1dd25"/><path d="M1724,440L1734,435 1725,427 1715,431Z" fill="#8edb1f" stroke="#8edb1f"/><path d="M1744,444L1754,439 1744,431 1734,435Z" fill="#79d71b" stroke="#79d71b"/><path d="M1764,448L1773,444 1764,435 1754,439Z" fill="#63d217" stroke="#63d217"/><path d="M1783,452L1793,448 1783,440 1773,444Z" fill="#4bcc14" stroke="#4bcc14"/><path d="M1802,457L1812,453 1802,444 1793,448Z" fill="#33c611" stroke="#33c611"/><path d="M1822,461L1831,458 1822,449 1812,453Z" fill="#1ac00e" stroke="#1ac00e"/><path d="M1841,466L1850,463 1840,455 1831,458Z" fill="#0bba15" stroke="#0bba15"/><path d="M1859,471L1869,468 1859,460 1850,463Z" fill="#09af28" stroke="#09af28"/><path d="M1878,476L1887,474 1878,465 1869,468Z" fill="#07a039" stroke="#07a039"/><path d="M1897,482L1906,479 1896,471 1887,474Z" fill="#059348" stroke="#059348"/><path d="M1915,487L1924,485 1914,477 1906,479Z" fill="#048655" stroke="#048655"/><path d="M1236,421L1246,409 1237,400 1227,411Z" fill="#bdf167" stroke="#bdf167"/><path d="M1255,418L1265,407 1256,398 1246,409Z" fill="#caf168" stroke="#caf168"/><path d="M1274,416L1284,405 1275,396 1265,407Z" fill="#d5f269" stroke="#d5f269"/><path d="M1293,415L1304,404 1294,395 1284,405Z" fill="#dff26b" stroke="#dff26b"/><path d="M1332,413L1343,403 1334,394 1323,404Z" fill="#f1f36d" stroke="#f1f36d"/><path d="M1352,413L1363,403 1353,394 1343,403Z" fill="#f7f36c" stroke="#f7f36c"/><path d="M1372,413L1383,404 1373,394 1363,403Z" fill="#f9ef69" stroke="#f9ef69"/><path d="M1392,413L1402,404 1393,395 1383,404Z" fill="#f8ea66" stroke="#f8ea66"/><path d="M1432,415L1443,406 1433,397 1423,405Z" fill="#f7e160" stroke="#f7e160"/><path d="M1452,416L1463,407 1453,398 1443,406Z" fill="#f6dd5d" stroke="#f6dd5d"/><path d="M1472,417L1483,409 1474,399 1463,407Z" fill="#f5db5b" stroke="#f5db5b"/><path d="M1492,418L1503,410 1494,401 1483,409Z" fill="#f4da59" stroke="#f4da59"/><path d="M1533,421L1544,414 1534,405 1523,412Z" fill="#f3db56" stroke="#f3db56"/><path d="M1553,423L1564,416 1554,407 1544,414Z" fill="#f2dd53" stroke="#f2dd53"/><path d="M1573,425L1584,418 1575,409 1564,416Z" fill="#f0df4e" stroke="#f0df4e"/><path d="M1594,428L1604,421 1595,412 1584,418Z" fill="#eee249" stroke="#eee249"/><path d="M1614,430L1624,424 1615,415 1604,421Z" fill="#ece744" stroke="#ece744"/><path d="M1634,433L1645,427 1635,418 1624,424Z" fill="#e2e63e" stroke="#e2e63e"/><path d="M1674,439L1685,433 1675,424 1665,430Z" fill="#c9e231" stroke="#c9e231"/><path d="M1694,442L1704,436 1695,428 1685,433Z" fill="#badf2b" stroke="#badf2b"/><path d="M1714,445L1724,440 1715,431 1704,436Z" fill="#a9dd25" stroke="#a9dd25"/><path d="M1734,449L1744,444 1734,435 1724,440Z" fill="#96db20" stroke="#96db20"/><path d="M1773,457L1783,452 1773,444 1764,448Z" fill="#6ad118" stroke="#6ad118"/><path d="M1793,461L1802,457 1793,448 1783,452Z" fill="#53cc15" stroke="#53cc15"/><path d="M1812,465L1822,461 1812,453 1802,457Z" fill="#3ac611" stroke="#3ac611"/><path d="M1831,470L1841,466 1831,458 1822,461Z" fill="#21bf0e" stroke="#21bf0e"/><path d="M1869,480L1878,476 1869,468 1859,471Z" fill="#09af22" stroke="#09af22"/><path d="M1888,485L1897,482 1887,474 1878,476Z" fill="#08a033" stroke="#08a033"/><path d="M1906,490L1915,487 1906,479 1897,482Z" fill="#069343" stroke="#069343"/><path d="M1925,495L1933,493 1924,485 1915,487Z" fill="#048650" stroke="#048650"/><path d="M1313,414L1323,404 1314,394 1304,404Z" fill="#e9f36c" stroke="#e9f36c"/><path d="M1412,414L1423,405 1413,396 1402,404Z" fill="#f8e563" stroke="#f8e563"/><path d="M1513,420L1523,412 1514,403 1503,410Z" fill="#f4da57" stroke="#f4da57"/><path d="M1654,436L1665,430 1655,421 1645,427Z" fill="#d7e437" stroke="#d7e437"/><path d="M1754,453L1764,448 1754,439 1744,444Z" fill="#81d71b" stroke="#81d71b"/><path d="M1850,475L1859,471 1850,463 1841,466Z" fill="#0cb90f" stroke="#0cb90f"/><path d="M1227,433L1236,421 1227,411 1218,424Z" fill="#b5f168" stroke="#b5f168"/><path d="M1245,430L1255,418 1246,409 1236,421Z" fill="#c2f169" stroke="#c2f169"/><path d="M1264,428L1274,416 1265,407 1255,418Z" fill="#cff26a" stroke="#cff26a"/><path d="M1283,426L1293,415 1284,405 1274,416Z" fill="#daf26b" stroke="#daf26b"/><path d="M1302,424L1313,414 1304,404 1293,415Z" fill="#e4f36c" stroke="#e4f36c"/><path d="M1322,423L1332,413 1323,404 1313,414Z" fill="#edf36d" stroke="#edf36d"/><path d="M1342,423L1352,413 1343,403 1332,413Z" fill="#f6f46f" stroke="#f6f46f"/><path d="M1361,423L1372,413 1363,403 1352,413Z" fill="#fbf26e" stroke="#fbf26e"/><path d="M1381,423L1392,413 1383,404 1372,413Z" fill="#faeb6b" stroke="#faeb6b"/><path d="M1401,423L1412,414 1402,404 1392,413Z" fill="#f9e668" stroke="#f9e668"/><path d="M1421,423L1432,415 1423,405 1412,414Z" fill="#f8e165" stroke="#f8e165"/><path d="M1441,424L1452,416 1443,406 1432,415Z" fill="#f7dc62" stroke="#f7dc62"/><path d="M1461,425L1472,417 1463,407 1452,416Z" fill="#f6d95f" stroke="#f6d95f"/><path d="M1482,426L1492,418 1483,409 1472,417Z" fill="#f6d75d" stroke="#f6d75d"/><path d="M1502,427L1513,420 1503,410 1492,418Z" fill="#f5d65b" stroke="#f5d65b"/><path d="M1522,429L1533,421 1523,412 1513,420Z" fill="#f4d659" stroke="#f4d659"/><path d="M1542,431L1553,423 1544,414 1533,421Z" fill="#f4d758" stroke="#f4d758"/><path d="M1563,432L1573,425 1564,416 1553,423Z" fill="#f2d855" stroke="#f2d855"/><path d="M1583,434L1594,428 1584,418 1573,425Z" fill="#f0da50" stroke="#f0da50"/><path d="M1603,437L1614,430 1604,421 1594,428Z" fill="#eedd4b" stroke="#eedd4b"/><path d="M1623,439L1634,433 1624,424 1614,430Z" fill="#ece145" stroke="#ece145"/><path d="M1643,442L1654,436 1645,427 1634,433Z" fill="#e9e63e" stroke="#e9e63e"/><path d="M1664,445L1674,439 1665,430 1654,436Z" fill="#dde438" stroke="#dde438"/><path d="M1684,448L1694,442 1685,433 1674,439Z" fill="#d0e232" stroke="#d0e232"/><path d="M1704,451L1714,445 1704,436 1694,442Z" fill="#c1df2c" stroke="#c1df2c"/><path d="M1724,454L1734,449 1724,440 1714,445Z" fill="#b0dd26" stroke="#b0dd26"/><path d="M1743,458L1754,453 1744,444 1734,449Z" fill="#9ddb21" stroke="#9ddb21"/><path d="M1763,461L1773,457 1764,448 1754,453Z" fill="#88d71c" stroke="#88d71c"/><path d="M1783,465L1793,461 1783,452 1773,457Z" fill="#71d119" stroke="#71d119"/><path d="M1802,470L1812,465 1802,457 1793,461Z" fill="#5acb15" stroke="#5acb15"/><path d="M1821,474L1831,470 1822,461 1812,465Z" fill="#41c512" stroke="#41c512"/><path d="M1841,478L1850,475 1841,466 1831,470Z" fill="#29bf0e" stroke="#29bf0e"/><path d="M1860,483L1869,480 1859,471 1850,475Z" fill="#0fb90b" stroke="#0fb90b"/><path d="M1879,488L1888,485 1878,476 1869,480Z" fill="#0aae1c" stroke="#0aae1c"/><path d="M1897,493L1906,490 1897,482 1888,485Z" fill="#08a02e" stroke="#08a02e"/><path d="M1916,498L1925,495 1915,487 1906,490Z" fill="#06933e" stroke="#06933e"/><path d="M1934,504L1943,501 1933,493 1925,495Z" fill="#04874c" stroke="#04874c"/><path d="M1217,445L1227,433 1218,424 1208,436Z" fill="#acf168" stroke="#acf168"/><path d="M1236,442L1245,430 1236,421 1227,433Z" fill="#baf169" stroke="#baf169"/><path d="M1254,439L1264,428 1255,418 1245,430Z" fill="#c7f26a" stroke="#c7f26a"/><path d="M1273,437L1283,426 1274,416 1264,428Z" fill="#d4f26b" stroke="#d4f26b"/><path d="M1292,435L1302,424 1293,415 1283,426Z" fill="#dff36c" stroke="#dff36c"/><path d="M1312,434L1322,423 1313,414 1302,424Z" fill="#e9f36e" stroke="#e9f36e"/><path d="M1331,433L1342,423 1332,413 1322,423Z" fill="#f2f46f" stroke="#f2f46f"/><path d="M1351,432L1361,423 1352,413 1342,423Z" fill="#faf470" stroke="#faf470"/><path d="M1371,432L1381,423 1372,413 1361,423Z" fill="#fbee6f" stroke="#fbee6f"/><path d="M1390,432L1401,423 1392,413 1381,423Z" fill="#fae86c" stroke="#fae86c"/><path d="M1410,432L1421,423 1412,414 1401,423Z" fill="#f9e269" stroke="#f9e269"/><path d="M1431,433L1441,424 1432,415 1421,423Z" fill="#f9dc66" stroke="#f9dc66"/><path d="M1451,434L1461,425 1452,416 1441,424Z" fill="#f8d863" stroke="#f8d863"/><path d="M1471,434L1482,426 1472,417 1461,425Z" fill="#f7d561" stroke="#f7d561"/><path d="M1491,435L1502,427 1492,418 1482,426Z" fill="#f6d35f" stroke="#f6d35f"/><path d="M1511,437L1522,429 1513,420 1502,427Z" fill="#f5d15d" stroke="#f5d15d"/><path d="M1532,438L1542,431 1533,421 1522,429Z" fill="#f5d15c" stroke="#f5d15c"/><path d="M1552,440L1563,432 1553,423 1542,431Z" fill="#f4d25a" stroke="#f4d25a"/><path d="M1572,442L1583,434 1573,425 1563,432Z" fill="#f3d457" stroke="#f3d457"/><path d="M1592,444L1603,437 1594,428 1583,434Z" fill="#f1d552" stroke="#f1d552"/><path d="M1613,446L1623,439 1614,430 1603,437Z" fill="#efd84c" stroke="#efd84c"/><path d="M1633,448L1643,442 1634,433 1623,439Z" fill="#ecdc45" stroke="#ecdc45"/><path d="M1653,451L1664,445 1654,436 1643,442Z" fill="#eae13f" stroke="#eae13f"/><path d="M1673,454L1684,448 1674,439 1664,445Z" fill="#e3e439" stroke="#e3e439"/><path d="M1693,457L1704,451 1694,442 1684,448Z" fill="#d6e233" stroke="#d6e233"/><path d="M1713,460L1724,454 1714,445 1704,451Z" fill="#c7e02d" stroke="#c7e02d"/><path d="M1733,463L1743,458 1734,449 1724,454Z" fill="#b6dd27" stroke="#b6dd27"/><path d="M1753,467L1763,461 1754,453 1743,458Z" fill="#a4db21" stroke="#a4db21"/><path d="M1773,470L1783,465 1773,457 1763,461Z" fill="#8fd71d" stroke="#8fd71d"/><path d="M1792,474L1802,470 1793,461 1783,465Z" fill="#78d119" stroke="#78d119"/><path d="M1812,478L1821,474 1812,465 1802,470Z" fill="#61cb16" stroke="#61cb16"/><path d="M1831,482L1841,478 1831,470 1821,474Z" fill="#49c512" stroke="#49c512"/><path d="M1850,487L1860,483 1850,475 1841,478Z" fill="#30bf0f" stroke="#30bf0f"/><path d="M1869,492L1879,488 1869,480 1860,483Z" fill="#16b80c" stroke="#16b80c"/><path d="M1888,496L1897,493 1888,485 1879,488Z" fill="#0aae16" stroke="#0aae16"/><path d="M1907,501L1916,498 1906,490 1897,493Z" fill="#08a128" stroke="#08a128"/><path d="M1925,506L1934,504 1925,495 1916,498Z" fill="#069438" stroke="#069438"/><path d="M1944,512L1952,509 1943,501 1934,504Z" fill="#058847" stroke="#058847"/><path d="M1208,458L1217,445 1208,436 1199,449Z" fill="#a2f169" stroke="#a2f169"/><path d="M1226,455L1236,442 1227,433 1217,445Z" fill="#b1f16a" stroke="#b1f16a"/><path d="M1263,449L1273,437 1264,428 1254,439Z" fill="#ccf26b" stroke="#ccf26b"/><path d="M1301,445L1312,434 1302,424 1292,435Z" fill="#e4f36e" stroke="#e4f36e"/><path d="M1321,444L1331,433 1322,423 1312,434Z" fill="#eef46f" stroke="#eef46f"/><path d="M1360,442L1371,432 1361,423 1351,432Z" fill="#fcf172" stroke="#fcf172"/><path d="M1400,442L1410,432 1401,423 1390,432Z" fill="#fbe46e" stroke="#fbe46e"/><path d="M1420,442L1431,433 1421,423 1410,432Z" fill="#fade6b" stroke="#fade6b"/><path d="M1460,443L1471,434 1461,425 1451,434Z" fill="#f8d465" stroke="#f8d465"/><path d="M1500,445L1511,437 1502,427 1491,435Z" fill="#f6cf61" stroke="#f6cf61"/><path d="M1521,446L1532,438 1522,429 1511,437Z" fill="#f6cd5f" stroke="#f6cd5f"/><path d="M1561,449L1572,442 1563,432 1552,440Z" fill="#f5ce5d" stroke="#f5ce5d"/><path d="M1602,453L1613,446 1603,437 1592,444Z" fill="#f1d054" stroke="#f1d054"/><path d="M1642,457L1653,451 1643,442 1633,448Z" fill="#edd646" stroke="#edd646"/><path d="M1663,460L1673,454 1664,445 1653,451Z" fill="#eadc40" stroke="#eadc40"/><path d="M1703,466L1713,460 1704,451 1693,457Z" fill="#dde233" stroke="#dde233"/><path d="M1743,472L1753,467 1743,458 1733,463Z" fill="#bddd28" stroke="#bddd28"/><path d="M1763,475L1773,470 1763,461 1753,467Z" fill="#abdb22" stroke="#abdb22"/><path d="M1802,483L1812,478 1802,470 1792,474Z" fill="#7fd11a" stroke="#7fd11a"/><path d="M1841,491L1850,487 1841,478 1831,482Z" fill="#4fc513" stroke="#4fc513"/><path d="M1860,495L1869,492 1860,483 1850,487Z" fill="#37be0f" stroke="#37be0f"/><path d="M1898,505L1907,501 1897,493 1888,496Z" fill="#0bae10" stroke="#0bae10"/><path d="M1935,515L1944,512 1934,504 1925,506Z" fill="#079433" stroke="#079433"/><path d="M1953,520L1962,517 1952,509 1944,512Z" fill="#058942" stroke="#058942"/><path d="M1244,451L1254,439 1245,430 1236,442Z" fill="#bff26a" stroke="#bff26a"/><path d="M1282,447L1292,435 1283,426 1273,437Z" fill="#d8f36d" stroke="#d8f36d"/><path d="M1340,443L1351,432 1342,423 1331,433Z" fill="#f7f470" stroke="#f7f470"/><path d="M1380,442L1390,432 1381,423 1371,432Z" fill="#fceb71" stroke="#fceb71"/><path d="M1440,442L1451,434 1441,424 1431,433Z" fill="#f9d868" stroke="#f9d868"/><path d="M1480,444L1491,435 1482,426 1471,434Z" fill="#f7d163" stroke="#f7d163"/><path d="M1541,448L1552,440 1542,431 1532,438Z" fill="#f5cd5e" stroke="#f5cd5e"/><path d="M1582,451L1592,444 1583,434 1572,442Z" fill="#f3cf5a" stroke="#f3cf5a"/><path d="M1622,455L1633,448 1623,439 1613,446Z" fill="#efd34d" stroke="#efd34d"/><path d="M1683,463L1693,457 1684,448 1673,454Z" fill="#e8e239" stroke="#e8e239"/><path d="M1723,469L1733,463 1724,454 1713,460Z" fill="#cee02d" stroke="#cee02d"/><path d="M1782,479L1792,474 1783,465 1773,470Z" fill="#96d61e" stroke="#96d61e"/><path d="M1821,487L1831,482 1821,474 1812,478Z" fill="#68cb16" stroke="#68cb16"/><path d="M1879,500L1888,496 1879,488 1869,492Z" fill="#1db80c" stroke="#1db80c"/><path d="M1916,510L1925,506 1916,498 1907,501Z" fill="#09a122" stroke="#09a122"/><path d="M1199,472L1208,458 1199,449 1190,463Z" fill="#97f169" stroke="#97f169"/><path d="M1217,467L1226,455 1217,445 1208,458Z" fill="#a7f16a" stroke="#a7f16a"/><path d="M1235,464L1244,451 1236,442 1226,455Z" fill="#b6f26b" stroke="#b6f26b"/><path d="M1253,461L1263,449 1254,439 1244,451Z" fill="#c4f26c" stroke="#c4f26c"/><path d="M1272,458L1282,447 1273,437 1263,449Z" fill="#d1f36d" stroke="#d1f36d"/><path d="M1291,456L1301,445 1292,435 1282,447Z" fill="#ddf36e" stroke="#ddf36e"/><path d="M1311,454L1321,444 1312,434 1301,445Z" fill="#e8f46f" stroke="#e8f46f"/><path d="M1330,453L1340,443 1331,433 1321,444Z" fill="#f2f471" stroke="#f2f471"/><path d="M1350,452L1360,442 1351,432 1340,443Z" fill="#fbf472" stroke="#fbf472"/><path d="M1369,452L1380,442 1371,432 1360,442Z" fill="#fcee74" stroke="#fcee74"/><path d="M1389,451L1400,442 1390,432 1380,442Z" fill="#fce773" stroke="#fce773"/><path d="M1409,451L1420,442 1410,432 1400,442Z" fill="#fbe06f" stroke="#fbe06f"/><path d="M1429,452L1440,442 1431,433 1420,442Z" fill="#fada6c" stroke="#fada6c"/><path d="M1449,452L1460,443 1451,434 1440,442Z" fill="#f9d569" stroke="#f9d569"/><path d="M1469,453L1480,444 1471,434 1460,443Z" fill="#f8d067" stroke="#f8d067"/><path d="M1490,453L1500,445 1491,435 1480,444Z" fill="#f8cd65" stroke="#f8cd65"/><path d="M1510,454L1521,446 1511,437 1500,445Z" fill="#f7cb63" stroke="#f7cb63"/><path d="M1530,456L1541,448 1532,438 1521,446Z" fill="#f6c961" stroke="#f6c961"/><path d="M1551,457L1561,449 1552,440 1541,448Z" fill="#f6c960" stroke="#f6c960"/><path d="M1571,458L1582,451 1572,442 1561,449Z" fill="#f5ca5f" stroke="#f5ca5f"/><path d="M1591,460L1602,453 1592,444 1582,451Z" fill="#f4cb5b" stroke="#f4cb5b"/><path d="M1611,462L1622,455 1613,446 1602,453Z" fill="#f2cc54" stroke="#f2cc54"/><path d="M1632,464L1642,457 1633,448 1622,455Z" fill="#efce4d" stroke="#efce4d"/><path d="M1652,467L1663,460 1653,451 1642,457Z" fill="#edd147" stroke="#edd147"/><path d="M1672,469L1683,463 1673,454 1663,460Z" fill="#ebd640" stroke="#ebd640"/><path d="M1692,472L1703,466 1693,457 1683,463Z" fill="#e8dc3a" stroke="#e8dc3a"/><path d="M1712,475L1723,469 1713,460 1703,466Z" fill="#e3e234" stroke="#e3e234"/><path d="M1732,478L1743,472 1733,463 1723,469Z" fill="#d4e02e" stroke="#d4e02e"/><path d="M1752,481L1763,475 1753,467 1743,472Z" fill="#c4dd29" stroke="#c4dd29"/><path d="M1772,484L1782,479 1773,470 1763,475Z" fill="#b2db23" stroke="#b2db23"/><path d="M1792,488L1802,483 1792,474 1782,479Z" fill="#9dd61e" stroke="#9dd61e"/><path d="M1812,492L1821,487 1812,478 1802,483Z" fill="#86d11a" stroke="#86d11a"/><path d="M1831,496L1841,491 1831,482 1821,487Z" fill="#6fca17" stroke="#6fca17"/><path d="M1850,500L1860,495 1850,487 1841,491Z" fill="#56c413" stroke="#56c413"/><path d="M1870,504L1879,500 1869,492 1860,495Z" fill="#3dbe10" stroke="#3dbe10"/><path d="M1889,509L1898,505 1888,496 1879,500Z" fill="#24b70d" stroke="#24b70d"/><path d="M1907,513L1916,510 1907,501 1898,505Z" fill="#0cad0a" stroke="#0cad0a"/><path d="M1926,518L1935,515 1925,506 1916,510Z" fill="#09a11d" stroke="#09a11d"/><path d="M1945,523L1953,520 1944,512 1935,515Z" fill="#07952e" stroke="#07952e"/><path d="M1963,528L1971,526 1962,517 1953,520Z" fill="#058a3e" stroke="#058a3e"/><path d="M1207,481L1217,467 1208,458 1199,472Z" fill="#9cf16a" stroke="#9cf16a"/><path d="M1225,476L1235,464 1226,455 1217,467Z" fill="#acf26b" stroke="#acf26b"/><path d="M1244,473L1253,461 1244,451 1235,464Z" fill="#bbf26c" stroke="#bbf26c"/><path d="M1281,468L1291,456 1282,447 1272,458Z" fill="#d6f36e" stroke="#d6f36e"/><path d="M1300,466L1311,454 1301,445 1291,456Z" fill="#e2f46f" stroke="#e2f46f"/><path d="M1320,464L1330,453 1321,444 1311,454Z" fill="#edf471" stroke="#edf471"/><path d="M1339,463L1350,452 1340,443 1330,453Z" fill="#f7f472" stroke="#f7f472"/><path d="M1379,461L1389,451 1380,442 1369,452Z" fill="#fdea75" stroke="#fdea75"/><path d="M1398,461L1409,451 1400,442 1389,451Z" fill="#fce374" stroke="#fce374"/><path d="M1418,461L1429,452 1420,442 1409,451Z" fill="#fbdc70" stroke="#fbdc70"/><path d="M1439,461L1449,452 1440,442 1429,452Z" fill="#fad66d" stroke="#fad66d"/><path d="M1479,462L1490,453 1480,444 1469,453Z" fill="#f9cc68" stroke="#f9cc68"/><path d="M1499,463L1510,454 1500,445 1490,453Z" fill="#f8c966" stroke="#f8c966"/><path d="M1519,464L1530,456 1521,446 1510,454Z" fill="#f7c765" stroke="#f7c765"/><path d="M1540,465L1551,457 1541,448 1530,456Z" fill="#f7c663" stroke="#f7c663"/><path d="M1580,468L1591,460 1582,451 1571,458Z" fill="#f6c661" stroke="#f6c661"/><path d="M1621,471L1632,464 1622,455 1611,462Z" fill="#f2c755" stroke="#f2c755"/><path d="M1641,473L1652,467 1642,457 1632,464Z" fill="#f0c94e" stroke="#f0c94e"/><path d="M1662,476L1672,469 1663,460 1652,467Z" fill="#edcc48" stroke="#edcc48"/><path d="M1682,478L1692,472 1683,463 1672,469Z" fill="#ebd141" stroke="#ebd141"/><path d="M1722,484L1732,478 1723,469 1712,475Z" fill="#e6de35" stroke="#e6de35"/><path d="M1742,487L1752,481 1743,472 1732,478Z" fill="#dbe02f" stroke="#dbe02f"/><path d="M1762,490L1772,484 1763,475 1752,481Z" fill="#cbdd29" stroke="#cbdd29"/><path d="M1782,493L1792,488 1782,479 1772,484Z" fill="#b9db24" stroke="#b9db24"/><path d="M1821,500L1831,496 1821,487 1812,492Z" fill="#8dd01b" stroke="#8dd01b"/><path d="M1841,504L1850,500 1841,491 1831,496Z" fill="#75ca17" stroke="#75ca17"/><path d="M1860,508L1870,504 1860,495 1850,500Z" fill="#5dc414" stroke="#5dc414"/><path d="M1879,513L1889,509 1879,500 1870,504Z" fill="#44bd10" stroke="#44bd10"/><path d="M1917,522L1926,518 1916,510 1907,513Z" fill="#12ad0b" stroke="#12ad0b"/><path d="M1936,526L1945,523 1935,515 1926,518Z" fill="#09a117" stroke="#09a117"/><path d="M1954,531L1963,528 1953,520 1945,523Z" fill="#079529" stroke="#079529"/><path d="M1262,470L1272,458 1263,449 1253,461Z" fill="#c9f36d" stroke="#c9f36d"/><path d="M1359,462L1369,452 1360,442 1350,452Z" fill="#fcf174" stroke="#fcf174"/><path d="M1459,461L1469,453 1460,443 1449,452Z" fill="#fad16b" stroke="#fad16b"/><path d="M1560,466L1571,458 1561,449 1551,457Z" fill="#f6c562" stroke="#f6c562"/><path d="M1601,470L1611,462 1602,453 1591,460Z" fill="#f4c75c" stroke="#f4c75c"/><path d="M1702,481L1712,475 1703,466 1692,472Z" fill="#e8d73b" stroke="#e8d73b"/><path d="M1802,497L1812,492 1802,483 1792,488Z" fill="#a4d61f" stroke="#a4d61f"/><path d="M1898,517L1907,513 1898,505 1889,509Z" fill="#2bb70d" stroke="#2bb70d"/><path d="M1216,490L1225,476 1217,467 1207,481Z" fill="#a1f26c" stroke="#a1f26c"/><path d="M1234,486L1244,473 1235,464 1225,476Z" fill="#b0f26c" stroke="#b0f26c"/><path d="M1253,482L1262,470 1253,461 1244,473Z" fill="#bff36d" stroke="#bff36d"/><path d="M1271,479L1281,468 1272,458 1262,470Z" fill="#cdf36e" stroke="#cdf36e"/><path d="M1290,477L1300,466 1291,456 1281,468Z" fill="#daf470" stroke="#daf470"/><path d="M1310,475L1320,464 1311,454 1300,466Z" fill="#e6f471" stroke="#e6f471"/><path d="M1329,474L1339,463 1330,453 1320,464Z" fill="#f1f472" stroke="#f1f472"/><path d="M1348,472L1359,462 1350,452 1339,463Z" fill="#fbf574" stroke="#fbf574"/><path d="M1368,472L1379,461 1369,452 1359,462Z" fill="#fdee75" stroke="#fdee75"/><path d="M1388,471L1398,461 1389,451 1379,461Z" fill="#fde776" stroke="#fde776"/><path d="M1408,471L1418,461 1409,451 1398,461Z" fill="#fce075" stroke="#fce075"/><path d="M1428,471L1439,461 1429,452 1418,461Z" fill="#fcd972" stroke="#fcd972"/><path d="M1448,471L1459,461 1449,452 1439,461Z" fill="#fbd26f" stroke="#fbd26f"/><path d="M1468,471L1479,462 1469,453 1459,461Z" fill="#facd6c" stroke="#facd6c"/><path d="M1488,472L1499,463 1490,453 1479,462Z" fill="#f9c96a" stroke="#f9c96a"/><path d="M1509,472L1519,464 1510,454 1499,463Z" fill="#f8c568" stroke="#f8c568"/><path d="M1529,473L1540,465 1530,456 1519,464Z" fill="#f8c367" stroke="#f8c367"/><path d="M1549,474L1560,466 1551,457 1540,465Z" fill="#f7c266" stroke="#f7c266"/><path d="M1570,476L1580,468 1571,458 1560,466Z" fill="#f7c164" stroke="#f7c164"/><path d="M1590,477L1601,470 1591,460 1580,468Z" fill="#f6c261" stroke="#f6c261"/><path d="M1610,479L1621,471 1611,462 1601,470Z" fill="#f5c25d" stroke="#f5c25d"/><path d="M1631,481L1641,473 1632,464 1621,471Z" fill="#f2c256" stroke="#f2c256"/><path d="M1651,483L1662,476 1652,467 1641,473Z" fill="#f0c44f" stroke="#f0c44f"/><path d="M1671,485L1682,478 1672,469 1662,476Z" fill="#eec748" stroke="#eec748"/><path d="M1691,487L1702,481 1692,472 1682,478Z" fill="#ebcb42" stroke="#ebcb42"/><path d="M1712,490L1722,484 1712,475 1702,481Z" fill="#e8d13c" stroke="#e8d13c"/><path d="M1732,493L1742,487 1732,478 1722,484Z" fill="#e6d836" stroke="#e6d836"/><path d="M1752,496L1762,490 1752,481 1742,487Z" fill="#e1e030" stroke="#e1e030"/><path d="M1772,499L1782,493 1772,484 1762,490Z" fill="#d1dd2a" stroke="#d1dd2a"/><path d="M1792,502L1802,497 1792,488 1782,493Z" fill="#bfdb24" stroke="#bfdb24"/><path d="M1811,506L1821,500 1812,492 1802,497Z" fill="#abd61f" stroke="#abd61f"/><path d="M1831,509L1841,504 1831,496 1821,500Z" fill="#94d01b" stroke="#94d01b"/><path d="M1850,513L1860,508 1850,500 1841,504Z" fill="#7cca17" stroke="#7cca17"/><path d="M1870,517L1879,513 1870,504 1860,508Z" fill="#64c414" stroke="#64c414"/><path d="M1889,521L1898,517 1889,509 1879,513Z" fill="#4bbd11" stroke="#4bbd11"/><path d="M1908,526L1917,522 1907,513 1898,517Z" fill="#32b60e" stroke="#32b60e"/><path d="M1927,530L1936,526 1926,518 1917,522Z" fill="#19ad0b" stroke="#19ad0b"/><path d="M1945,535L1954,531 1945,523 1936,526Z" fill="#0aa112" stroke="#0aa112"/><path d="M1225,499L1234,486 1225,476 1216,490Z" fill="#a5f26d" stroke="#a5f26d"/><path d="M1243,495L1253,482 1244,473 1234,486Z" fill="#b5f36e" stroke="#b5f36e"/><path d="M1262,492L1271,479 1262,470 1253,482Z" fill="#c4f36f" stroke="#c4f36f"/><path d="M1280,489L1290,477 1281,468 1271,479Z" fill="#d2f470" stroke="#d2f470"/><path d="M1299,487L1310,475 1300,466 1290,477Z" fill="#dff471" stroke="#dff471"/><path d="M1319,485L1329,474 1320,464 1310,475Z" fill="#ebf472" stroke="#ebf472"/><path d="M1338,483L1348,472 1339,463 1329,474Z" fill="#f6f574" stroke="#f6f574"/><path d="M1358,482L1368,472 1359,462 1348,472Z" fill="#fdf275" stroke="#fdf275"/><path d="M1377,481L1388,471 1379,461 1368,472Z" fill="#fdea76" stroke="#fdea76"/><path d="M1397,481L1408,471 1398,461 1388,471Z" fill="#fde377" stroke="#fde377"/><path d="M1417,480L1428,471 1418,461 1408,471Z" fill="#fddc76" stroke="#fddc76"/><path d="M1437,480L1448,471 1439,461 1428,471Z" fill="#fcd573" stroke="#fcd573"/><path d="M1457,480L1468,471 1459,461 1448,471Z" fill="#fbcf70" stroke="#fbcf70"/><path d="M1478,481L1488,472 1479,462 1468,471Z" fill="#faca6e" stroke="#faca6e"/><path d="M1498,481L1509,472 1499,463 1488,472Z" fill="#f9c56c" stroke="#f9c56c"/><path d="M1518,482L1529,473 1519,464 1509,472Z" fill="#f9c26a" stroke="#f9c26a"/><path d="M1538,483L1549,474 1540,465 1529,473Z" fill="#f8c069" stroke="#f8c069"/><path d="M1559,484L1570,476 1560,466 1549,474Z" fill="#f8be67" stroke="#f8be67"/><path d="M1579,485L1590,477 1580,468 1570,476Z" fill="#f7bd64" stroke="#f7bd64"/><path d="M1600,487L1610,479 1601,470 1590,477Z" fill="#f7be62" stroke="#f7be62"/><path d="M1620,488L1631,481 1621,471 1610,479Z" fill="#f5be5d" stroke="#f5be5d"/><path d="M1640,490L1651,483 1641,473 1631,481Z" fill="#f3be56" stroke="#f3be56"/><path d="M1661,492L1671,485 1662,476 1651,483Z" fill="#f1bf50" stroke="#f1bf50"/><path d="M1681,494L1691,487 1682,478 1671,485Z" fill="#eec249" stroke="#eec249"/><path d="M1701,497L1712,490 1702,481 1691,487Z" fill="#ebc643" stroke="#ebc643"/><path d="M1721,499L1732,493 1722,484 1712,490Z" fill="#e9cb3c" stroke="#e9cb3c"/><path d="M1741,502L1752,496 1742,487 1732,493Z" fill="#e6d336" stroke="#e6d336"/><path d="M1761,505L1772,499 1762,490 1752,496Z" fill="#e3db30" stroke="#e3db30"/><path d="M1781,508L1792,502 1782,493 1772,499Z" fill="#d8dd2a" stroke="#d8dd2a"/><path d="M1801,511L1811,506 1802,497 1792,502Z" fill="#c6db24" stroke="#c6db24"/><path d="M1821,514L1831,509 1821,500 1811,506Z" fill="#b1d620" stroke="#b1d620"/><path d="M1841,518L1850,513 1841,504 1831,509Z" fill="#9ad01c" stroke="#9ad01c"/><path d="M1860,522L1870,517 1860,508 1850,513Z" fill="#83ca18" stroke="#83ca18"/><path d="M1879,526L1889,521 1879,513 1870,517Z" fill="#6ac314" stroke="#6ac314"/><path d="M1899,530L1908,526 1898,517 1889,521Z" fill="#51bd11" stroke="#51bd11"/><path d="M1918,534L1927,530 1917,522 1908,526Z" fill="#38b60e" stroke="#38b60e"/><path d="M1936,539L1945,535 1936,526 1927,530Z" fill="#1fac0c" stroke="#1fac0c"/><path d="M1252,504L1262,492 1253,482 1243,495Z" fill="#baf36f" stroke="#baf36f"/><path d="M1271,501L1280,489 1271,479 1262,492Z" fill="#c9f470" stroke="#c9f470"/><path d="M1309,496L1319,485 1310,475 1299,487Z" fill="#e3f472" stroke="#e3f472"/><path d="M1347,493L1358,482 1348,472 1338,483Z" fill="#faf575" stroke="#faf575"/><path d="M1367,492L1377,481 1368,472 1358,482Z" fill="#fdef76" stroke="#fdef76"/><path d="M1407,490L1417,480 1408,471 1397,481Z" fill="#fde078" stroke="#fde078"/><path d="M1447,490L1457,480 1448,471 1437,480Z" fill="#fcd274" stroke="#fcd274"/><path d="M1467,490L1478,481 1468,471 1457,480Z" fill="#fbcb72" stroke="#fbcb72"/><path d="M1507,491L1518,482 1509,472 1498,481Z" fill="#fac26e" stroke="#fac26e"/><path d="M1548,492L1559,484 1549,474 1538,483Z" fill="#f9bc6a" stroke="#f9bc6a"/><path d="M1609,496L1620,488 1610,479 1600,487Z" fill="#f7ba63" stroke="#f7ba63"/><path d="M1650,499L1661,492 1651,483 1640,490Z" fill="#f3b957" stroke="#f3b957"/><path d="M1690,503L1701,497 1691,487 1681,494Z" fill="#eebd4a" stroke="#eebd4a"/><path d="M1711,506L1721,499 1712,490 1701,497Z" fill="#ecc143" stroke="#ecc143"/><path d="M1751,511L1761,505 1752,496 1741,502Z" fill="#e6cd37" stroke="#e6cd37"/><path d="M1791,517L1801,511 1792,502 1781,508Z" fill="#dedd2a" stroke="#dedd2a"/><path d="M1811,520L1821,514 1811,506 1801,511Z" fill="#ccda25" stroke="#ccda25"/><path d="M1850,527L1860,522 1850,513 1841,518Z" fill="#a1d01c" stroke="#a1d01c"/><path d="M1889,534L1899,530 1889,521 1879,526Z" fill="#71c315" stroke="#71c315"/><path d="M1908,538L1918,534 1908,526 1899,530Z" fill="#58bc12" stroke="#58bc12"/><path d="M1234,508L1243,495 1234,486 1225,499Z" fill="#aaf36e" stroke="#aaf36e"/><path d="M1289,498L1299,487 1290,477 1280,489Z" fill="#d7f471" stroke="#d7f471"/><path d="M1328,494L1338,483 1329,474 1319,485Z" fill="#eff574" stroke="#eff574"/><path d="M1387,491L1397,481 1388,471 1377,481Z" fill="#fde777" stroke="#fde777"/><path d="M1427,490L1437,480 1428,471 1417,480Z" fill="#fdd977" stroke="#fdd977"/><path d="M1487,490L1498,481 1488,472 1478,481Z" fill="#fbc66f" stroke="#fbc66f"/><path d="M1528,491L1538,483 1529,473 1518,482Z" fill="#f9bf6c" stroke="#f9bf6c"/><path d="M1568,493L1579,485 1570,476 1559,484Z" fill="#f8ba67" stroke="#f8ba67"/><path d="M1589,495L1600,487 1590,477 1579,485Z" fill="#f7b965" stroke="#f7b965"/><path d="M1629,498L1640,490 1631,481 1620,488Z" fill="#f6ba5e" stroke="#f6ba5e"/><path d="M1670,501L1681,494 1671,485 1661,492Z" fill="#f1ba50" stroke="#f1ba50"/><path d="M1731,508L1741,502 1732,493 1721,499Z" fill="#e9c63d" stroke="#e9c63d"/><path d="M1771,514L1781,508 1772,499 1761,505Z" fill="#e3d530" stroke="#e3d530"/><path d="M1831,523L1841,518 1831,509 1821,514Z" fill="#b8d620" stroke="#b8d620"/><path d="M1870,531L1879,526 1870,517 1860,522Z" fill="#89c918" stroke="#89c918"/><path d="M1927,543L1936,539 1927,530 1918,534Z" fill="#3fb50f" stroke="#3fb50f"/><path d="M1242,517L1252,504 1243,495 1234,508Z" fill="#aff36f" stroke="#aff36f"/><path d="M1261,514L1271,501 1262,492 1252,504Z" fill="#bef470" stroke="#bef470"/><path d="M1280,511L1289,498 1280,489 1271,501Z" fill="#cdf471" stroke="#cdf471"/><path d="M1298,508L1309,496 1299,487 1289,498Z" fill="#dbf472" stroke="#dbf472"/><path d="M1318,506L1328,494 1319,485 1309,496Z" fill="#e8f574" stroke="#e8f574"/><path d="M1337,504L1347,493 1338,483 1328,494Z" fill="#f3f575" stroke="#f3f575"/><path d="M1357,503L1367,492 1358,482 1347,493Z" fill="#fdf476" stroke="#fdf476"/><path d="M1376,502L1387,491 1377,481 1367,492Z" fill="#fdeb77" stroke="#fdeb77"/><path d="M1396,501L1407,490 1397,481 1387,491Z" fill="#fde378" stroke="#fde378"/><path d="M1416,500L1427,490 1417,480 1407,490Z" fill="#fedc79" stroke="#fedc79"/><path d="M1436,500L1447,490 1437,480 1427,490Z" fill="#fdd578" stroke="#fdd578"/><path d="M1456,500L1467,490 1457,480 1447,490Z" fill="#fcce75" stroke="#fcce75"/><path d="M1476,500L1487,490 1478,481 1467,490Z" fill="#fcc873" stroke="#fcc873"/><path d="M1496,500L1507,491 1498,481 1487,490Z" fill="#fbc371" stroke="#fbc371"/><path d="M1517,500L1528,491 1518,482 1507,491Z" fill="#fabf6f" stroke="#fabf6f"/><path d="M1537,501L1548,492 1538,483 1528,491Z" fill="#fabb6d" stroke="#fabb6d"/><path d="M1557,502L1568,493 1559,484 1548,492Z" fill="#f9b86b" stroke="#f9b86b"/><path d="M1578,503L1589,495 1579,485 1568,493Z" fill="#f8b668" stroke="#f8b668"/><path d="M1598,504L1609,496 1600,487 1589,495Z" fill="#f8b566" stroke="#f8b566"/><path d="M1619,505L1629,498 1620,488 1609,496Z" fill="#f7b563" stroke="#f7b563"/><path d="M1639,507L1650,499 1640,490 1629,498Z" fill="#f6b55f" stroke="#f6b55f"/><path d="M1659,509L1670,501 1661,492 1650,499Z" fill="#f4b558" stroke="#f4b558"/><path d="M1680,511L1690,503 1681,494 1670,501Z" fill="#f1b651" stroke="#f1b651"/><path d="M1700,513L1711,506 1701,497 1690,503Z" fill="#efb84a" stroke="#efb84a"/><path d="M1720,515L1731,508 1721,499 1711,506Z" fill="#ecbb44" stroke="#ecbb44"/><path d="M1741,517L1751,511 1741,502 1731,508Z" fill="#e9c03d" stroke="#e9c03d"/><path d="M1761,520L1771,514 1761,505 1751,511Z" fill="#e6c737" stroke="#e6c737"/><path d="M1781,523L1791,517 1781,508 1771,514Z" fill="#e3cf31" stroke="#e3cf31"/><path d="M1801,526L1811,520 1801,511 1791,517Z" fill="#e0d92b" stroke="#e0d92b"/><path d="M1821,529L1831,523 1821,514 1811,520Z" fill="#d3da25" stroke="#d3da25"/><path d="M1840,532L1850,527 1841,518 1831,523Z" fill="#bed620" stroke="#bed620"/><path d="M1860,536L1870,531 1860,522 1850,527Z" fill="#a7d01c" stroke="#a7d01c"/><path d="M1879,539L1889,534 1879,526 1870,531Z" fill="#90c919" stroke="#90c919"/><path d="M1899,543L1908,538 1899,530 1889,534Z" fill="#77c315" stroke="#77c315"/><path d="M1918,547L1927,543 1918,534 1908,538Z" fill="#5ebc12" stroke="#5ebc12"/><path d="M1251,526L1261,514 1252,504 1242,517Z" fill="#b3f470" stroke="#b3f470"/><path d="M1270,523L1280,511 1271,501 1261,514Z" fill="#c3f471" stroke="#c3f471"/><path d="M1289,520L1298,508 1289,498 1280,511Z" fill="#d2f472" stroke="#d2f472"/><path d="M1327,516L1337,504 1328,494 1318,506Z" fill="#ecf575" stroke="#ecf575"/><path d="M1346,514L1357,503 1347,493 1337,504Z" fill="#f7f576" stroke="#f7f576"/><path d="M1366,512L1376,502 1367,492 1357,503Z" fill="#fdf177" stroke="#fdf177"/><path d="M1385,511L1396,501 1387,491 1376,502Z" fill="#fde878" stroke="#fde878"/><path d="M1425,510L1436,500 1427,490 1416,500Z" fill="#fed97a" stroke="#fed97a"/><path d="M1445,509L1456,500 1447,490 1436,500Z" fill="#fed279" stroke="#fed279"/><path d="M1465,509L1476,500 1467,490 1456,500Z" fill="#fdcb77" stroke="#fdcb77"/><path d="M1486,509L1496,500 1487,490 1476,500Z" fill="#fcc575" stroke="#fcc575"/><path d="M1526,510L1537,501 1528,491 1517,500Z" fill="#fbbb70" stroke="#fbbb70"/><path d="M1567,511L1578,503 1568,493 1557,502Z" fill="#f9b46b" stroke="#f9b46b"/><path d="M1587,512L1598,504 1589,495 1578,503Z" fill="#f9b269" stroke="#f9b269"/><path d="M1628,515L1639,507 1629,498 1619,505Z" fill="#f8b164" stroke="#f8b164"/><path d="M1669,518L1680,511 1670,501 1659,509Z" fill="#f4b058" stroke="#f4b058"/><path d="M1689,520L1700,513 1690,503 1680,511Z" fill="#f2b152" stroke="#f2b152"/><path d="M1710,522L1720,515 1711,506 1700,513Z" fill="#efb34b" stroke="#efb34b"/><path d="M1730,524L1741,517 1731,508 1720,515Z" fill="#ecb644" stroke="#ecb644"/><path d="M1770,529L1781,523 1771,514 1761,520Z" fill="#e6c137" stroke="#e6c137"/><path d="M1790,532L1801,526 1791,517 1781,523Z" fill="#e3c931" stroke="#e3c931"/><path d="M1810,535L1821,529 1811,520 1801,526Z" fill="#e0d32b" stroke="#e0d32b"/><path d="M1830,538L1840,532 1831,523 1821,529Z" fill="#d9da25" stroke="#d9da25"/><path d="M1870,545L1879,539 1870,531 1860,536Z" fill="#aed01d" stroke="#aed01d"/><path d="M1889,548L1899,543 1889,534 1879,539Z" fill="#96c919" stroke="#96c919"/><path d="M1908,552L1918,547 1908,538 1899,543Z" fill="#7ec216" stroke="#7ec216"/><path d="M1308,518L1318,506 1309,496 1298,508Z" fill="#dff574" stroke="#dff574"/><path d="M1405,510L1416,500 1407,490 1396,501Z" fill="#fee079" stroke="#fee079"/><path d="M1506,510L1517,500 1507,491 1496,500Z" fill="#fbc073" stroke="#fbc073"/><path d="M1547,511L1557,502 1548,492 1537,501Z" fill="#fab76e" stroke="#fab76e"/><path d="M1608,514L1619,505 1609,496 1598,504Z" fill="#f8b166" stroke="#f8b166"/><path d="M1649,516L1659,509 1650,499 1639,507Z" fill="#f7b15f" stroke="#f7b15f"/><path d="M1750,527L1761,520 1751,511 1741,517Z" fill="#e9bb3d" stroke="#e9bb3d"/><path d="M1850,541L1860,536 1850,527 1840,532Z" fill="#c5d621" stroke="#c5d621"/><path d="M1260,536L1270,523 1261,514 1251,526Z" fill="#b8f471" stroke="#b8f471"/><path d="M1279,532L1289,520 1280,511 1270,523Z" fill="#c7f472" stroke="#c7f472"/><path d="M1298,530L1308,518 1298,508 1289,520Z" fill="#d6f574" stroke="#d6f574"/><path d="M1317,527L1327,516 1318,506 1308,518Z" fill="#e4f575" stroke="#e4f575"/><path d="M1336,525L1346,514 1337,504 1327,516Z" fill="#f0f576" stroke="#f0f576"/><path d="M1355,524L1366,512 1357,503 1346,514Z" fill="#fbf577" stroke="#fbf577"/><path d="M1375,522L1385,511 1376,502 1366,512Z" fill="#fded78" stroke="#fded78"/><path d="M1395,521L1405,510 1396,501 1385,511Z" fill="#fee579" stroke="#fee579"/><path d="M1415,520L1425,510 1416,500 1405,510Z" fill="#fedd7a" stroke="#fedd7a"/><path d="M1435,520L1445,509 1436,500 1425,510Z" fill="#fed67b" stroke="#fed67b"/><path d="M1455,519L1465,509 1456,500 1445,509Z" fill="#fecf7a" stroke="#fecf7a"/><path d="M1475,519L1486,509 1476,500 1465,509Z" fill="#fdc878" stroke="#fdc878"/><path d="M1495,519L1506,510 1496,500 1486,509Z" fill="#fcc276" stroke="#fcc276"/><path d="M1515,519L1526,510 1517,500 1506,510Z" fill="#fcbc74" stroke="#fcbc74"/><path d="M1536,520L1547,511 1537,501 1526,510Z" fill="#fbb771" stroke="#fbb771"/><path d="M1556,520L1567,511 1557,502 1547,511Z" fill="#fab36e" stroke="#fab36e"/><path d="M1577,521L1587,512 1578,503 1567,511Z" fill="#fab06c" stroke="#fab06c"/><path d="M1597,522L1608,514 1598,504 1587,512Z" fill="#f9ae69" stroke="#f9ae69"/><path d="M1617,523L1628,515 1619,505 1608,514Z" fill="#f9ad67" stroke="#f9ad67"/><path d="M1638,524L1649,516 1639,507 1628,515Z" fill="#f8ad64" stroke="#f8ad64"/><path d="M1658,526L1669,518 1659,509 1649,516Z" fill="#f7ad60" stroke="#f7ad60"/><path d="M1679,527L1689,520 1680,511 1669,518Z" fill="#f5ac59" stroke="#f5ac59"/><path d="M1699,529L1710,522 1700,513 1689,520Z" fill="#f2ac52" stroke="#f2ac52"/><path d="M1720,531L1730,524 1720,515 1710,522Z" fill="#efae4b" stroke="#efae4b"/><path d="M1740,533L1750,527 1741,517 1730,524Z" fill="#ecb044" stroke="#ecb044"/><path d="M1760,536L1770,529 1761,520 1750,527Z" fill="#e9b53e" stroke="#e9b53e"/><path d="M1780,538L1790,532 1781,523 1770,529Z" fill="#e6bb37" stroke="#e6bb37"/><path d="M1800,541L1810,535 1801,526 1790,532Z" fill="#e3c331" stroke="#e3c331"/><path d="M1820,544L1830,538 1821,529 1810,535Z" fill="#e0cc2b" stroke="#e0cc2b"/><path d="M1840,547L1850,541 1840,532 1830,538Z" fill="#ddd826" stroke="#ddd826"/><path d="M1860,550L1870,545 1860,536 1850,541Z" fill="#cbd621" stroke="#cbd621"/><path d="M1879,553L1889,548 1879,539 1870,545Z" fill="#b4cf1d" stroke="#b4cf1d"/><path d="M1899,557L1908,552 1899,543 1889,548Z" fill="#9cc91a" stroke="#9cc91a"/><path d="M1269,545L1279,532 1270,523 1260,536Z" fill="#bcf473" stroke="#bcf473"/><path d="M1288,542L1298,530 1289,520 1279,532Z" fill="#ccf574" stroke="#ccf574"/><path d="M1307,539L1317,527 1308,518 1298,530Z" fill="#daf575" stroke="#daf575"/><path d="M1326,537L1336,525 1327,516 1317,527Z" fill="#e8f576" stroke="#e8f576"/><path d="M1345,535L1355,524 1346,514 1336,525Z" fill="#f4f577" stroke="#f4f577"/><path d="M1365,533L1375,522 1366,512 1355,524Z" fill="#fdf478" stroke="#fdf478"/><path d="M1384,532L1395,521 1385,511 1375,522Z" fill="#feea79" stroke="#feea79"/><path d="M1404,531L1415,520 1405,510 1395,521Z" fill="#fee17a" stroke="#fee17a"/><path d="M1424,530L1435,520 1425,510 1415,520Z" fill="#fed97b" stroke="#fed97b"/><path d="M1444,529L1455,519 1445,509 1435,520Z" fill="#fed37c" stroke="#fed37c"/><path d="M1464,529L1475,519 1465,509 1455,519Z" fill="#fecc7c" stroke="#fecc7c"/><path d="M1484,529L1495,519 1486,509 1475,519Z" fill="#fdc579" stroke="#fdc579"/><path d="M1505,529L1515,519 1506,510 1495,519Z" fill="#fdbe77" stroke="#fdbe77"/><path d="M1525,529L1536,520 1526,510 1515,519Z" fill="#fcb974" stroke="#fcb974"/><path d="M1545,529L1556,520 1547,511 1536,520Z" fill="#fbb471" stroke="#fbb471"/><path d="M1566,530L1577,521 1567,511 1556,520Z" fill="#fab06f" stroke="#fab06f"/><path d="M1586,531L1597,522 1587,512 1577,521Z" fill="#faad6c" stroke="#faad6c"/><path d="M1607,532L1617,523 1608,514 1597,522Z" fill="#f9ab6a" stroke="#f9ab6a"/><path d="M1627,533L1638,524 1628,515 1617,523Z" fill="#f9a967" stroke="#f9a967"/><path d="M1648,534L1658,526 1649,516 1638,524Z" fill="#f9a965" stroke="#f9a965"/><path d="M1668,535L1679,527 1669,518 1658,526Z" fill="#f8a961" stroke="#f8a961"/><path d="M1688,537L1699,529 1689,520 1679,527Z" fill="#f5a85a" stroke="#f5a85a"/><path d="M1709,539L1720,531 1710,522 1699,529Z" fill="#f2a752" stroke="#f2a752"/><path d="M1729,541L1740,533 1730,524 1720,531Z" fill="#efa84b" stroke="#efa84b"/><path d="M1749,543L1760,536 1750,527 1740,533Z" fill="#ecab44" stroke="#ecab44"/><path d="M1770,545L1780,538 1770,529 1760,536Z" fill="#e9af3e" stroke="#e9af3e"/><path d="M1790,547L1800,541 1790,532 1780,538Z" fill="#e6b537" stroke="#e6b537"/><path d="M1810,550L1820,544 1810,535 1800,541Z" fill="#e3bd31" stroke="#e3bd31"/><path d="M1830,553L1840,547 1830,538 1820,544Z" fill="#e0c62c" stroke="#e0c62c"/><path d="M1850,556L1860,550 1850,541 1840,547Z" fill="#ddd126" stroke="#ddd126"/><path d="M1870,559L1879,553 1870,545 1860,550Z" fill="#d2d622" stroke="#d2d622"/><path d="M1889,562L1899,557 1889,548 1879,553Z" fill="#bacf1e" stroke="#bacf1e"/><path d="M1297,552L1307,539 1298,530 1288,542Z" fill="#d0f575" stroke="#d0f575"/><path d="M1316,549L1326,537 1317,527 1307,539Z" fill="#def576" stroke="#def576"/><path d="M1354,545L1365,533 1355,524 1345,535Z" fill="#f8f678" stroke="#f8f678"/><path d="M1394,542L1404,531 1395,521 1384,532Z" fill="#fee77a" stroke="#fee77a"/><path d="M1413,541L1424,530 1415,520 1404,531Z" fill="#fede7b" stroke="#fede7b"/><path d="M1453,539L1464,529 1455,519 1444,529Z" fill="#ffcf7d" stroke="#ffcf7d"/><path d="M1494,539L1505,529 1495,519 1484,529Z" fill="#fec27a" stroke="#fec27a"/><path d="M1555,539L1566,530 1556,520 1545,529Z" fill="#fbb072" stroke="#fbb072"/><path d="M1596,540L1607,532 1597,522 1586,531Z" fill="#faa96d" stroke="#faa96d"/><path d="M1657,543L1668,535 1658,526 1648,534Z" fill="#f9a566" stroke="#f9a566"/><path d="M1698,546L1709,539 1699,529 1688,537Z" fill="#f5a35a" stroke="#f5a35a"/><path d="M1739,550L1749,543 1740,533 1729,541Z" fill="#efa34b" stroke="#efa34b"/><path d="M1759,552L1770,545 1760,536 1749,543Z" fill="#eca644" stroke="#eca644"/><path d="M1800,557L1810,550 1800,541 1790,547Z" fill="#e6af37" stroke="#e6af37"/><path d="M1840,562L1850,556 1840,547 1830,553Z" fill="#e0c02c" stroke="#e0c02c"/><path d="M1860,565L1870,559 1860,550 1850,556Z" fill="#ddcb27" stroke="#ddcb27"/><path d="M1278,555L1288,542 1279,532 1269,545Z" fill="#c0f574" stroke="#c0f574"/><path d="M1335,547L1345,535 1336,525 1326,537Z" fill="#ebf577" stroke="#ebf577"/><path d="M1374,543L1384,532 1375,522 1365,533Z" fill="#fef179" stroke="#fef179"/><path d="M1433,540L1444,529 1435,520 1424,530Z" fill="#fed67c" stroke="#fed67c"/><path d="M1474,539L1484,529 1475,519 1464,529Z" fill="#fec97d" stroke="#fec97d"/><path d="M1514,539L1525,529 1515,519 1505,529Z" fill="#fdbb77" stroke="#fdbb77"/><path d="M1534,539L1545,529 1536,520 1525,529Z" fill="#fcb574" stroke="#fcb574"/><path d="M1575,540L1586,531 1577,521 1566,530Z" fill="#fbac6f" stroke="#fbac6f"/><path d="M1616,541L1627,533 1617,523 1607,532Z" fill="#faa76a" stroke="#faa76a"/><path d="M1637,542L1648,534 1638,524 1627,533Z" fill="#faa668" stroke="#faa668"/><path d="M1678,545L1688,537 1679,527 1668,535Z" fill="#f8a561" stroke="#f8a561"/><path d="M1719,548L1729,541 1720,531 1709,539Z" fill="#f2a252" stroke="#f2a252"/><path d="M1779,554L1790,547 1780,538 1770,545Z" fill="#e9aa3e" stroke="#e9aa3e"/><path d="M1820,559L1830,553 1820,544 1810,550Z" fill="#e3b731" stroke="#e3b731"/><path d="M1879,568L1889,562 1879,553 1870,559Z" fill="#d8d622" stroke="#d8d622"/><path d="M1287,564L1297,552 1288,542 1278,555Z" fill="#c5f575" stroke="#c5f575"/><path d="M1306,561L1316,549 1307,539 1297,552Z" fill="#d4f576" stroke="#d4f576"/><path d="M1325,559L1335,547 1326,537 1316,549Z" fill="#e2f577" stroke="#e2f577"/><path d="M1344,556L1354,545 1345,535 1335,547Z" fill="#eff678" stroke="#eff678"/><path d="M1364,555L1374,543 1365,533 1354,545Z" fill="#fbf679" stroke="#fbf679"/><path d="M1383,553L1394,542 1384,532 1374,543Z" fill="#feed7a" stroke="#feed7a"/><path d="M1403,552L1413,541 1404,531 1394,542Z" fill="#fee47b" stroke="#fee47b"/><path d="M1423,551L1433,540 1424,530 1413,541Z" fill="#fedb7c" stroke="#fedb7c"/><path d="M1443,550L1453,539 1444,529 1433,540Z" fill="#ffd37d" stroke="#ffd37d"/><path d="M1463,549L1474,539 1464,529 1453,539Z" fill="#ffcd7e" stroke="#ffcd7e"/><path d="M1483,549L1494,539 1484,529 1474,539Z" fill="#ffc57d" stroke="#ffc57d"/><path d="M1503,548L1514,539 1505,529 1494,539Z" fill="#febe7a" stroke="#febe7a"/><path d="M1524,548L1534,539 1525,529 1514,539Z" fill="#fdb778" stroke="#fdb778"/><path d="M1544,549L1555,539 1545,529 1534,539Z" fill="#fcb275" stroke="#fcb275"/><path d="M1564,549L1575,540 1566,530 1555,539Z" fill="#fbad72" stroke="#fbad72"/><path d="M1585,549L1596,540 1586,531 1575,540Z" fill="#fba870" stroke="#fba870"/><path d="M1605,550L1616,541 1607,532 1596,540Z" fill="#fba56d" stroke="#fba56d"/><path d="M1626,551L1637,542 1627,533 1616,541Z" fill="#faa36b" stroke="#faa36b"/><path d="M1646,552L1657,543 1648,534 1637,542Z" fill="#faa269" stroke="#faa269"/><path d="M1667,553L1678,545 1668,535 1657,543Z" fill="#faa266" stroke="#faa266"/><path d="M1687,554L1698,546 1688,537 1678,545Z" fill="#f8a061" stroke="#f8a061"/><path d="M1708,556L1719,548 1709,539 1698,546Z" fill="#f59e5a" stroke="#f59e5a"/><path d="M1728,557L1739,550 1729,541 1719,548Z" fill="#f29d52" stroke="#f29d52"/><path d="M1749,559L1759,552 1749,543 1739,550Z" fill="#ef9e4b" stroke="#ef9e4b"/><path d="M1769,561L1779,554 1770,545 1759,552Z" fill="#eca044" stroke="#eca044"/><path d="M1789,564L1800,557 1790,547 1779,554Z" fill="#e9a43e" stroke="#e9a43e"/><path d="M1809,566L1820,559 1810,550 1800,557Z" fill="#e6aa38" stroke="#e6aa38"/><path d="M1829,568L1840,562 1830,553 1820,559Z" fill="#e3b132" stroke="#e3b132"/><path d="M1849,571L1860,565 1850,556 1840,562Z" fill="#e0ba2c" stroke="#e0ba2c"/><path d="M1869,574L1879,568 1870,559 1860,565Z" fill="#ddc527" stroke="#ddc527"/><path d="M1296,574L1306,561 1297,552 1287,564Z" fill="#c9f576" stroke="#c9f576"/><path d="M1315,571L1325,559 1316,549 1306,561Z" fill="#d8f577" stroke="#d8f577"/><path d="M1334,568L1344,556 1335,547 1325,559Z" fill="#e6f678" stroke="#e6f678"/><path d="M1373,564L1383,553 1374,543 1364,555Z" fill="#fef57a" stroke="#fef57a"/><path d="M1392,563L1403,552 1394,542 1383,553Z" fill="#feea7b" stroke="#feea7b"/><path d="M1412,562L1423,551 1413,541 1403,552Z" fill="#fee17c" stroke="#fee17c"/><path d="M1432,560L1443,550 1433,540 1423,551Z" fill="#ffd87d" stroke="#ffd87d"/><path d="M1472,559L1483,549 1474,539 1463,549Z" fill="#ffc97f" stroke="#ffc97f"/><path d="M1513,558L1524,548 1514,539 1503,548Z" fill="#febb7b" stroke="#febb7b"/><path d="M1533,558L1544,549 1534,539 1524,548Z" fill="#fdb478" stroke="#fdb478"/><path d="M1574,559L1585,549 1575,540 1564,549Z" fill="#fca973" stroke="#fca973"/><path d="M1615,560L1626,551 1616,541 1605,550Z" fill="#fba16e" stroke="#fba16e"/><path d="M1636,560L1646,552 1637,542 1626,551Z" fill="#fb9f6b" stroke="#fb9f6b"/><path d="M1677,562L1687,554 1678,545 1667,553Z" fill="#fa9d66" stroke="#fa9d66"/><path d="M1718,565L1728,557 1719,548 1708,556Z" fill="#f59959" stroke="#f59959"/><path d="M1738,567L1749,559 1739,550 1728,557Z" fill="#f29852" stroke="#f29852"/><path d="M1758,569L1769,561 1759,552 1749,559Z" fill="#ef994b" stroke="#ef994b"/><path d="M1779,571L1789,564 1779,554 1769,561Z" fill="#ec9b44" stroke="#ec9b44"/><path d="M1819,575L1829,568 1820,559 1809,566Z" fill="#e6a438" stroke="#e6a438"/><path d="M1839,578L1849,571 1840,562 1829,568Z" fill="#e3ab32" stroke="#e3ab32"/><path d="M1859,580L1869,574 1860,565 1849,571Z" fill="#e0b42c" stroke="#e0b42c"/><path d="M1353,566L1364,555 1354,545 1344,556Z" fill="#f3f679" stroke="#f3f679"/><path d="M1452,560L1463,549 1453,539 1443,550Z" fill="#ffd07e" stroke="#ffd07e"/><path d="M1492,559L1503,548 1494,539 1483,549Z" fill="#ffc27e" stroke="#ffc27e"/><path d="M1554,558L1564,549 1555,539 1544,549Z" fill="#fcae75" stroke="#fcae75"/><path d="M1594,559L1605,550 1596,540 1585,549Z" fill="#fba570" stroke="#fba570"/><path d="M1656,561L1667,553 1657,543 1646,552Z" fill="#fa9e69" stroke="#fa9e69"/><path d="M1697,564L1708,556 1698,546 1687,554Z" fill="#f89b61" stroke="#f89b61"/><path d="M1799,573L1809,566 1800,557 1789,564Z" fill="#e99f3e" stroke="#e99f3e"/><path d="M1305,583L1315,571 1306,561 1296,574Z" fill="#cdf577" stroke="#cdf577"/><path d="M1324,581L1334,568 1325,559 1315,571Z" fill="#dcf678" stroke="#dcf678"/><path d="M1343,578L1353,566 1344,556 1334,568Z" fill="#eaf679" stroke="#eaf679"/><path d="M1363,576L1373,564 1364,555 1353,566Z" fill="#f7f67a" stroke="#f7f67a"/><path d="M1382,574L1392,563 1383,553 1373,564Z" fill="#fef27b" stroke="#fef27b"/><path d="M1402,573L1412,562 1403,552 1392,563Z" fill="#fee77c" stroke="#fee77c"/><path d="M1422,571L1432,560 1423,551 1412,562Z" fill="#ffde7d" stroke="#ffde7d"/><path d="M1442,570L1452,560 1443,550 1432,560Z" fill="#ffd57e" stroke="#ffd57e"/><path d="M1462,570L1472,559 1463,549 1452,560Z" fill="#ffcd7f" stroke="#ffcd7f"/><path d="M1482,569L1492,559 1483,549 1472,559Z" fill="#ffc67f" stroke="#ffc67f"/><path d="M1502,568L1513,558 1503,548 1492,559Z" fill="#ffbf7e" stroke="#ffbf7e"/><path d="M1522,568L1533,558 1524,548 1513,558Z" fill="#feb77b" stroke="#feb77b"/><path d="M1543,568L1554,558 1544,549 1533,558Z" fill="#fdb178" stroke="#fdb178"/><path d="M1563,568L1574,559 1564,549 1554,558Z" fill="#fcab76" stroke="#fcab76"/><path d="M1584,568L1594,559 1585,549 1574,559Z" fill="#fca573" stroke="#fca573"/><path d="M1604,569L1615,560 1605,550 1594,559Z" fill="#fba171" stroke="#fba171"/><path d="M1625,569L1636,560 1626,551 1615,560Z" fill="#fb9e6e" stroke="#fb9e6e"/><path d="M1645,570L1656,561 1646,552 1636,560Z" fill="#fb9c6c" stroke="#fb9c6c"/><path d="M1666,571L1677,562 1667,553 1656,561Z" fill="#fb9a69" stroke="#fb9a69"/><path d="M1686,572L1697,564 1687,554 1677,562Z" fill="#fa9966" stroke="#fa9966"/><path d="M1707,573L1718,565 1708,556 1697,564Z" fill="#f89760" stroke="#f89760"/><path d="M1727,575L1738,567 1728,557 1718,565Z" fill="#f59459" stroke="#f59459"/><path d="M1748,576L1758,569 1749,559 1738,567Z" fill="#f29352" stroke="#f29352"/><path d="M1768,578L1779,571 1769,561 1758,569Z" fill="#ef934b" stroke="#ef934b"/><path d="M1788,580L1799,573 1789,564 1779,571Z" fill="#ec9544" stroke="#ec9544"/><path d="M1809,582L1819,575 1809,566 1799,573Z" fill="#e9993e" stroke="#e9993e"/><path d="M1829,584L1839,578 1829,568 1819,575Z" fill="#e69e38" stroke="#e69e38"/><path d="M1849,587L1859,580 1849,571 1839,578Z" fill="#e3a632" stroke="#e3a632"/><path d="M1314,593L1324,581 1315,571 1305,583Z" fill="#d0f678" stroke="#d0f678"/><path d="M1333,590L1343,578 1334,568 1324,581Z" fill="#dff679" stroke="#dff679"/><path d="M1352,588L1363,576 1353,566 1343,578Z" fill="#edf67a" stroke="#edf67a"/><path d="M1372,586L1382,574 1373,564 1363,576Z" fill="#faf67b" stroke="#faf67b"/><path d="M1391,584L1402,573 1392,563 1382,574Z" fill="#feef7c" stroke="#feef7c"/><path d="M1411,583L1422,571 1412,562 1402,573Z" fill="#ffe47d" stroke="#ffe47d"/><path d="M1431,581L1442,570 1432,560 1422,571Z" fill="#ffdb7e" stroke="#ffdb7e"/><path d="M1451,580L1462,570 1452,560 1442,570Z" fill="#ffd27f" stroke="#ffd27f"/><path d="M1471,579L1482,569 1472,559 1462,570Z" fill="#ffca7f" stroke="#ffca7f"/><path d="M1491,579L1502,568 1492,559 1482,569Z" fill="#ffc380" stroke="#ffc380"/><path d="M1511,578L1522,568 1513,558 1502,568Z" fill="#ffbb7e" stroke="#ffbb7e"/><path d="M1532,578L1543,568 1533,558 1522,568Z" fill="#feb47b" stroke="#feb47b"/><path d="M1552,578L1563,568 1554,558 1543,568Z" fill="#fdad79" stroke="#fdad79"/><path d="M1573,578L1584,568 1574,559 1563,568Z" fill="#fda776" stroke="#fda776"/><path d="M1593,578L1604,569 1594,559 1584,568Z" fill="#fca273" stroke="#fca273"/><path d="M1614,578L1625,569 1615,560 1604,569Z" fill="#fc9e71" stroke="#fc9e71"/><path d="M1634,579L1645,570 1636,560 1625,569Z" fill="#fc9a6f" stroke="#fc9a6f"/><path d="M1655,580L1666,571 1656,561 1645,570Z" fill="#fb976c" stroke="#fb976c"/><path d="M1675,581L1686,572 1677,562 1666,571Z" fill="#fb9569" stroke="#fb9569"/><path d="M1696,582L1707,573 1697,564 1686,572Z" fill="#fa9466" stroke="#fa9466"/><path d="M1717,583L1727,575 1718,565 1707,573Z" fill="#f89260" stroke="#f89260"/><path d="M1737,584L1748,576 1738,567 1727,575Z" fill="#f58f59" stroke="#f58f59"/><path d="M1758,586L1768,578 1758,569 1748,576Z" fill="#f28e51" stroke="#f28e51"/><path d="M1778,588L1788,580 1779,571 1768,578Z" fill="#ef8e4b" stroke="#ef8e4b"/><path d="M1798,589L1809,582 1799,573 1788,580Z" fill="#ec9044" stroke="#ec9044"/><path d="M1819,591L1829,584 1819,575 1809,582Z" fill="#e9943e" stroke="#e9943e"/><path d="M1839,594L1849,587 1839,578 1829,584Z" fill="#e69938" stroke="#e69938"/><path d="M1342,600L1352,588 1343,578 1333,590Z" fill="#e3f67a" stroke="#e3f67a"/><path d="M1362,598L1372,586 1363,576 1352,588Z" fill="#f1f67b" stroke="#f1f67b"/><path d="M1401,594L1411,583 1402,573 1391,584Z" fill="#ffec7d" stroke="#ffec7d"/><path d="M1440,591L1451,580 1442,570 1431,581Z" fill="#ffd87f" stroke="#ffd87f"/><path d="M1501,589L1511,578 1502,568 1491,579Z" fill="#ffc080" stroke="#ffc080"/><path d="M1541,588L1552,578 1543,568 1532,578Z" fill="#feb17c" stroke="#feb17c"/><path d="M1603,588L1614,578 1604,569 1593,578Z" fill="#fc9f74" stroke="#fc9f74"/><path d="M1644,589L1655,580 1645,570 1634,579Z" fill="#fc966f" stroke="#fc966f"/><path d="M1706,591L1717,583 1707,573 1696,582Z" fill="#fa8f65" stroke="#fa8f65"/><path d="M1747,594L1758,586 1748,576 1737,584Z" fill="#f58a58" stroke="#f58a58"/><path d="M1788,597L1798,589 1788,580 1778,588Z" fill="#ef894a" stroke="#ef894a"/><path d="M1808,599L1819,591 1809,582 1798,589Z" fill="#ec8b44" stroke="#ec8b44"/><path d="M1323,603L1333,590 1324,581 1314,593Z" fill="#d4f679" stroke="#d4f679"/><path d="M1381,596L1391,584 1382,574 1372,586Z" fill="#fef67c" stroke="#fef67c"/><path d="M1420,593L1431,581 1422,571 1411,583Z" fill="#ffe17e" stroke="#ffe17e"/><path d="M1460,590L1471,579 1462,570 1451,580Z" fill="#ffcf7f" stroke="#ffcf7f"/><path d="M1480,589L1491,579 1482,569 1471,579Z" fill="#ffc780" stroke="#ffc780"/><path d="M1521,588L1532,578 1522,568 1511,578Z" fill="#ffb87e" stroke="#ffb87e"/><path d="M1562,588L1573,578 1563,568 1552,578Z" fill="#fdaa79" stroke="#fdaa79"/><path d="M1582,588L1593,578 1584,568 1573,578Z" fill="#fda476" stroke="#fda476"/><path d="M1623,588L1634,579 1625,569 1614,578Z" fill="#fc9a72" stroke="#fc9a72"/><path d="M1665,589L1675,581 1666,571 1655,580Z" fill="#fb936c" stroke="#fb936c"/><path d="M1685,590L1696,582 1686,572 1675,581Z" fill="#fb9168" stroke="#fb9168"/><path d="M1726,592L1737,584 1727,575 1717,583Z" fill="#f88d60" stroke="#f88d60"/><path d="M1767,595L1778,588 1768,578 1758,586Z" fill="#f28951" stroke="#f28951"/><path d="M1828,601L1839,594 1829,584 1819,591Z" fill="#e98e3e" stroke="#e98e3e"/><path d="M1332,613L1342,600 1333,590 1323,603Z" fill="#d8f67a" stroke="#d8f67a"/><path d="M1351,610L1362,598 1352,588 1342,600Z" fill="#e7f67b" stroke="#e7f67b"/><path d="M1371,608L1381,596 1372,586 1362,598Z" fill="#f5f67c" stroke="#f5f67c"/><path d="M1390,606L1401,594 1391,584 1381,596Z" fill="#fff47d" stroke="#fff47d"/><path d="M1410,604L1420,593 1411,583 1401,594Z" fill="#ffe97e" stroke="#ffe97e"/><path d="M1430,603L1440,591 1431,581 1420,593Z" fill="#ffde7f" stroke="#ffde7f"/><path d="M1450,601L1460,590 1451,580 1440,591Z" fill="#ffd47f" stroke="#ffd47f"/><path d="M1470,600L1480,589 1471,579 1460,590Z" fill="#ffcc80" stroke="#ffcc80"/><path d="M1490,599L1501,589 1491,579 1480,589Z" fill="#ffc480" stroke="#ffc480"/><path d="M1510,599L1521,588 1511,578 1501,589Z" fill="#ffbc80" stroke="#ffbc80"/><path d="M1531,598L1541,588 1532,578 1521,588Z" fill="#ffb57f" stroke="#ffb57f"/><path d="M1551,598L1562,588 1552,578 1541,588Z" fill="#fead7c" stroke="#fead7c"/><path d="M1571,598L1582,588 1573,578 1562,588Z" fill="#fda679" stroke="#fda679"/><path d="M1592,598L1603,588 1593,578 1582,588Z" fill="#fda077" stroke="#fda077"/><path d="M1612,598L1623,588 1614,578 1603,588Z" fill="#fd9b74" stroke="#fd9b74"/><path d="M1633,598L1644,589 1634,579 1623,588Z" fill="#fc9672" stroke="#fc9672"/><path d="M1654,598L1665,589 1655,580 1644,589Z" fill="#fc926e" stroke="#fc926e"/><path d="M1674,599L1685,590 1675,581 1665,589Z" fill="#fb8f6b" stroke="#fb8f6b"/><path d="M1695,600L1706,591 1696,582 1685,590Z" fill="#fb8c68" stroke="#fb8c68"/><path d="M1715,601L1726,592 1717,583 1706,591Z" fill="#fa8b65" stroke="#fa8b65"/><path d="M1736,602L1747,594 1737,584 1726,592Z" fill="#f8885f" stroke="#f8885f"/><path d="M1757,603L1767,595 1758,586 1747,594Z" fill="#f58558" stroke="#f58558"/><path d="M1777,605L1788,597 1778,588 1767,595Z" fill="#f28451" stroke="#f28451"/><path d="M1798,606L1808,599 1798,589 1788,597Z" fill="#ef844a" stroke="#ef844a"/><path d="M1818,608L1828,601 1819,591 1808,599Z" fill="#ec8544" stroke="#ec8544"/><path d="M1341,622L1351,610 1342,600 1332,613Z" fill="#dcf67b" stroke="#dcf67b"/><path d="M1361,620L1371,608 1362,598 1351,610Z" fill="#eaf67c" stroke="#eaf67c"/><path d="M1380,618L1390,606 1381,596 1371,608Z" fill="#f8f77d" stroke="#f8f77d"/><path d="M1419,614L1430,603 1420,593 1410,604Z" fill="#ffe67f" stroke="#ffe67f"/><path d="M1459,611L1470,600 1460,590 1450,601Z" fill="#ffd180" stroke="#ffd180"/><path d="M1479,610L1490,599 1480,589 1470,600Z" fill="#ffc880" stroke="#ffc880"/><path d="M1520,609L1531,598 1521,588 1510,599Z" fill="#ffb980" stroke="#ffb980"/><path d="M1560,608L1571,598 1562,588 1551,598Z" fill="#feaa7c" stroke="#feaa7c"/><path d="M1581,607L1592,598 1582,588 1571,598Z" fill="#fea37a" stroke="#fea37a"/><path d="M1622,608L1633,598 1623,588 1612,598Z" fill="#fd9774" stroke="#fd9774"/><path d="M1663,608L1674,599 1665,589 1654,598Z" fill="#fc8e6e" stroke="#fc8e6e"/><path d="M1684,609L1695,600 1685,590 1674,599Z" fill="#fb8a6b" stroke="#fb8a6b"/><path d="M1725,611L1736,602 1726,592 1715,601Z" fill="#fa8664" stroke="#fa8664"/><path d="M1766,613L1777,605 1767,595 1757,603Z" fill="#f58058" stroke="#f58058"/><path d="M1787,614L1798,606 1788,597 1777,605Z" fill="#f27f51" stroke="#f27f51"/><path d="M1807,616L1818,608 1808,599 1798,606Z" fill="#ef7f4a" stroke="#ef7f4a"/><path d="M1400,616L1410,604 1401,594 1390,606Z" fill="#fff17e" stroke="#fff17e"/><path d="M1439,613L1450,601 1440,591 1430,603Z" fill="#ffdb7f" stroke="#ffdb7f"/><path d="M1499,609L1510,599 1501,589 1490,599Z" fill="#ffc080" stroke="#ffc080"/><path d="M1540,608L1551,598 1541,588 1531,598Z" fill="#ffb27f" stroke="#ffb27f"/><path d="M1602,607L1612,598 1603,588 1592,598Z" fill="#fd9d77" stroke="#fd9d77"/><path d="M1643,608L1654,598 1644,589 1633,598Z" fill="#fc9271" stroke="#fc9271"/><path d="M1705,610L1715,601 1706,591 1695,600Z" fill="#fb8868" stroke="#fb8868"/><path d="M1746,612L1757,603 1747,594 1736,602Z" fill="#f8835f" stroke="#f8835f"/><path d="M1350,632L1361,620 1351,610 1341,622Z" fill="#dff67c" stroke="#dff67c"/><path d="M1370,630L1380,618 1371,608 1361,620Z" fill="#eef77d" stroke="#eef77d"/><path d="M1389,628L1400,616 1390,606 1380,618Z" fill="#fbf77e" stroke="#fbf77e"/><path d="M1409,626L1419,614 1410,604 1400,616Z" fill="#ffee7f" stroke="#ffee7f"/><path d="M1429,624L1439,613 1430,603 1419,614Z" fill="#ffe27f" stroke="#ffe27f"/><path d="M1448,623L1459,611 1450,601 1439,613Z" fill="#ffd880" stroke="#ffd880"/><path d="M1469,621L1479,610 1470,600 1459,611Z" fill="#ffce80" stroke="#ffce80"/><path d="M1489,620L1499,609 1490,599 1479,610Z" fill="#ffc580" stroke="#ffc580"/><path d="M1509,619L1520,609 1510,599 1499,609Z" fill="#ffbd80" stroke="#ffbd80"/><path d="M1529,619L1540,608 1531,598 1520,609Z" fill="#ffb681" stroke="#ffb681"/><path d="M1550,618L1560,608 1551,598 1540,608Z" fill="#ffaf7f" stroke="#ffaf7f"/><path d="M1570,618L1581,607 1571,598 1560,608Z" fill="#fea77d" stroke="#fea77d"/><path d="M1591,617L1602,607 1592,598 1581,607Z" fill="#fea07a" stroke="#fea07a"/><path d="M1611,617L1622,608 1612,598 1602,607Z" fill="#fd9977" stroke="#fd9977"/><path d="M1632,617L1643,608 1633,598 1622,608Z" fill="#fd9374" stroke="#fd9374"/><path d="M1652,618L1663,608 1654,598 1643,608Z" fill="#fc8e71" stroke="#fc8e71"/><path d="M1673,618L1684,609 1674,599 1663,608Z" fill="#fc8a6e" stroke="#fc8a6e"/><path d="M1694,619L1705,610 1695,600 1684,609Z" fill="#fb866a" stroke="#fb866a"/><path d="M1714,619L1725,611 1715,601 1705,610Z" fill="#fb8367" stroke="#fb8367"/><path d="M1735,620L1746,612 1736,602 1725,611Z" fill="#fa8164" stroke="#fa8164"/><path d="M1756,621L1766,613 1757,603 1746,612Z" fill="#f87e5e" stroke="#f87e5e"/><path d="M1776,623L1787,614 1777,605 1766,613Z" fill="#f57b57" stroke="#f57b57"/><path d="M1797,624L1807,616 1798,606 1787,614Z" fill="#f27950" stroke="#f27950"/><path d="M1360,642L1370,630 1361,620 1350,632Z" fill="#e3f77d" stroke="#e3f77d"/><path d="M1379,640L1389,628 1380,618 1370,630Z" fill="#f1f77e" stroke="#f1f77e"/><path d="M1398,638L1409,626 1400,616 1389,628Z" fill="#fff77f" stroke="#fff77f"/><path d="M1418,636L1429,624 1419,614 1409,626Z" fill="#ffeb7f" stroke="#ffeb7f"/><path d="M1438,634L1448,623 1439,613 1429,624Z" fill="#ffdf80" stroke="#ffdf80"/><path d="M1458,633L1469,621 1459,611 1448,623Z" fill="#ffd580" stroke="#ffd580"/><path d="M1478,631L1489,620 1479,610 1469,621Z" fill="#ffcb80" stroke="#ffcb80"/><path d="M1498,630L1509,619 1499,609 1489,620Z" fill="#ffc281" stroke="#ffc281"/><path d="M1518,629L1529,619 1520,609 1509,619Z" fill="#ffba81" stroke="#ffba81"/><path d="M1539,629L1550,618 1540,608 1529,619Z" fill="#ffb381" stroke="#ffb381"/><path d="M1559,628L1570,618 1560,608 1550,618Z" fill="#ffab7f" stroke="#ffab7f"/><path d="M1580,628L1591,617 1581,607 1570,618Z" fill="#fea47d" stroke="#fea47d"/><path d="M1600,627L1611,617 1602,607 1591,617Z" fill="#fe9d7a" stroke="#fe9d7a"/><path d="M1621,627L1632,617 1622,608 1611,617Z" fill="#fd9677" stroke="#fd9677"/><path d="M1641,627L1652,618 1643,608 1632,617Z" fill="#fd8f74" stroke="#fd8f74"/><path d="M1662,627L1673,618 1663,608 1652,618Z" fill="#fc8a71" stroke="#fc8a71"/><path d="M1683,628L1694,619 1684,609 1673,618Z" fill="#fc856d" stroke="#fc856d"/><path d="M1703,628L1714,619 1705,610 1694,619Z" fill="#fb816a" stroke="#fb816a"/><path d="M1724,629L1735,620 1725,611 1714,619Z" fill="#fb7e67" stroke="#fb7e67"/><path d="M1745,630L1756,621 1746,612 1735,620Z" fill="#fa7c63" stroke="#fa7c63"/><path d="M1765,631L1776,623 1766,613 1756,621Z" fill="#f87a5e" stroke="#f87a5e"/><path d="M1786,632L1797,624 1787,614 1776,623Z" fill="#f57657" stroke="#f57657"/><path d="M1388,650L1398,638 1389,628 1379,640Z" fill="#f5f77f" stroke="#f5f77f"/><path d="M1447,644L1458,633 1448,623 1438,634Z" fill="#ffdc80" stroke="#ffdc80"/><path d="M1487,642L1498,630 1489,620 1478,631Z" fill="#ffc881" stroke="#ffc881"/><path d="M1548,639L1559,628 1550,618 1539,629Z" fill="#ffb081" stroke="#ffb081"/><path d="M1589,638L1600,627 1591,617 1580,628Z" fill="#fea07d" stroke="#fea07d"/><path d="M1651,637L1662,627 1652,618 1641,627Z" fill="#fd8b73" stroke="#fd8b73"/><path d="M1692,638L1703,628 1694,619 1683,628Z" fill="#fc816d" stroke="#fc816d"/><path d="M1755,640L1765,631 1756,621 1745,630Z" fill="#fa7863" stroke="#fa7863"/><path d="M1369,652L1379,640 1370,630 1360,642Z" fill="#e6f77e" stroke="#e6f77e"/><path d="M1408,648L1418,636 1409,626 1398,638Z" fill="#fff480" stroke="#fff480"/><path d="M1427,646L1438,634 1429,624 1418,636Z" fill="#ffe880" stroke="#ffe880"/><path d="M1467,643L1478,631 1469,621 1458,633Z" fill="#ffd280" stroke="#ffd280"/><path d="M1508,640L1518,629 1509,619 1498,630Z" fill="#ffbf81" stroke="#ffbf81"/><path d="M1528,639L1539,629 1529,619 1518,629Z" fill="#ffb781" stroke="#ffb781"/><path d="M1569,638L1580,628 1570,618 1559,628Z" fill="#ffa880" stroke="#ffa880"/><path d="M1610,637L1621,627 1611,617 1600,627Z" fill="#fe997a" stroke="#fe997a"/><path d="M1630,637L1641,627 1632,617 1621,627Z" fill="#fd9277" stroke="#fd9277"/><path d="M1672,637L1683,628 1673,618 1662,627Z" fill="#fc8670" stroke="#fc8670"/><path d="M1713,638L1724,629 1714,619 1703,628Z" fill="#fb7d6a" stroke="#fb7d6a"/><path d="M1734,639L1745,630 1735,620 1724,629Z" fill="#fb7a66" stroke="#fb7a66"/><path d="M1775,641L1786,632 1776,623 1765,631Z" fill="#f8755e" stroke="#f8755e"/><path d="M1378,662L1388,650 1379,640 1369,652Z" fill="#eaf77f" stroke="#eaf77f"/><path d="M1397,660L1408,648 1398,638 1388,650Z" fill="#f8f780" stroke="#f8f780"/><path d="M1417,658L1427,646 1418,636 1408,648Z" fill="#fff180" stroke="#fff180"/><path d="M1437,656L1447,644 1438,634 1427,646Z" fill="#ffe580" stroke="#ffe580"/><path d="M1457,654L1467,643 1458,633 1447,644Z" fill="#ffd981" stroke="#ffd981"/><path d="M1477,653L1487,642 1478,631 1467,643Z" fill="#ffcf81" stroke="#ffcf81"/><path d="M1497,652L1508,640 1498,630 1487,642Z" fill="#ffc581" stroke="#ffc581"/><path d="M1517,651L1528,639 1518,629 1508,640Z" fill="#ffbc81" stroke="#ffbc81"/><path d="M1537,650L1548,639 1539,629 1528,639Z" fill="#ffb481" stroke="#ffb481"/><path d="M1558,649L1569,638 1559,628 1548,639Z" fill="#ffad81" stroke="#ffad81"/><path d="M1578,648L1589,638 1580,628 1569,638Z" fill="#ffa580" stroke="#ffa580"/><path d="M1599,648L1610,637 1600,627 1589,638Z" fill="#fe9d7d" stroke="#fe9d7d"/><path d="M1619,647L1630,637 1621,627 1610,637Z" fill="#fe9579" stroke="#fe9579"/><path d="M1640,647L1651,637 1641,627 1630,637Z" fill="#fd8e76" stroke="#fd8e76"/><path d="M1661,647L1672,637 1662,627 1651,637Z" fill="#fd8773" stroke="#fd8773"/><path d="M1682,647L1692,638 1683,628 1672,637Z" fill="#fc8270" stroke="#fc8270"/><path d="M1702,647L1713,638 1703,628 1692,638Z" fill="#fc7d6c" stroke="#fc7d6c"/><path d="M1723,648L1734,639 1724,629 1713,638Z" fill="#fb7969" stroke="#fb7969"/><path d="M1744,649L1755,640 1745,630 1734,639Z" fill="#fb7566" stroke="#fb7566"/><path d="M1764,649L1775,641 1765,631 1755,640Z" fill="#fa7362" stroke="#fa7362"/><path d="M1407,670L1417,658 1408,648 1397,660Z" fill="#fbf780" stroke="#fbf780"/><path d="M1426,668L1437,656 1427,646 1417,658Z" fill="#ffee80" stroke="#ffee80"/><path d="M1466,665L1477,653 1467,643 1457,654Z" fill="#ffd681" stroke="#ffd681"/><path d="M1506,662L1517,651 1508,640 1497,652Z" fill="#ffc281" stroke="#ffc281"/><path d="M1527,661L1537,650 1528,639 1517,651Z" fill="#ffb981" stroke="#ffb981"/><path d="M1567,659L1578,648 1569,638 1558,649Z" fill="#ffaa81" stroke="#ffaa81"/><path d="M1608,658L1619,647 1610,637 1599,648Z" fill="#fe997c" stroke="#fe997c"/><path d="M1629,657L1640,647 1630,637 1619,647Z" fill="#fe9179" stroke="#fe9179"/><path d="M1671,657L1682,647 1672,637 1661,647Z" fill="#fd8473" stroke="#fd8473"/><path d="M1712,657L1723,648 1713,638 1702,647Z" fill="#fc786c" stroke="#fc786c"/><path d="M1733,658L1744,649 1734,639 1723,648Z" fill="#fb7469" stroke="#fb7469"/><path d="M1387,672L1397,660 1388,650 1378,662Z" fill="#edf780" stroke="#edf780"/><path d="M1446,666L1457,654 1447,644 1437,656Z" fill="#ffe281" stroke="#ffe281"/><path d="M1486,663L1497,652 1487,642 1477,653Z" fill="#ffcc81" stroke="#ffcc81"/><path d="M1547,660L1558,649 1548,639 1537,650Z" fill="#ffb181" stroke="#ffb181"/><path d="M1588,658L1599,648 1589,638 1578,648Z" fill="#ffa27f" stroke="#ffa27f"/><path d="M1650,657L1661,647 1651,637 1640,647Z" fill="#fd8a76" stroke="#fd8a76"/><path d="M1691,657L1702,647 1692,638 1682,647Z" fill="#fc7e6f" stroke="#fc7e6f"/><path d="M1753,658L1764,649 1755,640 1744,649Z" fill="#fb7165" stroke="#fb7165"/><path d="M1396,683L1407,670 1397,660 1387,672Z" fill="#f0f780" stroke="#f0f780"/><path d="M1416,680L1426,668 1417,658 1407,670Z" fill="#fef780" stroke="#fef780"/><path d="M1436,678L1446,666 1437,656 1426,668Z" fill="#ffeb81" stroke="#ffeb81"/><path d="M1456,677L1466,665 1457,654 1446,666Z" fill="#ffdf81" stroke="#ffdf81"/><path d="M1475,675L1486,663 1477,653 1466,665Z" fill="#ffd481" stroke="#ffd481"/><path d="M1496,673L1506,662 1497,652 1486,663Z" fill="#ffc981" stroke="#ffc981"/><path d="M1516,672L1527,661 1517,651 1506,662Z" fill="#ffbf82" stroke="#ffbf82"/><path d="M1536,671L1547,660 1537,650 1527,661Z" fill="#ffb682" stroke="#ffb682"/><path d="M1556,670L1567,659 1558,649 1547,660Z" fill="#ffae82" stroke="#ffae82"/><path d="M1577,669L1588,658 1578,648 1567,659Z" fill="#ffa681" stroke="#ffa681"/><path d="M1598,668L1608,658 1599,648 1588,658Z" fill="#ff9e7f" stroke="#ff9e7f"/><path d="M1618,668L1629,657 1619,647 1608,658Z" fill="#fe967c" stroke="#fe967c"/><path d="M1639,667L1650,657 1640,647 1629,657Z" fill="#fe8e79" stroke="#fe8e79"/><path d="M1660,667L1671,657 1661,647 1650,657Z" fill="#fd8676" stroke="#fd8676"/><path d="M1680,667L1691,657 1682,647 1671,657Z" fill="#fd8072" stroke="#fd8072"/><path d="M1701,667L1712,657 1702,647 1691,657Z" fill="#fc796f" stroke="#fc796f"/><path d="M1722,667L1733,658 1723,648 1712,657Z" fill="#fc746c" stroke="#fc746c"/><path d="M1743,668L1753,658 1744,649 1733,658Z" fill="#fb7068" stroke="#fb7068"/><path d="M1406,693L1416,680 1407,670 1396,683Z" fill="#f2f781" stroke="#f2f781"/><path d="M1425,691L1436,678 1426,668 1416,680Z" fill="#fff581" stroke="#fff581"/><path d="M1445,689L1456,677 1446,666 1436,678Z" fill="#ffe881" stroke="#ffe881"/><path d="M1465,687L1475,675 1466,665 1456,677Z" fill="#ffdc81" stroke="#ffdc81"/><path d="M1485,685L1496,673 1486,663 1475,675Z" fill="#ffd182" stroke="#ffd182"/><path d="M1505,683L1516,672 1506,662 1496,673Z" fill="#ffc682" stroke="#ffc682"/><path d="M1525,682L1536,671 1527,661 1516,672Z" fill="#ffbc82" stroke="#ffbc82"/><path d="M1546,681L1556,670 1547,660 1536,671Z" fill="#ffb382" stroke="#ffb382"/><path d="M1566,680L1577,669 1567,659 1556,670Z" fill="#ffab81" stroke="#ffab81"/><path d="M1587,679L1598,668 1588,658 1577,669Z" fill="#ffa381" stroke="#ffa381"/><path d="M1607,678L1618,668 1608,658 1598,668Z" fill="#ff9b7f" stroke="#ff9b7f"/><path d="M1628,678L1639,667 1629,657 1618,668Z" fill="#fe927c" stroke="#fe927c"/><path d="M1648,677L1660,667 1650,657 1639,667Z" fill="#fe8a79" stroke="#fe8a79"/><path d="M1669,677L1680,667 1671,657 1660,667Z" fill="#fd8275" stroke="#fd8275"/><path d="M1690,677L1701,667 1691,657 1680,667Z" fill="#fd7c72" stroke="#fd7c72"/><path d="M1711,677L1722,667 1712,657 1701,667Z" fill="#fc756f" stroke="#fc756f"/><path d="M1732,677L1743,668 1733,658 1722,667Z" fill="#fc706b" stroke="#fc706b"/><path d="M1435,701L1445,689 1436,678 1425,691Z" fill="#fff381" stroke="#fff381"/><path d="M1494,695L1505,683 1496,673 1485,685Z" fill="#ffce82" stroke="#ffce82"/><path d="M1535,692L1546,681 1536,671 1525,682Z" fill="#ffba82" stroke="#ffba82"/><path d="M1596,689L1607,678 1598,668 1587,679Z" fill="#ffa081" stroke="#ffa081"/><path d="M1637,688L1648,677 1639,667 1628,678Z" fill="#fe8f7c" stroke="#fe8f7c"/><path d="M1700,687L1711,677 1701,667 1690,677Z" fill="#fd7872" stroke="#fd7872"/><path d="M1415,703L1425,691 1416,680 1406,693Z" fill="#f5f781" stroke="#f5f781"/><path d="M1454,699L1465,687 1456,677 1445,689Z" fill="#ffe582" stroke="#ffe582"/><path d="M1474,697L1485,685 1475,675 1465,687Z" fill="#ffd982" stroke="#ffd982"/><path d="M1514,694L1525,682 1516,672 1505,683Z" fill="#ffc382" stroke="#ffc382"/><path d="M1555,691L1566,680 1556,670 1546,681Z" fill="#ffb082" stroke="#ffb082"/><path d="M1576,690L1587,679 1577,669 1566,680Z" fill="#ffa881" stroke="#ffa881"/><path d="M1617,688L1628,678 1618,668 1607,678Z" fill="#ff987f" stroke="#ff987f"/><path d="M1658,687L1669,677 1660,667 1648,677Z" fill="#fe8678" stroke="#fe8678"/><path d="M1679,687L1690,677 1680,667 1669,677Z" fill="#fd7f75" stroke="#fd7f75"/><path d="M1721,687L1732,677 1722,667 1711,677Z" fill="#fc716e" stroke="#fc716e"/><path d="M1424,713L1435,701 1425,691 1415,703Z" fill="#f8f781" stroke="#f8f781"/><path d="M1444,711L1454,699 1445,689 1435,701Z" fill="#fff082" stroke="#fff082"/><path d="M1464,709L1474,697 1465,687 1454,699Z" fill="#ffe382" stroke="#ffe382"/><path d="M1484,707L1494,695 1485,685 1474,697Z" fill="#ffd682" stroke="#ffd682"/><path d="M1504,705L1514,694 1505,683 1494,695Z" fill="#ffcb82" stroke="#ffcb82"/><path d="M1524,704L1535,692 1525,682 1514,694Z" fill="#ffc182" stroke="#ffc182"/><path d="M1544,702L1555,691 1546,681 1535,692Z" fill="#ffb682" stroke="#ffb682"/><path d="M1565,701L1576,690 1566,680 1555,691Z" fill="#ffad81" stroke="#ffad81"/><path d="M1585,700L1596,689 1587,679 1576,690Z" fill="#ffa581" stroke="#ffa581"/><path d="M1606,699L1617,688 1607,678 1596,689Z" fill="#ff9d80" stroke="#ff9d80"/><path d="M1626,698L1637,688 1628,678 1617,688Z" fill="#ff947e" stroke="#ff947e"/><path d="M1647,698L1658,687 1648,677 1637,688Z" fill="#fe8b7b" stroke="#fe8b7b"/><path d="M1668,697L1679,687 1669,677 1658,687Z" fill="#fe8378" stroke="#fe8378"/><path d="M1689,697L1700,687 1690,677 1679,687Z" fill="#fd7b75" stroke="#fd7b75"/><path d="M1709,697L1721,687 1711,677 1700,687Z" fill="#fd7471" stroke="#fd7471"/><path d="M1453,721L1464,709 1454,699 1444,711Z" fill="#ffed82" stroke="#ffed82"/><path d="M1473,719L1484,707 1474,697 1464,709Z" fill="#ffe082" stroke="#ffe082"/><path d="M1513,716L1524,704 1514,694 1504,705Z" fill="#ffc882" stroke="#ffc882"/><path d="M1554,713L1565,701 1555,691 1544,702Z" fill="#ffb382" stroke="#ffb382"/><path d="M1574,711L1585,700 1576,690 1565,701Z" fill="#ffaa81" stroke="#ffaa81"/><path d="M1615,709L1626,698 1617,688 1606,699Z" fill="#ff9980" stroke="#ff9980"/><path d="M1657,708L1668,697 1658,687 1647,698Z" fill="#fe887b" stroke="#fe887b"/><path d="M1678,707L1689,697 1679,687 1668,697Z" fill="#fe7f78" stroke="#fe7f78"/><path d="M1434,724L1444,711 1435,701 1424,713Z" fill="#fbf782" stroke="#fbf782"/><path d="M1493,717L1504,705 1494,695 1484,707Z" fill="#ffd483" stroke="#ffd483"/><path d="M1533,714L1544,702 1535,692 1524,704Z" fill="#ffbe82" stroke="#ffbe82"/><path d="M1595,710L1606,699 1596,689 1585,700Z" fill="#ffa181" stroke="#ffa181"/><path d="M1636,709L1647,698 1637,688 1626,698Z" fill="#ff917e" stroke="#ff917e"/><path d="M1698,707L1709,697 1700,687 1689,697Z" fill="#fd7774" stroke="#fd7774"/><path d="M1443,734L1453,721 1444,711 1434,724Z" fill="#fef782" stroke="#fef782"/><path d="M1463,732L1473,719 1464,709 1453,721Z" fill="#ffea83" stroke="#ffea83"/><path d="M1482,730L1493,717 1484,707 1473,719Z" fill="#ffdd83" stroke="#ffdd83"/><path d="M1503,728L1513,716 1504,705 1493,717Z" fill="#ffd183" stroke="#ffd183"/><path d="M1523,726L1533,714 1524,704 1513,716Z" fill="#ffc582" stroke="#ffc582"/><path d="M1543,724L1554,713 1544,702 1533,714Z" fill="#ffbb82" stroke="#ffbb82"/><path d="M1563,723L1574,711 1565,701 1554,713Z" fill="#ffb082" stroke="#ffb082"/><path d="M1584,722L1595,710 1585,700 1574,711Z" fill="#ffa781" stroke="#ffa781"/><path d="M1604,720L1615,709 1606,699 1595,710Z" fill="#ff9e81" stroke="#ff9e81"/><path d="M1625,719L1636,709 1626,698 1615,709Z" fill="#ff9680" stroke="#ff9680"/><path d="M1646,719L1657,708 1647,698 1636,709Z" fill="#ff8d7e" stroke="#ff8d7e"/><path d="M1667,718L1678,707 1668,697 1657,708Z" fill="#fe847b" stroke="#fe847b"/><path d="M1687,717L1698,707 1689,697 1678,707Z" fill="#fe7b77" stroke="#fe7b77"/><path d="M1452,744L1463,732 1453,721 1443,734Z" fill="#fff583" stroke="#fff583"/><path d="M1472,742L1482,730 1473,719 1463,732Z" fill="#ffe783" stroke="#ffe783"/><path d="M1492,740L1503,728 1493,717 1482,730Z" fill="#ffda83" stroke="#ffda83"/><path d="M1512,738L1523,726 1513,716 1503,728Z" fill="#ffce83" stroke="#ffce83"/><path d="M1532,736L1543,724 1533,714 1523,726Z" fill="#ffc382" stroke="#ffc382"/><path d="M1552,735L1563,723 1554,713 1543,724Z" fill="#ffb882" stroke="#ffb882"/><path d="M1573,733L1584,722 1574,711 1563,723Z" fill="#ffad81" stroke="#ffad81"/><path d="M1593,732L1604,720 1595,710 1584,722Z" fill="#ffa481" stroke="#ffa481"/><path d="M1614,731L1625,719 1615,709 1604,720Z" fill="#ff9b80" stroke="#ff9b80"/><path d="M1635,730L1646,719 1636,709 1625,719Z" fill="#ff9380" stroke="#ff9380"/><path d="M1655,729L1667,718 1657,708 1646,719Z" fill="#ff8a7e" stroke="#ff8a7e"/><path d="M1676,728L1687,717 1678,707 1667,718Z" fill="#fe817a" stroke="#fe817a"/><path d="M1481,752L1492,740 1482,730 1472,742Z" fill="#ffe583" stroke="#ffe583"/><path d="M1542,747L1552,735 1543,724 1532,736Z" fill="#ffc082" stroke="#ffc082"/><path d="M1582,743L1593,732 1584,722 1573,733Z" fill="#ffaa81" stroke="#ffaa81"/><path d="M1644,740L1655,729 1646,719 1635,730Z" fill="#ff907f" stroke="#ff907f"/><path d="M1461,755L1472,742 1463,732 1452,744Z" fill="#fff383" stroke="#fff383"/><path d="M1501,750L1512,738 1503,728 1492,740Z" fill="#ffd883" stroke="#ffd883"/><path d="M1521,748L1532,736 1523,726 1512,738Z" fill="#ffcb83" stroke="#ffcb83"/><path d="M1562,745L1573,733 1563,723 1552,735Z" fill="#ffb582" stroke="#ffb582"/><path d="M1603,742L1614,731 1604,720 1593,732Z" fill="#ffa181" stroke="#ffa181"/><path d="M1624,741L1635,730 1625,719 1614,731Z" fill="#ff9880" stroke="#ff9880"/><path d="M1665,739L1676,728 1667,718 1655,729Z" fill="#ff877d" stroke="#ff877d"/><path d="M1471,765L1481,752 1472,742 1461,755Z" fill="#fff083" stroke="#fff083"/><path d="M1491,763L1501,750 1492,740 1481,752Z" fill="#ffe283" stroke="#ffe283"/><path d="M1511,761L1521,748 1512,738 1501,750Z" fill="#ffd583" stroke="#ffd583"/><path d="M1531,759L1542,747 1532,736 1521,748Z" fill="#ffc982" stroke="#ffc982"/><path d="M1551,757L1562,745 1552,735 1542,747Z" fill="#ffbd82" stroke="#ffbd82"/><path d="M1572,755L1582,743 1573,733 1562,745Z" fill="#ffb282" stroke="#ffb282"/><path d="M1592,754L1603,742 1593,732 1582,743Z" fill="#ffa781" stroke="#ffa781"/><path d="M1613,752L1624,741 1614,731 1603,742Z" fill="#ff9e81" stroke="#ff9e81"/><path d="M1633,751L1644,740 1635,730 1624,741Z" fill="#ff9580" stroke="#ff9580"/><path d="M1654,750L1665,739 1655,729 1644,740Z" fill="#ff8c7f" stroke="#ff8c7f"/><path d="M1500,773L1511,761 1501,750 1491,763Z" fill="#ffdf83" stroke="#ffdf83"/><path d="M1520,771L1531,759 1521,748 1511,761Z" fill="#ffd283" stroke="#ffd283"/><path d="M1561,767L1572,755 1562,745 1551,757Z" fill="#ffba82" stroke="#ffba82"/><path d="M1602,764L1613,752 1603,742 1592,754Z" fill="#ffa581" stroke="#ffa581"/><path d="M1622,763L1633,751 1624,741 1613,752Z" fill="#ff9b80" stroke="#ff9b80"/><path d="M1480,775L1491,763 1481,752 1471,765Z" fill="#ffed83" stroke="#ffed83"/><path d="M1540,769L1551,757 1542,747 1531,759Z" fill="#ffc682" stroke="#ffc682"/><path d="M1581,765L1592,754 1582,743 1572,755Z" fill="#ffaf81" stroke="#ffaf81"/><path d="M1643,761L1654,750 1644,740 1633,751Z" fill="#ff9280" stroke="#ff9280"/><path d="M1489,786L1500,773 1491,763 1480,775Z" fill="#ffeb83" stroke="#ffeb83"/><path d="M1509,783L1520,771 1511,761 1500,773Z" fill="#ffdd83" stroke="#ffdd83"/><path d="M1530,781L1540,769 1531,759 1520,771Z" fill="#ffd083" stroke="#ffd083"/><path d="M1550,779L1561,767 1551,757 1540,769Z" fill="#ffc382" stroke="#ffc382"/><path d="M1570,777L1581,765 1572,755 1561,767Z" fill="#ffb782" stroke="#ffb782"/><path d="M1591,776L1602,764 1592,754 1581,765Z" fill="#ffac81" stroke="#ffac81"/><path d="M1611,774L1622,763 1613,752 1602,764Z" fill="#ffa281" stroke="#ffa281"/><path d="M1632,773L1643,761 1633,751 1622,763Z" fill="#ff9880" stroke="#ff9880"/><path d="M1499,796L1509,783 1500,773 1489,786Z" fill="#ffe883" stroke="#ffe883"/><path d="M1519,794L1530,781 1520,771 1509,783Z" fill="#ffda83" stroke="#ffda83"/><path d="M1539,792L1550,779 1540,769 1530,781Z" fill="#ffcd83" stroke="#ffcd83"/><path d="M1559,790L1570,777 1561,767 1550,779Z" fill="#ffc082" stroke="#ffc082"/><path d="M1580,788L1591,776 1581,765 1570,777Z" fill="#ffb482" stroke="#ffb482"/><path d="M1600,786L1611,774 1602,764 1591,776Z" fill="#ffa981" stroke="#ffa981"/><path d="M1621,785L1632,773 1622,763 1611,774Z" fill="#ff9f81" stroke="#ff9f81"/><path d="M1528,804L1539,792 1530,781 1519,794Z" fill="#ffd883" stroke="#ffd883"/><path d="M1589,798L1600,786 1591,776 1580,788Z" fill="#ffb282" stroke="#ffb282"/><path d="M1508,807L1519,794 1509,783 1499,796Z" fill="#ffe683" stroke="#ffe683"/><path d="M1548,802L1559,790 1550,779 1539,792Z" fill="#ffca83" stroke="#ffca83"/><path d="M1569,800L1580,788 1570,777 1559,790Z" fill="#ffbe82" stroke="#ffbe82"/><path d="M1610,797L1621,785 1611,774 1600,786Z" fill="#ffa681" stroke="#ffa681"/><path d="M1518,817L1528,804 1519,794 1508,807Z" fill="#ffe383" stroke="#ffe383"/><path d="M1538,815L1548,802 1539,792 1528,804Z" fill="#ffd583" stroke="#ffd583"/><path d="M1558,812L1569,800 1559,790 1548,802Z" fill="#ffc883" stroke="#ffc883"/><path d="M1578,810L1589,798 1580,788 1569,800Z" fill="#ffbb82" stroke="#ffbb82"/><path d="M1599,809L1610,797 1600,786 1589,798Z" fill="#ffaf82" stroke="#ffaf82"/><path d="M1547,825L1558,812 1548,802 1538,815Z" fill="#ffd283" stroke="#ffd283"/><path d="M1567,823L1578,810 1569,800 1558,812Z" fill="#ffc583" stroke="#ffc583"/><path d="M1527,827L1538,815 1528,804 1518,817Z" fill="#ffe183" stroke="#ffe183"/><path d="M1588,821L1599,809 1589,798 1578,810Z" fill="#ffb882" stroke="#ffb882"/><path d="M1536,838L1547,825 1538,815 1527,827Z" fill="#ffde83" stroke="#ffde83"/><path d="M1557,836L1567,823 1558,812 1547,825Z" fill="#ffd083" stroke="#ffd083"/><path d="M1577,833L1588,821 1578,810 1567,823Z" fill="#ffc282" stroke="#ffc282"/><path d="M1546,848L1557,836 1547,825 1536,838Z" fill="#ffdc83" stroke="#ffdc83"/><path d="M1566,846L1577,833 1567,823 1557,836Z" fill="#ffcd83" stroke="#ffcd83"/><path d="M1555,859L1566,846 1557,836 1546,848Z" fill="#ffd983" stroke="#ffd983"/></g>
<path d="M1555.3,858.8 1536.4,837.9 1517.6,817.0 1498.8,796.1 1480.1,775.3 1461.4,754.6 1442.8,734.0 1424.2,713.4 1405.7,692.9 1387.2,672.5 1368.8,652.3 1350.5,632.3 1332.2,612.5 1314.1,593.0 1296.0,573.6 1278.0,554.5 1260.2,535.7 1242.5,517.0 1224.9,498.7 1207.4,480.5 1190.0,462.7M1555.3,858.8 1576.9,833.4 1598.8,808.6 1620.8,784.6 1643.0,761.4 1665.1,739.0 1687.3,717.5 1709.5,696.8 1731.6,677.1 1753.5,658.4 1775.2,640.6 1796.7,623.9 1817.9,608.2 1838.8,593.7 1859.3,580.3 1879.3,568.0 1898.9,557.0 1917.9,547.2 1936.4,538.7 1954.2,531.4 1971.3,525.6M1560.7,852.4 1541.8,831.4 1522.9,810.6 1504.1,789.7 1485.4,769.0 1466.7,748.3 1448.0,727.7 1429.4,707.1 1410.8,686.6 1392.3,666.2 1373.9,646.1 1355.5,626.1 1337.2,606.3 1319.0,586.7 1300.9,567.3 1282.9,548.2 1265.0,529.3 1247.2,510.6 1229.5,492.1 1212.0,473.9 1194.5,455.9M1550.6,853.6 1572.2,828.1 1594.0,803.4 1616.0,779.4 1638.1,756.3 1660.3,733.9 1682.5,712.4 1704.6,691.8 1726.7,672.2 1748.6,653.5 1770.3,635.8 1791.8,619.1 1813.0,603.5 1833.9,589.0 1854.4,575.7 1874.4,563.5 1894.0,552.5 1913.1,542.8 1931.5,534.4 1949.4,527.3 1966.6,521.5M1566.1,846.0 1547.2,825.1 1528.3,804.2 1509.5,783.4 1490.7,762.7 1471.9,742.0 1453.2,721.4 1434.6,700.9 1416.0,680.4 1397.4,660.1 1379.0,639.9 1360.5,619.9 1342.2,600.1 1324.0,580.5 1305.8,561.1 1287.8,541.9 1269.8,523.0 1252.0,504.2 1234.2,485.7 1216.6,467.3 1199.1,449.3M1545.8,848.3 1567.4,822.9 1589.3,798.2 1611.2,774.3 1633.3,751.1 1655.5,728.8 1677.6,707.4 1699.7,686.8 1721.8,667.2 1743.7,648.6 1765.4,630.9 1786.9,614.3 1808.1,598.8 1829.0,584.4 1849.5,571.1 1869.5,559.0 1889.1,548.1 1908.2,538.5 1926.7,530.1 1944.6,523.1 1961.8,517.4M1571.5,839.7 1552.6,818.8 1533.6,797.9 1514.8,777.2 1496.0,756.4 1477.2,735.8 1458.5,715.2 1439.8,694.7 1421.1,674.3 1402.6,654.0 1384.1,633.8 1365.6,613.8 1347.3,594.0 1329.0,574.4 1310.8,555.0 1292.7,535.7 1274.7,516.7 1256.8,497.9 1239.0,479.3 1221.3,460.9 1203.7,442.7M1541.1,843.1 1562.7,817.7 1584.5,793.0 1606.4,769.1 1628.5,746.0 1650.6,723.8 1672.7,702.3 1694.9,681.8 1716.9,662.3 1738.8,643.7 1760.5,626.1 1782.0,609.6 1803.2,594.1 1824.1,579.8 1844.6,566.5 1864.7,554.5 1884.3,543.7 1903.4,534.2 1921.9,525.9 1939.8,518.9 1957.0,513.4M1576.9,833.4 1558.0,812.5 1539.0,791.7 1520.1,770.9 1501.3,750.2 1482.5,729.6 1463.7,709.1 1445.0,688.6 1426.3,668.2 1407.7,647.9 1389.2,627.7 1370.7,607.8 1352.3,588.0 1334.0,568.3 1315.8,548.9 1297.6,529.6 1279.6,510.6 1261.6,491.7 1243.7,473.0 1226.0,454.5 1208.4,436.2M1536.4,837.9 1558.0,812.5 1579.7,787.8 1601.6,764.0 1623.7,740.9 1645.8,718.7 1667.9,697.3 1690.0,676.9 1712.0,657.3 1733.9,638.8 1755.6,621.3 1777.1,604.8 1798.3,589.4 1819.2,575.1 1839.7,562.0 1859.8,550.0 1879.4,539.3 1898.5,529.8 1917.0,521.7 1935.0,514.8 1952.2,509.3M1582.4,827.1 1563.4,806.3 1544.4,785.5 1525.5,764.8 1506.6,744.1 1487.8,723.5 1469.0,703.0 1450.2,682.5 1431.6,662.1 1412.9,641.9 1394.3,621.7 1375.8,601.8 1357.4,582.0 1339.0,562.3 1320.8,542.9 1302.6,523.6 1284.5,504.5 1266.5,485.5 1248.6,466.8 1230.8,448.2 1213.1,429.9M1531.7,832.6 1553.2,807.3 1574.9,782.7 1596.8,758.8 1618.8,735.8 1640.9,713.6 1663.0,692.3 1685.1,671.9 1707.1,652.4 1729.0,633.9 1750.7,616.5 1772.2,600.0 1793.4,584.7 1814.3,570.5 1834.8,557.4 1854.9,545.6 1874.5,534.9 1893.7,525.5 1912.2,517.4 1930.2,510.6 1947.5,505.2M1587.9,820.9 1568.8,800.1 1549.8,779.3 1530.9,758.6 1512.0,738.0 1493.1,717.4 1474.3,696.9 1455.5,676.5 1436.8,656.2 1418.1,635.9 1399.5,615.8 1381.0,595.9 1362.5,576.1 1344.1,556.4 1325.8,536.9 1307.6,517.6 1289.4,498.5 1271.4,479.5 1253.4,460.7 1235.6,442.1 1217.8,423.6M1527.0,827.4 1548.5,802.1 1570.2,777.5 1592.0,753.7 1614.0,730.7 1636.1,708.5 1658.2,687.3 1680.2,666.9 1702.2,647.5 1724.1,629.1 1745.8,611.7 1767.3,595.3 1788.5,580.0 1809.4,565.9 1829.9,552.9 1850.0,541.1 1869.7,530.5 1888.8,521.2 1907.4,513.2 1925.4,506.5 1942.7,501.2M1593.3,814.7 1574.3,793.9 1555.2,773.2 1536.2,752.5 1517.3,731.9 1498.4,711.4 1479.6,691.0 1460.8,670.6 1442.0,650.2 1423.3,630.0 1404.7,609.9 1386.1,590.0 1367.6,570.2 1349.2,550.5 1330.9,531.0 1312.6,511.7 1294.4,492.5 1276.3,473.5 1258.3,454.6 1240.4,436.0 1222.6,417.5M1522.3,822.2 1543.8,796.9 1565.4,772.3 1587.3,748.5 1609.2,725.6 1631.3,703.5 1653.3,682.2 1675.4,661.9 1697.4,642.6 1719.2,624.2 1740.9,606.8 1762.4,590.5 1783.6,575.3 1804.5,561.3 1825.0,548.3 1845.2,536.6 1864.8,526.1 1884.0,516.9 1902.6,509.0 1920.6,502.4 1937.9,497.1M1598.8,808.6 1579.7,787.8 1560.7,767.1 1541.6,746.5 1522.7,725.9 1503.8,705.4 1484.9,685.0 1466.1,664.6 1447.3,644.4 1428.6,624.2 1409.9,604.1 1391.3,584.2 1372.8,564.4 1354.3,544.7 1336.0,525.2 1317.6,505.9 1299.4,486.7 1281.3,467.6 1263.2,448.7 1245.2,430.0 1227.4,411.4M1517.6,817.0 1539.0,791.7 1560.7,767.1 1582.5,743.4 1604.4,720.5 1626.4,698.4 1648.5,677.2 1670.5,657.0 1692.5,637.6 1714.3,619.3 1736.0,602.0 1757.5,585.8 1778.7,570.7 1799.6,556.7 1820.2,543.8 1840.3,532.2 1860.0,521.7 1879.2,512.6 1897.8,504.7 1915.8,498.2 1933.2,493.1M1604.3,802.5 1585.2,781.8 1566.1,761.1 1547.1,740.5 1528.1,720.0 1509.1,699.5 1490.2,679.1 1471.4,658.8 1452.6,638.5 1433.8,618.4 1415.1,598.3 1396.5,578.4 1378.0,558.6 1359.5,539.0 1341.1,519.5 1322.7,500.1 1304.4,480.9 1286.3,461.8 1268.2,442.8 1250.1,424.1 1232.2,405.4M1512.9,811.7 1534.3,786.5 1555.9,762.0 1577.7,738.3 1599.6,715.4 1621.6,693.3 1643.6,672.2 1665.7,652.0 1687.6,632.7 1709.5,614.5 1731.2,597.2 1752.6,581.1 1773.8,566.0 1794.8,552.1 1815.3,539.3 1835.5,527.7 1855.2,517.4 1874.3,508.3 1893.0,500.5 1911.0,494.1 1928.4,489.0M1609.8,796.5 1590.7,775.8 1571.5,755.2 1552.5,734.6 1533.5,714.1 1514.5,693.7 1495.6,673.3 1476.7,653.0 1457.9,632.8 1439.1,612.6 1420.4,592.6 1401.7,572.7 1383.2,553.0 1364.6,533.3 1346.2,513.8 1327.8,494.4 1309.5,475.2 1291.3,456.1 1273.1,437.1 1255.1,418.3 1237.1,399.6M1508.2,806.5 1529.6,781.3 1551.1,756.8 1572.9,733.1 1594.8,710.3 1616.8,688.3 1638.8,667.2 1660.8,647.0 1682.8,627.8 1704.6,609.6 1726.3,592.4 1747.8,576.3 1769.0,561.3 1789.9,547.5 1810.4,534.8 1830.6,523.3 1850.3,513.0 1869.5,504.0 1888.2,496.3 1906.3,490.0 1923.7,485.0M1615.3,790.5 1596.1,769.9 1577.0,749.3 1557.9,728.7 1538.9,708.3 1519.9,687.9 1500.9,667.5 1482.0,647.3 1463.2,627.1 1444.4,607.0 1425.6,587.0 1407.0,567.1 1388.4,547.3 1369.8,527.7 1351.3,508.2 1332.9,488.8 1314.6,469.5 1296.3,450.4 1278.1,431.4 1260.0,412.5 1242.0,393.8M1503.5,801.3 1524.8,776.1 1546.4,751.7 1568.1,728.0 1590.0,705.2 1612.0,683.2 1634.0,662.2 1656.0,642.1 1677.9,622.9 1699.7,604.8 1721.4,587.7 1742.9,571.6 1764.1,556.7 1785.0,542.9 1805.6,530.2 1825.8,518.8 1845.5,508.6 1864.7,499.7 1883.4,492.1 1901.5,485.9 1918.9,481.0M1620.8,784.6 1601.6,764.0 1582.5,743.4 1563.4,722.9 1544.3,702.5 1525.3,682.1 1506.3,661.8 1487.4,641.6 1468.5,621.4 1449.7,601.3 1430.9,581.4 1412.2,561.5 1393.6,541.8 1375.0,522.2 1356.5,502.7 1338.1,483.3 1319.7,464.0 1301.4,444.8 1283.2,425.8 1265.0,406.9 1247.0,388.2M1498.8,796.1 1520.1,770.9 1541.6,746.5 1563.4,722.9 1585.2,700.1 1607.1,678.2 1629.1,657.2 1651.1,637.1 1673.0,618.0 1694.9,599.9 1716.5,582.9 1738.0,566.9 1759.2,552.0 1780.2,538.3 1800.7,525.7 1820.9,514.4 1840.7,504.3 1859.9,495.4 1878.6,487.9 1896.7,481.8 1914.2,477.0M1626.4,778.7 1607.1,758.1 1587.9,737.6 1568.8,717.1 1549.7,696.7 1530.7,676.4 1511.7,656.1 1492.7,635.9 1473.8,615.8 1455.0,595.8 1436.2,575.9 1417.5,556.0 1398.8,536.3 1380.2,516.7 1361.7,497.2 1343.2,477.8 1324.8,458.5 1306.5,439.4 1288.2,420.3 1270.1,401.4 1252.0,382.6M1494.2,790.9 1515.4,765.8 1536.9,741.4 1558.6,717.8 1580.4,695.0 1602.3,673.2 1624.3,652.2 1646.3,632.2 1668.2,613.1 1690.0,595.1 1711.7,578.1 1733.1,562.2 1754.4,547.4 1775.3,533.7 1795.9,521.2 1816.1,509.9 1835.8,499.9 1855.1,491.2 1873.8,483.7 1891.9,477.6 1909.4,472.9M1631.9,772.9 1612.6,752.3 1593.4,731.8 1574.3,711.4 1555.1,691.0 1536.1,670.7 1517.1,650.5 1498.1,630.4 1479.2,610.3 1460.3,590.3 1441.5,570.4 1422.8,550.6 1404.1,530.9 1385.5,511.3 1366.9,491.8 1348.4,472.4 1330.0,453.1 1311.6,434.0 1293.3,414.9 1275.1,396.0 1257.0,377.2M1489.5,785.7 1510.7,760.6 1532.2,736.2 1553.8,712.7 1575.6,690.0 1597.5,668.1 1619.5,647.2 1641.4,627.2 1663.3,608.2 1685.1,590.3 1706.8,573.3 1728.3,557.5 1749.5,542.7 1770.4,529.1 1791.0,516.7 1811.2,505.5 1831.0,495.6 1850.3,486.9 1869.0,479.5 1887.2,473.5 1904.7,468.9M1637.4,767.1 1618.1,746.6 1598.9,726.1 1579.7,705.7 1560.6,685.4 1541.5,665.1 1522.5,645.0 1503.5,624.8 1484.5,604.8 1465.7,584.8 1446.8,565.0 1428.1,545.2 1409.4,525.5 1390.7,506.0 1372.1,486.5 1353.6,467.1 1335.2,447.8 1316.8,428.7 1298.5,409.6 1280.2,390.7 1262.0,371.8M1484.8,780.5 1506.0,755.4 1527.4,731.1 1549.0,707.6 1570.8,684.9 1592.7,663.1 1614.6,642.2 1636.6,622.3 1658.5,603.4 1680.3,585.4 1701.9,568.5 1723.4,552.7 1744.6,538.1 1765.6,524.5 1786.2,512.2 1806.4,501.1 1826.2,491.2 1845.5,482.6 1864.2,475.4 1882.4,469.5 1900.0,464.9M1643.0,761.4 1623.7,740.9 1604.4,720.5 1585.2,700.1 1566.0,679.8 1546.9,659.6 1527.9,639.5 1508.9,619.4 1489.9,599.4 1471.0,579.5 1452.2,559.6 1433.4,539.9 1414.6,520.2 1396.0,500.7 1377.4,481.2 1358.8,461.9 1340.3,442.6 1321.9,423.5 1303.6,404.4 1285.3,385.4 1267.1,366.6M1480.1,775.3 1501.3,750.2 1522.7,725.9 1544.3,702.5 1566.0,679.8 1587.9,658.1 1609.8,637.2 1631.8,617.4 1653.6,598.5 1675.4,580.6 1697.1,563.8 1718.6,548.0 1739.8,533.4 1760.7,520.0 1781.3,507.7 1801.6,496.7 1821.4,486.9 1840.7,478.4 1859.5,471.2 1877.7,465.4 1895.3,460.9M1648.5,755.7 1629.2,735.3 1609.9,714.9 1590.7,694.6 1571.5,674.3 1552.4,654.1 1533.3,634.0 1514.3,614.0 1495.3,594.0 1476.4,574.1 1457.5,554.3 1438.7,534.6 1419.9,515.0 1401.3,495.5 1382.6,476.1 1364.1,456.7 1345.6,437.5 1327.1,418.3 1308.8,399.3 1290.5,380.3 1272.2,361.5M1475.5,770.1 1496.6,745.1 1517.9,720.8 1539.5,697.4 1561.3,674.8 1583.1,653.1 1605.0,632.3 1626.9,612.4 1648.8,593.6 1670.6,575.8 1692.2,559.0 1713.7,543.3 1734.9,528.8 1755.9,515.4 1776.5,503.2 1796.7,492.2 1816.6,482.5 1835.9,474.1 1854.7,467.0 1872.9,461.3 1890.5,456.9M1654.1,750.1 1634.7,729.7 1615.4,709.3 1596.2,689.1 1577.0,668.8 1557.8,648.7 1538.7,628.6 1519.7,608.6 1500.7,588.7 1481.7,568.9 1462.8,549.1 1444.0,529.4 1425.3,509.9 1406.5,490.4 1387.9,471.0 1369.3,451.6 1350.8,432.4 1332.3,413.3 1313.9,394.2 1295.6,375.3 1277.4,356.5M1470.8,765.0 1491.9,739.9 1513.2,715.7 1534.8,692.3 1556.5,669.7 1578.3,648.0 1600.2,627.3 1622.1,607.5 1644.0,588.7 1665.7,571.0 1687.4,554.3 1708.9,538.7 1730.1,524.2 1751.0,510.9 1771.7,498.7 1791.9,487.8 1811.8,478.2 1831.1,469.9 1849.9,462.8 1868.2,457.2 1885.8,453.0M1659.6,744.5 1640.2,724.2 1620.9,703.8 1601.7,683.6 1582.4,663.4 1563.3,643.3 1544.1,623.3 1525.1,603.4 1506.1,583.5 1487.1,563.7 1468.2,544.0 1449.4,524.3 1430.6,504.8 1411.8,485.3 1393.2,465.9 1374.6,446.6 1356.0,427.4 1337.6,408.3 1319.2,389.3 1300.8,370.4 1282.5,351.5M1466.1,759.8 1487.2,734.8 1508.5,710.6 1530.0,687.2 1551.7,664.7 1573.5,643.0 1595.4,622.3 1617.3,602.6 1639.1,583.9 1660.9,566.2 1682.5,549.5 1704.0,534.0 1725.2,519.6 1746.2,506.3 1766.8,494.2 1787.1,483.4 1807.0,473.9 1826.3,465.6 1845.2,458.7 1863.5,453.1 1881.1,449.0M1665.1,739.0 1645.8,718.7 1626.4,698.4 1607.1,678.2 1587.9,658.1 1568.7,638.0 1549.6,618.0 1530.5,598.1 1511.5,578.3 1492.5,558.5 1473.6,538.9 1454.7,519.3 1435.9,499.7 1417.2,480.3 1398.5,461.0 1379.9,441.7 1361.3,422.5 1342.8,403.5 1324.4,384.5 1306.0,365.6 1287.7,346.7M1461.4,754.6 1482.5,729.6 1503.8,705.4 1525.3,682.1 1546.9,659.6 1568.7,638.0 1590.6,617.4 1612.4,597.7 1634.3,579.0 1656.1,561.3 1677.7,544.8 1699.2,529.3 1720.4,514.9 1741.4,501.8 1762.0,489.8 1782.3,479.0 1802.2,469.6 1821.5,461.4 1840.4,454.5 1858.7,449.1 1876.4,445.0M1670.7,733.5 1651.3,713.2 1631.9,693.0 1612.6,672.9 1593.4,652.8 1574.2,632.8 1555.0,612.8 1535.9,593.0 1516.9,573.2 1497.9,553.5 1479.0,533.8 1460.1,514.3 1441.3,494.8 1422.5,475.4 1403.8,456.1 1385.2,436.9 1366.6,417.7 1348.1,398.7 1329.6,379.7 1311.2,360.8 1292.9,342.1M1456.8,749.4 1477.8,724.5 1499.0,700.3 1520.5,677.0 1542.2,654.6 1563.9,633.0 1585.8,612.4 1607.6,592.8 1629.5,574.1 1651.2,556.5 1672.9,540.0 1694.3,524.6 1715.6,510.3 1736.5,497.2 1757.2,485.3 1777.5,474.6 1797.4,465.2 1816.8,457.1 1835.7,450.4 1854.0,445.0 1871.7,441.0M1676.2,728.1 1656.8,707.9 1637.5,687.7 1618.1,667.6 1598.9,647.5 1579.6,627.6 1560.5,607.7 1541.4,587.9 1522.3,568.1 1503.3,548.4 1484.3,528.9 1465.4,509.3 1446.6,489.9 1427.8,470.6 1409.1,451.3 1390.5,432.1 1371.9,413.0 1353.4,394.0 1334.9,375.1 1316.5,356.2 1298.2,337.5M1452.1,744.3 1473.1,719.3 1494.3,695.2 1515.8,671.9 1537.4,649.5 1559.1,628.0 1581.0,607.5 1602.8,587.9 1624.6,569.3 1646.4,551.8 1668.0,535.3 1689.5,519.9 1710.7,505.7 1731.7,492.7 1752.4,480.8 1772.7,470.2 1792.6,460.9 1812.0,452.9 1830.9,446.2 1849.3,440.9 1867.0,437.1M1681.8,722.8 1662.4,702.6 1643.0,682.4 1623.6,662.4 1604.3,642.4 1585.1,622.4 1565.9,602.6 1546.8,582.8 1527.7,563.1 1508.7,543.5 1489.7,524.0 1470.8,504.5 1452.0,485.1 1433.2,465.8 1414.5,446.6 1395.8,427.4 1377.2,408.4 1358.6,389.4 1340.2,370.5 1321.8,351.7 1303.4,333.0M1447.5,739.1 1468.4,714.2 1489.6,690.1 1511.0,666.9 1532.6,644.5 1554.4,623.0 1576.2,602.5 1598.0,583.0 1619.8,564.4 1641.6,547.0 1663.2,530.6 1684.7,515.3 1705.9,501.1 1726.9,488.1 1747.6,476.4 1767.9,465.9 1787.8,456.6 1807.2,448.7 1826.2,442.1 1844.6,436.9 1862.3,433.1M1687.3,717.5 1667.9,697.3 1648.5,677.2 1629.1,657.2 1609.8,637.2 1590.6,617.4 1571.4,597.6 1552.2,577.8 1533.1,558.2 1514.1,538.6 1495.1,519.1 1476.2,499.7 1457.3,480.4 1438.5,461.1 1419.8,441.9 1401.1,422.8 1382.5,403.8 1364.0,384.9 1345.5,366.1 1327.1,347.3 1308.7,328.7M1442.8,734.0 1463.7,709.1 1484.9,685.0 1506.3,661.8 1527.9,639.5 1549.6,618.0 1571.4,597.6 1593.2,578.1 1615.0,559.6 1636.7,542.2 1658.4,525.8 1679.8,510.6 1701.1,496.5 1722.1,483.6 1742.8,471.9 1763.1,461.5 1783.0,452.3 1802.5,444.5 1821.4,438.0 1839.8,432.9 1857.6,429.1M1692.9,712.2 1673.4,692.1 1654.0,672.1 1634.6,652.1 1615.3,632.2 1596.0,612.4 1576.8,592.6 1557.7,572.9 1538.6,553.3 1519.5,533.8 1500.5,514.3 1481.6,495.0 1462.7,475.7 1443.9,456.5 1425.2,437.4 1406.5,418.3 1387.8,399.4 1369.3,380.5 1350.8,361.7 1332.4,343.0 1314.0,324.4M1438.2,728.8 1459.0,704.0 1480.2,679.9 1501.6,656.7 1523.1,634.4 1544.8,613.1 1566.6,592.6 1588.4,573.2 1610.2,554.8 1631.9,537.4 1653.5,521.1 1675.0,505.9 1696.3,491.9 1717.3,479.1 1738.0,467.5 1758.3,457.1 1778.2,448.0 1797.7,440.3 1816.7,433.9 1835.1,428.8 1853.0,425.2M1698.4,707.0 1678.9,687.0 1659.5,667.0 1640.1,647.0 1620.8,627.2 1601.5,607.4 1582.3,587.7 1563.1,568.1 1544.0,548.5 1524.9,529.0 1505.9,509.6 1487.0,490.3 1468.1,471.1 1449.3,451.9 1430.5,432.9 1411.8,413.9 1393.2,395.0 1374.6,376.1 1356.1,357.4 1337.7,338.8 1319.3,320.2M1433.5,723.7 1454.4,698.8 1475.5,674.8 1496.8,651.7 1518.4,629.4 1540.0,608.1 1561.8,587.7 1583.6,568.3 1605.4,549.9 1627.1,532.6 1648.7,516.4 1670.2,501.3 1691.4,487.3 1712.5,474.6 1733.2,463.0 1753.5,452.7 1773.5,443.7 1793.0,436.1 1812.0,429.7 1830.4,424.8 1848.3,421.3M1704.0,701.9 1684.5,681.9 1665.0,661.9 1645.6,642.1 1626.3,622.2 1607.0,602.5 1587.7,582.9 1568.6,563.3 1549.4,543.8 1530.4,524.3 1511.3,505.0 1492.4,485.7 1473.5,466.5 1454.7,447.4 1435.9,428.4 1417.2,409.5 1398.5,390.6 1380.0,371.9 1361.4,353.2 1343.0,334.6 1324.6,316.1M1428.9,718.5 1449.7,693.7 1470.8,669.7 1492.1,646.6 1513.6,624.4 1535.3,603.1 1557.0,582.8 1578.8,563.4 1600.6,545.1 1622.3,527.8 1643.9,511.7 1665.4,496.6 1686.6,482.8 1707.6,470.1 1728.4,458.6 1748.7,448.4 1768.7,439.5 1788.2,431.9 1807.2,425.6 1825.7,420.8 1843.6,417.3M1709.5,696.8 1690.0,676.9 1670.5,657.0 1651.1,637.1 1631.8,617.4 1612.4,597.7 1593.2,578.1 1574.0,558.5 1554.9,539.1 1535.8,519.7 1516.8,500.4 1497.8,481.2 1478.9,462.1 1460.0,443.0 1441.3,424.1 1422.5,405.2 1403.9,386.4 1385.3,367.7 1366.8,349.0 1348.3,330.5 1329.9,312.0M1424.2,713.4 1445.0,688.6 1466.1,664.6 1487.4,641.6 1508.9,619.4 1530.5,598.1 1552.2,577.8 1574.0,558.5 1595.8,540.3 1617.5,523.1 1639.1,507.0 1660.6,492.0 1681.8,478.2 1702.8,465.6 1723.6,454.2 1743.9,444.0 1763.9,435.2 1783.5,427.7 1802.5,421.5 1821.0,416.7 1838.9,413.4M1715.0,691.8 1695.5,671.9 1676.0,652.0 1656.6,632.3 1637.2,612.6 1617.9,592.9 1598.7,573.4 1579.4,553.9 1560.3,534.5 1541.2,515.2 1522.2,495.9 1503.2,476.8 1484.3,457.7 1465.4,438.7 1446.6,419.8 1427.9,400.9 1409.3,382.2 1390.7,363.5 1372.1,345.0 1353.7,326.5 1335.3,308.1M1419.6,708.2 1440.3,683.5 1461.4,659.6 1482.6,636.5 1504.1,614.4 1525.7,593.2 1547.5,572.9 1569.2,553.7 1591.0,535.5 1612.7,518.3 1634.3,502.3 1655.8,487.4 1677.0,473.6 1698.0,461.1 1718.8,449.7 1739.2,439.7 1759.2,430.9 1778.7,423.5 1797.8,417.4 1816.3,412.7 1834.3,409.5M1720.5,686.9 1701.0,667.0 1681.5,647.2 1662.1,627.5 1642.7,607.8 1623.4,588.2 1604.1,568.7 1584.9,549.3 1565.7,529.9 1546.6,510.7 1527.6,491.5 1508.6,472.4 1489.7,453.3 1470.8,434.4 1452.0,415.5 1433.3,396.8 1414.6,378.1 1396.0,359.5 1377.5,341.0 1359.0,322.5 1340.6,304.2M1415.0,703.1 1435.7,678.4 1456.7,654.5 1477.9,631.5 1499.4,609.4 1521.0,588.2 1542.7,568.0 1564.4,548.8 1586.2,530.7 1607.9,513.6 1629.5,497.6 1650.9,482.7 1672.2,469.1 1693.3,456.6 1714.0,445.3 1734.4,435.3 1754.4,426.7 1774.0,419.3 1793.1,413.3 1811.6,408.7 1829.6,405.6M1726.0,682.0 1706.5,662.1 1687.0,642.4 1667.6,622.7 1648.2,603.1 1628.8,583.6 1609.6,564.1 1590.3,544.8 1571.2,525.5 1552.1,506.2 1533.0,487.1 1514.0,468.1 1495.1,449.1 1476.2,430.2 1457.4,411.4 1438.7,392.7 1420.0,374.0 1401.4,355.5 1382.9,337.0 1364.4,318.7 1346.0,300.4M1410.3,698.0 1431.0,673.3 1452.0,649.4 1473.2,626.4 1494.6,604.4 1516.2,583.2 1537.9,563.1 1559.6,543.9 1581.4,525.8 1603.1,508.8 1624.7,492.9 1646.1,478.1 1667.4,464.5 1688.5,452.1 1709.2,440.9 1729.6,431.0 1749.7,422.4 1769.3,415.1 1788.4,409.2 1807.0,404.7 1825.0,401.6M1731.6,677.1 1712.0,657.3 1692.5,637.6 1673.0,618.0 1653.6,598.5 1634.3,579.0 1615.0,559.6 1595.8,540.3 1576.6,521.0 1557.5,501.9 1538.4,482.8 1519.4,463.8 1500.5,444.9 1481.6,426.1 1462.8,407.3 1444.1,388.6 1425.4,370.1 1406.8,351.6 1388.2,333.2 1369.7,314.9 1351.3,296.7M1405.7,692.9 1426.3,668.2 1447.3,644.4 1468.5,621.4 1489.9,599.4 1511.5,578.3 1533.1,558.2 1554.9,539.1 1576.6,521.0 1598.3,504.1 1619.9,488.2 1641.4,473.5 1662.6,459.9 1683.7,447.6 1704.4,436.5 1724.9,426.7 1744.9,418.1 1764.5,411.0 1783.7,405.1 1802.3,400.7 1820.3,397.7M1737.0,672.3 1717.5,652.6 1698.0,633.0 1678.5,613.4 1659.1,593.9 1639.7,574.5 1620.4,555.1 1601.2,535.9 1582.0,516.7 1562.9,497.6 1543.8,478.6 1524.8,459.6 1505.9,440.8 1487.0,422.0 1468.2,403.3 1449.4,384.7 1430.8,366.2 1412.1,347.8 1393.6,329.4 1375.1,311.2 1356.7,293.0M1401.1,687.7 1421.7,663.1 1442.6,639.3 1463.8,616.4 1485.2,594.4 1506.7,573.3 1528.4,553.3 1550.1,534.2 1571.8,516.2 1593.5,499.3 1615.1,483.5 1636.6,468.9 1657.8,455.4 1678.9,443.1 1699.7,432.1 1720.1,422.3 1740.2,413.9 1759.8,406.8 1779.0,401.1 1797.6,396.7 1815.7,393.8M1742.5,667.6 1723.0,648.0 1703.4,628.4 1684.0,608.8 1664.5,589.4 1645.2,570.0 1625.9,550.8 1606.6,531.5 1587.4,512.4 1568.3,493.4 1549.2,474.4 1530.2,455.5 1511.3,436.7 1492.4,418.0 1473.6,399.4 1454.8,380.8 1436.1,362.4 1417.5,344.0 1399.0,325.7 1380.5,307.5 1362.1,289.4M1396.4,682.6 1417.0,658.0 1437.9,634.2 1459.1,611.4 1480.5,589.4 1502.0,568.4 1523.6,548.4 1545.3,529.4 1567.0,511.5 1588.7,494.6 1610.3,478.9 1631.8,464.3 1653.1,450.8 1674.1,438.6 1694.9,427.7 1715.3,418.0 1735.4,409.7 1755.1,402.6 1774.3,397.0 1792.9,392.7 1811.0,389.9M1748.0,663.0 1728.4,643.4 1708.9,623.8 1689.4,604.4 1670.0,585.0 1650.6,565.7 1631.3,546.4 1612.1,527.3 1592.9,508.2 1573.7,489.2 1554.7,470.3 1535.6,451.5 1516.7,432.7 1497.8,414.1 1479.0,395.5 1460.2,377.0 1441.5,358.6 1422.9,340.3 1404.4,322.1 1385.9,304.0 1367.5,285.9M1391.8,677.6 1412.4,652.9 1433.3,629.2 1454.4,606.3 1475.7,584.4 1497.2,563.5 1518.9,543.5 1540.5,524.6 1562.3,506.7 1583.9,489.9 1605.5,474.2 1627.0,459.7 1648.3,446.3 1669.3,434.2 1690.1,423.3 1710.6,413.7 1730.7,405.4 1750.4,398.5 1769.6,392.9 1788.3,388.8 1806.4,386.0M1753.5,658.4 1733.9,638.8 1714.3,619.3 1694.9,599.9 1675.4,580.6 1656.1,561.3 1636.7,542.2 1617.5,523.1 1598.3,504.1 1579.1,485.1 1560.1,466.3 1541.0,447.5 1522.1,428.8 1503.2,410.2 1484.4,391.7 1465.6,373.3 1446.9,355.0 1428.3,336.7 1409.7,318.6 1391.3,300.5 1372.8,282.5M1387.2,672.5 1407.7,647.9 1428.6,624.2 1449.7,601.3 1471.0,579.5 1492.5,558.5 1514.1,538.6 1535.8,519.7 1557.5,501.9 1579.1,485.1 1600.7,469.5 1622.2,455.1 1643.5,441.8 1664.6,429.7 1685.4,418.9 1705.8,409.4 1726.0,401.2 1745.7,394.3 1764.9,388.8 1783.6,384.8 1801.8,382.2M1758.9,653.8 1739.3,634.3 1719.8,614.9 1700.3,595.6 1680.9,576.3 1661.5,557.1 1642.2,538.0 1622.9,519.0 1603.7,500.0 1584.6,481.1 1565.5,462.3 1546.4,443.6 1527.5,425.0 1508.6,406.5 1489.8,388.0 1471.0,369.7 1452.3,351.4 1433.7,333.2 1415.1,315.1 1396.6,297.1 1378.2,279.2M1382.6,667.4 1403.1,642.8 1423.9,619.1 1445.0,596.3 1466.3,574.5 1487.8,553.6 1509.4,533.7 1531.0,514.9 1552.7,497.1 1574.4,480.4 1596.0,464.9 1617.4,450.5 1638.7,437.2 1659.8,425.3 1680.6,414.5 1701.1,405.1 1721.2,397.0 1740.9,390.2 1760.2,384.8 1778.9,380.8 1797.1,378.3M1764.4,649.4 1744.8,629.9 1725.2,610.6 1705.7,591.3 1686.3,572.1 1666.9,552.9 1647.6,533.9 1628.3,514.9 1609.1,496.0 1590.0,477.2 1570.9,458.5 1551.8,439.8 1532.9,421.2 1514.0,402.8 1495.2,384.4 1476.4,366.1 1457.7,347.9 1439.1,329.7 1420.5,311.7 1402.0,293.8 1383.6,275.9M1378.0,662.4 1398.5,637.8 1419.2,614.1 1440.3,591.3 1461.6,569.5 1483.0,548.7 1504.6,528.9 1526.3,510.1 1547.9,492.3 1569.6,475.7 1591.2,460.2 1612.7,445.9 1634.0,432.7 1655.0,420.8 1675.9,410.2 1696.4,400.8 1716.5,392.7 1736.2,386.0 1755.5,380.7 1774.3,376.9 1792.5,374.4M1769.8,645.0 1750.2,625.6 1730.6,606.3 1711.1,587.0 1691.7,567.9 1672.3,548.8 1653.0,529.8 1633.7,510.9 1614.5,492.1 1595.3,473.3 1576.3,454.6 1557.2,436.1 1538.3,417.6 1519.4,399.2 1500.6,380.8 1481.8,362.6 1463.1,344.4 1444.5,326.4 1425.9,308.4 1407.4,290.5 1389.0,272.7M1373.4,657.3 1393.8,632.8 1414.6,609.1 1435.6,586.4 1456.9,564.6 1478.3,543.8 1499.9,524.0 1521.5,505.2 1543.2,487.6 1564.8,471.0 1586.4,455.6 1607.9,441.3 1629.2,428.2 1650.3,416.4 1671.1,405.8 1691.6,396.5 1711.8,388.5 1731.6,381.9 1750.8,376.7 1769.6,372.9 1787.9,370.6M1775.2,640.6 1755.6,621.3 1736.0,602.0 1716.5,582.9 1697.1,563.8 1677.7,544.8 1658.4,525.8 1639.1,507.0 1619.9,488.2 1600.7,469.5 1581.6,450.9 1562.6,432.4 1543.7,414.0 1524.8,395.6 1505.9,377.3 1487.2,359.2 1468.5,341.1 1449.9,323.1 1431.3,305.2 1412.8,287.4 1394.4,269.6M1368.8,652.3 1389.2,627.7 1409.9,604.1 1430.9,581.4 1452.2,559.6 1473.6,538.9 1495.1,519.1 1516.8,500.4 1538.4,482.8 1560.1,466.3 1581.6,450.9 1603.1,436.7 1624.4,423.7 1645.5,411.9 1666.4,401.4 1686.9,392.2 1707.1,384.3 1726.9,377.8 1746.2,372.7 1765.0,368.9 1783.3,366.7M1780.6,636.3 1761.0,617.1 1741.4,597.9 1721.9,578.8 1702.5,559.7 1683.1,540.8 1663.8,521.9 1644.5,503.1 1625.3,484.4 1606.1,465.8 1587.0,447.2 1568.0,428.8 1549.0,410.4 1530.2,392.1 1511.3,373.9 1492.6,355.8 1473.9,337.8 1455.2,319.9 1436.7,302.0 1418.2,284.3 1399.8,266.6M1364.2,647.3 1384.6,622.7 1405.3,599.1 1426.2,576.4 1447.5,554.7 1468.9,534.0 1490.4,514.3 1512.0,495.6 1533.7,478.0 1555.3,461.6 1576.9,446.3 1598.4,432.1 1619.7,419.2 1640.8,407.5 1661.6,397.1 1682.2,387.9 1702.4,380.1 1722.2,373.7 1741.5,368.6 1760.4,365.0 1778.7,362.8M1786.0,632.1 1766.4,612.9 1746.8,593.8 1727.3,574.7 1707.8,555.8 1688.5,536.9 1669.1,518.1 1649.9,499.3 1630.6,480.7 1611.5,462.1 1592.4,443.7 1573.4,425.3 1554.4,407.0 1535.5,388.7 1516.7,370.6 1497.9,352.6 1479.3,334.6 1460.6,316.7 1442.1,299.0 1423.6,281.3 1405.2,263.7M1359.6,642.3 1379.9,617.7 1400.6,594.1 1421.6,571.4 1442.8,549.7 1464.1,529.0 1485.7,509.4 1507.3,490.8 1528.9,473.3 1550.5,456.9 1572.1,441.6 1593.6,427.6 1614.9,414.7 1636.0,403.1 1656.9,392.7 1677.5,383.6 1697.7,375.9 1717.5,369.6 1736.9,364.6 1755.7,361.1 1774.1,359.0M1791.3,628.0 1771.7,608.8 1752.2,589.8 1732.7,570.8 1713.2,551.9 1693.8,533.0 1674.5,514.3 1655.2,495.6 1636.0,477.1 1616.9,458.6 1597.8,440.1 1578.7,421.8 1559.8,403.6 1540.9,385.4 1522.1,367.4 1503.3,349.4 1484.6,331.5 1466.0,313.7 1447.5,296.0 1429.0,278.4 1410.6,260.9M1355.0,637.3 1375.3,612.7 1396.0,589.1 1416.9,566.5 1438.1,544.8 1459.4,524.2 1480.9,504.5 1502.5,486.0 1524.2,468.5 1545.8,452.2 1567.4,437.0 1588.8,423.0 1610.2,410.2 1631.3,398.6 1652.2,388.3 1672.7,379.4 1693.0,371.7 1712.8,365.4 1732.2,360.6 1751.1,357.1 1769.5,355.2M1796.7,623.9 1777.1,604.8 1757.5,585.8 1738.0,566.9 1718.6,548.0 1699.2,529.3 1679.8,510.6 1660.6,492.0 1641.4,473.5 1622.2,455.1 1603.1,436.7 1584.1,418.4 1565.1,400.3 1546.3,382.2 1527.4,364.2 1508.7,346.3 1490.0,328.4 1471.4,310.7 1452.9,293.1 1434.4,275.5 1416.0,258.1M1350.5,632.3 1370.7,607.8 1391.3,584.2 1412.2,561.5 1433.4,539.9 1454.7,519.3 1476.2,499.7 1497.8,481.2 1519.4,463.8 1541.0,447.5 1562.6,432.4 1584.1,418.4 1605.4,405.7 1626.6,394.2 1647.4,384.0 1668.0,375.1 1688.3,367.5 1708.1,361.3 1727.5,356.6 1746.5,353.2 1764.9,351.3M1802.0,619.9 1782.4,600.9 1762.8,581.9 1743.3,563.1 1723.9,544.3 1704.5,525.6 1685.2,507.0 1665.9,488.4 1646.7,470.0 1627.5,451.6 1608.5,433.3 1589.4,415.1 1570.5,397.0 1551.6,379.0 1532.8,361.1 1514.1,343.2 1495.4,325.5 1476.8,307.8 1458.2,290.3 1439.8,272.8 1421.4,255.4M1345.9,627.3 1366.1,602.8 1386.7,579.2 1407.6,556.6 1428.7,535.0 1450.0,514.4 1471.5,494.9 1493.1,476.4 1514.7,459.1 1536.3,442.8 1557.9,427.8 1579.4,413.9 1600.7,401.2 1621.8,389.8 1642.7,379.7 1663.3,370.8 1683.6,363.4 1703.5,357.3 1722.9,352.5 1741.9,349.3 1760.3,347.5M1807.3,615.9 1787.7,597.0 1768.2,578.1 1748.7,559.3 1729.2,540.6 1709.8,522.0 1690.5,503.4 1671.2,484.9 1652.0,466.6 1632.9,448.3 1613.8,430.0 1594.8,411.9 1575.8,393.9 1557.0,375.9 1538.1,358.1 1519.4,340.3 1500.7,322.6 1482.1,305.0 1463.6,287.5 1445.2,270.1 1426.8,252.8M1341.3,622.4 1361.5,597.8 1382.1,574.3 1402.9,551.6 1424.0,530.0 1445.3,509.5 1466.8,490.0 1488.3,471.6 1509.9,454.3 1531.6,438.2 1553.1,423.2 1574.6,409.3 1596.0,396.7 1617.1,385.4 1638.0,375.3 1658.6,366.6 1678.9,359.2 1698.8,353.2 1718.3,348.5 1737.2,345.4 1755.7,343.7M1812.6,612.0 1793.0,593.2 1773.4,574.3 1753.9,555.6 1734.5,537.0 1715.1,518.4 1695.8,499.9 1676.5,481.5 1657.3,463.2 1638.2,445.0 1619.1,426.8 1600.1,408.8 1581.2,390.8 1562.3,372.9 1543.5,355.1 1524.8,337.4 1506.1,319.8 1487.5,302.3 1469.0,284.9 1450.5,267.5 1432.2,250.3M1336.8,617.4 1356.9,592.9 1377.4,569.3 1398.2,546.7 1419.3,525.1 1440.6,504.6 1462.1,485.2 1483.6,466.8 1505.2,449.6 1526.8,433.5 1548.4,418.6 1569.9,404.8 1591.2,392.3 1612.4,381.0 1633.3,371.0 1653.9,362.3 1674.2,355.0 1694.1,349.1 1713.6,344.5 1732.6,341.5 1751.1,339.9M1817.9,608.2 1798.3,589.4 1778.7,570.7 1759.2,552.0 1739.8,533.4 1720.4,514.9 1701.1,496.5 1681.8,478.2 1662.6,459.9 1643.5,441.8 1624.4,423.7 1605.4,405.7 1586.5,387.8 1567.6,370.0 1548.8,352.3 1530.1,334.6 1511.4,317.1 1492.9,299.6 1474.3,282.3 1455.9,265.0 1437.5,247.9M1332.2,612.5 1352.3,588.0 1372.8,564.4 1393.6,541.8 1414.6,520.2 1435.9,499.7 1457.3,480.4 1478.9,462.1 1500.5,444.9 1522.1,428.8 1543.7,414.0 1565.1,400.3 1586.5,387.8 1607.7,376.6 1628.6,366.7 1649.2,358.1 1669.5,350.9 1689.5,345.0 1709.0,340.6 1728.0,337.6 1746.5,336.0M1823.1,604.5 1803.5,585.7 1784.0,567.1 1764.5,548.5 1745.1,530.0 1725.7,511.5 1706.4,493.2 1687.1,474.9 1667.9,456.7 1648.8,438.6 1629.7,420.6 1610.7,402.7 1591.8,384.9 1572.9,367.1 1554.2,349.5 1535.4,331.9 1516.8,314.5 1498.2,297.1 1479.7,279.8 1461.3,262.6 1442.9,245.5M1327.7,607.6 1347.7,583.0 1368.2,559.5 1388.9,536.9 1410.0,515.3 1431.2,494.9 1452.6,475.5 1474.2,457.3 1495.8,440.2 1517.4,424.2 1538.9,409.4 1560.4,395.7 1581.8,383.3 1602.9,372.2 1623.9,362.4 1644.5,353.9 1664.9,346.7 1684.8,340.9 1704.4,336.6 1723.4,333.7 1742.0,332.2M1828.4,600.8 1808.8,582.1 1789.2,563.5 1769.7,545.0 1750.3,526.6 1730.9,508.2 1711.6,489.9 1692.4,471.7 1673.2,453.6 1654.1,435.6 1635.0,417.7 1616.0,399.8 1597.1,382.0 1578.2,364.4 1559.5,346.8 1540.8,329.3 1522.1,311.9 1503.5,294.6 1485.0,277.4 1466.6,260.3 1448.3,243.2M1323.1,602.7 1343.1,578.1 1363.6,554.5 1384.3,532.0 1405.3,510.4 1426.5,490.0 1447.9,470.7 1469.5,452.5 1491.0,435.5 1512.6,419.5 1534.2,404.8 1555.7,391.2 1577.1,378.9 1598.2,367.8 1619.2,358.1 1639.9,349.6 1660.2,342.5 1680.2,336.9 1699.7,332.6 1718.8,329.8 1737.4,328.4M1833.6,597.2 1814.0,578.6 1794.4,560.1 1775.0,541.6 1755.5,523.2 1736.2,504.9 1716.9,486.7 1697.6,468.6 1678.4,450.6 1659.3,432.6 1640.3,414.7 1621.3,397.0 1602.4,379.3 1583.5,361.7 1564.8,344.2 1546.1,326.8 1527.4,309.4 1508.9,292.2 1490.4,275.1 1472.0,258.0 1453.6,241.1M1318.6,597.8 1338.6,573.2 1358.9,549.6 1379.6,527.1 1400.6,505.6 1421.8,485.2 1443.2,465.9 1464.7,447.8 1486.3,430.8 1507.9,414.9 1529.5,400.2 1551.0,386.7 1572.3,374.4 1593.5,363.4 1614.5,353.8 1635.2,345.4 1655.5,338.4 1675.5,332.8 1695.1,328.6 1714.2,325.9 1732.8,324.6M1838.8,593.7 1819.2,575.1 1799.6,556.7 1780.2,538.3 1760.7,520.0 1741.4,501.8 1722.1,483.6 1702.8,465.6 1683.7,447.6 1664.6,429.7 1645.5,411.9 1626.6,394.2 1607.7,376.6 1588.8,359.1 1570.1,341.6 1551.4,324.3 1532.7,307.0 1514.2,289.9 1495.7,272.8 1477.3,255.9 1459.0,239.0M1314.1,593.0 1334.0,568.3 1354.3,544.7 1375.0,522.2 1396.0,500.7 1417.2,480.3 1438.5,461.1 1460.0,443.0 1481.6,426.1 1503.2,410.2 1524.8,395.6 1546.3,382.2 1567.6,370.0 1588.8,359.1 1609.8,349.5 1630.5,341.2 1650.9,334.3 1670.9,328.7 1690.5,324.6 1709.7,322.0 1728.3,320.9M1843.9,590.2 1824.3,571.7 1804.8,553.3 1785.3,535.0 1765.9,516.8 1746.6,498.6 1727.3,480.6 1708.1,462.6 1688.9,444.7 1669.8,426.9 1650.8,409.2 1631.8,391.5 1612.9,374.0 1594.1,356.5 1575.3,339.2 1556.6,321.9 1538.0,304.7 1519.5,287.7 1501.0,270.7 1482.7,253.8 1464.3,237.0M1309.5,588.1 1329.4,563.5 1349.7,539.8 1370.4,517.3 1391.3,495.8 1412.5,475.5 1433.9,456.3 1455.3,438.3 1476.9,421.4 1498.5,405.6 1520.1,391.0 1541.5,377.7 1562.9,365.6 1584.1,354.7 1605.1,345.2 1625.8,337.0 1646.2,330.1 1666.3,324.7 1685.9,320.7 1705.1,318.1 1723.7,317.1M1849.1,586.8 1829.5,568.4 1810.0,550.1 1790.5,531.8 1771.1,513.7 1751.7,495.6 1732.5,477.6 1713.2,459.7 1694.1,441.9 1675.0,424.2 1656.0,406.5 1637.0,388.9 1618.2,371.5 1599.3,354.1 1580.6,336.8 1561.9,319.6 1543.3,302.5 1524.8,285.5 1506.4,268.6 1488.0,251.8 1469.7,235.1M1305.0,583.3 1324.9,558.6 1345.1,535.0 1365.7,512.4 1386.7,490.9 1407.8,470.6 1429.2,451.5 1450.6,433.5 1472.2,416.7 1493.8,401.0 1515.3,386.5 1536.8,373.2 1558.2,361.1 1579.4,350.3 1600.4,340.9 1621.2,332.8 1641.6,326.0 1661.6,320.7 1681.3,316.7 1700.5,314.3 1719.2,313.3M1854.2,583.5 1834.6,565.2 1815.1,546.9 1795.6,528.7 1776.2,510.7 1756.9,492.7 1737.6,474.7 1718.4,456.9 1699.3,439.2 1680.2,421.5 1661.2,403.9 1642.2,386.4 1623.4,369.0 1604.6,351.7 1585.8,334.5 1567.2,317.4 1548.6,300.4 1530.1,283.5 1511.7,266.6 1493.3,249.9 1475.0,233.2M1300.5,578.4 1320.3,553.7 1340.5,530.1 1361.1,507.5 1382.0,486.1 1403.1,465.8 1424.5,446.7 1446.0,428.8 1467.5,412.0 1489.1,396.3 1510.6,381.9 1532.1,368.7 1553.5,356.7 1574.7,346.0 1595.7,336.6 1616.5,328.6 1636.9,321.9 1657.0,316.6 1676.7,312.8 1695.9,310.4 1714.7,309.5M1859.3,580.3 1839.7,562.0 1820.2,543.8 1800.7,525.7 1781.3,507.7 1762.0,489.8 1742.8,471.9 1723.6,454.2 1704.4,436.5 1685.4,418.9 1666.4,401.4 1647.4,384.0 1628.6,366.7 1609.8,349.5 1591.1,332.3 1572.4,315.3 1553.9,298.3 1535.4,281.5 1516.9,264.7 1498.6,248.1 1480.3,231.5M1296.0,573.6 1315.8,548.9 1336.0,525.2 1356.5,502.7 1377.4,481.2 1398.5,461.0 1419.8,441.9 1441.3,424.1 1462.8,407.3 1484.4,391.7 1505.9,377.3 1527.4,364.2 1548.8,352.3 1570.1,341.6 1591.1,332.3 1611.8,324.4 1632.3,317.8 1652.4,312.6 1672.1,308.8 1691.4,306.6 1710.1,305.8M1864.3,577.1 1844.7,558.9 1825.3,540.8 1805.8,522.8 1786.4,504.8 1767.1,487.0 1747.9,469.2 1728.7,451.5 1709.6,433.9 1690.5,416.4 1671.5,399.0 1652.6,381.7 1633.8,364.4 1615.0,347.3 1596.3,330.2 1577.7,313.2 1559.1,296.4 1540.6,279.6 1522.2,262.9 1503.9,246.3 1485.6,229.9M1291.5,568.8 1311.2,544.1 1331.4,520.4 1351.9,497.8 1372.7,476.4 1393.8,456.2 1415.1,437.1 1436.6,419.3 1458.1,402.6 1479.7,387.1 1501.2,372.8 1522.7,359.7 1544.1,347.8 1565.4,337.3 1586.4,328.1 1607.2,320.2 1627.7,313.7 1647.8,308.6 1667.5,304.9 1686.8,302.7 1705.6,302.0M1869.3,574.0 1849.8,555.9 1830.3,537.8 1810.9,519.9 1791.5,502.0 1772.2,484.2 1753.0,466.5 1733.8,448.9 1714.7,431.4 1695.7,414.0 1676.7,396.6 1657.8,379.4 1638.9,362.2 1620.2,345.2 1601.5,328.2 1582.9,311.3 1564.3,294.5 1545.9,277.8 1527.5,261.2 1509.2,244.7 1490.9,228.3M1287.0,564.1 1306.7,539.2 1326.8,515.5 1347.3,492.9 1368.1,471.5 1389.2,451.3 1410.5,432.4 1431.9,414.6 1453.4,398.0 1475.0,382.5 1496.6,368.2 1518.1,355.2 1539.5,343.4 1560.7,333.0 1581.7,323.8 1602.5,316.0 1623.0,309.6 1643.2,304.5 1662.9,301.0 1682.2,298.9 1701.1,298.3M1874.3,571.0 1854.8,552.9 1835.3,535.0 1815.9,517.1 1796.6,499.3 1777.3,481.6 1758.0,464.0 1738.9,446.4 1719.8,429.0 1700.8,411.6 1681.8,394.4 1662.9,377.2 1644.1,360.1 1625.3,343.1 1606.7,326.2 1588.1,309.4 1569.5,292.7 1551.1,276.1 1532.7,259.6 1514.4,243.1 1496.2,226.8M1282.5,559.3 1302.1,534.4 1322.2,510.7 1342.7,488.1 1363.5,466.7 1384.5,446.5 1405.8,427.6 1427.2,409.9 1448.7,393.3 1470.3,377.9 1491.9,363.7 1513.4,350.7 1534.8,339.0 1556.0,328.6 1577.1,319.5 1597.9,311.8 1618.4,305.5 1638.6,300.5 1658.4,297.0 1677.7,295.0 1696.5,294.5M1879.3,568.0 1859.8,550.0 1840.3,532.2 1820.9,514.4 1801.6,496.7 1782.3,479.0 1763.1,461.5 1743.9,444.0 1724.9,426.7 1705.8,409.4 1686.9,392.2 1668.0,375.1 1649.2,358.1 1630.5,341.2 1611.8,324.4 1593.3,307.6 1574.7,291.0 1556.3,274.5 1538.0,258.0 1519.7,241.7 1501.5,225.4M1278.0,554.5 1297.6,529.6 1317.6,505.9 1338.1,483.3 1358.8,461.9 1379.9,441.7 1401.1,422.8 1422.5,405.2 1444.1,388.6 1465.6,373.3 1487.2,359.2 1508.7,346.3 1530.1,334.6 1551.4,324.3 1572.4,315.3 1593.3,307.6 1613.8,301.4 1634.0,296.5 1653.8,293.1 1673.2,291.2 1692.0,290.8M1884.2,565.1 1864.7,547.2 1845.3,529.4 1825.9,511.7 1806.6,494.1 1787.3,476.5 1768.1,459.1 1749.0,441.7 1729.9,424.4 1710.9,407.2 1692.0,390.1 1673.1,373.1 1654.3,356.2 1635.6,339.3 1617.0,322.6 1598.4,305.9 1579.9,289.4 1561.5,272.9 1543.2,256.6 1524.9,240.3 1506.7,224.1M1273.6,549.8 1293.1,524.8 1313.1,501.0 1333.5,478.4 1354.2,457.0 1375.2,436.9 1396.5,418.1 1417.9,400.5 1439.4,384.0 1460.9,368.7 1482.5,354.6 1504.0,341.8 1525.4,330.2 1546.7,320.0 1567.8,311.0 1588.6,303.5 1609.2,297.3 1629.4,292.5 1649.2,289.2 1668.6,287.4 1687.5,287.1M1889.2,562.3 1869.7,544.5 1850.2,526.8 1830.8,509.2 1811.5,491.6 1792.3,474.1 1773.1,456.7 1754.0,439.4 1734.9,422.2 1716.0,405.1 1697.0,388.1 1678.2,371.2 1659.4,354.3 1640.7,337.5 1622.1,320.9 1603.6,304.3 1585.1,287.9 1566.7,271.5 1548.4,255.2 1530.1,239.0 1512.0,222.9M1269.1,545.1 1288.6,520.1 1308.5,496.2 1328.9,473.6 1349.6,452.2 1370.6,432.1 1391.8,413.3 1413.2,395.8 1434.7,379.4 1456.3,364.1 1477.8,350.1 1499.3,337.3 1520.8,325.8 1542.0,315.7 1563.1,306.8 1584.0,299.3 1604.6,293.2 1624.8,288.5 1644.7,285.3 1664.1,283.6 1683.0,283.3M1894.0,559.6 1874.5,541.9 1855.1,524.2 1835.8,506.7 1816.5,489.2 1797.2,471.8 1778.1,454.5 1759.0,437.3 1739.9,420.1 1721.0,403.1 1702.1,386.2 1683.3,369.3 1664.5,352.5 1645.8,335.9 1627.2,319.3 1608.7,302.8 1590.2,286.4 1571.9,270.1 1553.6,253.9 1535.3,237.8 1517.2,221.8M1264.6,540.4 1284.1,515.3 1304.0,491.4 1324.3,468.8 1345.0,447.4 1365.9,427.3 1387.2,408.6 1408.5,391.1 1430.0,374.7 1451.6,359.5 1473.2,345.6 1494.7,332.9 1516.1,321.5 1537.4,311.3 1558.5,302.6 1579.4,295.1 1600.0,289.1 1620.2,284.5 1640.1,281.4 1659.5,279.8 1678.5,279.6M1898.9,557.0 1879.4,539.3 1860.0,521.7 1840.7,504.3 1821.4,486.9 1802.2,469.6 1783.0,452.3 1763.9,435.2 1744.9,418.1 1726.0,401.2 1707.1,384.3 1688.3,367.5 1669.5,350.9 1650.9,334.3 1632.3,317.8 1613.8,301.4 1595.4,285.1 1577.0,268.9 1558.7,252.7 1540.5,236.7 1522.4,220.8M1260.2,535.7 1279.6,510.6 1299.4,486.7 1319.7,464.0 1340.3,442.6 1361.3,422.5 1382.5,403.8 1403.9,386.4 1425.4,370.1 1446.9,355.0 1468.5,341.1 1490.0,328.4 1511.4,317.1 1532.7,307.0 1553.9,298.3 1574.7,291.0 1595.4,285.1 1615.6,280.6 1635.5,277.5 1655.0,275.9 1674.0,275.9M1903.7,554.4 1884.2,536.8 1864.8,519.3 1845.5,501.9 1826.2,484.6 1807.0,467.4 1787.9,450.2 1768.9,433.2 1749.9,416.2 1730.9,399.3 1712.1,382.6 1693.3,365.9 1674.6,349.3 1655.9,332.8 1637.4,316.3 1618.9,300.0 1600.5,283.8 1582.1,267.7 1563.9,251.7 1545.7,235.7 1527.6,219.9M1255.7,531.0 1275.1,505.8 1294.9,481.9 1315.1,459.2 1335.7,437.8 1356.7,417.8 1377.9,399.1 1399.2,381.7 1420.7,365.4 1442.3,350.4 1463.8,336.6 1485.3,324.0 1506.8,312.7 1528.1,302.7 1549.2,294.1 1570.1,286.9 1590.8,281.0 1611.1,276.6 1631.0,273.6 1650.5,272.1 1669.5,272.2M1908.5,551.9 1889.0,534.4 1869.6,517.0 1850.3,499.7 1831.1,482.4 1811.9,465.3 1792.8,448.2 1773.7,431.3 1754.8,414.4 1735.9,397.6 1717.0,380.9 1698.3,364.3 1679.6,347.8 1660.9,331.3 1642.4,315.0 1623.9,298.8 1605.5,282.6 1587.2,266.6 1569.0,250.6 1550.8,234.8 1532.8,219.1M1251.3,526.3 1270.6,501.1 1290.3,477.1 1310.5,454.4 1331.1,433.0 1352.0,413.0 1373.2,394.4 1394.6,377.0 1416.1,360.8 1437.6,345.8 1459.2,332.1 1480.7,319.6 1502.1,308.4 1523.5,298.5 1544.6,289.9 1565.5,282.7 1586.2,276.9 1606.5,272.6 1626.4,269.7 1646.0,268.4 1665.1,268.5M1913.2,549.5 1893.8,532.1 1874.4,514.8 1855.1,497.5 1835.9,480.4 1816.7,463.3 1797.6,446.3 1778.6,429.4 1759.7,412.6 1740.8,395.9 1722.0,379.3 1703.2,362.8 1684.5,346.3 1665.9,330.0 1647.4,313.7 1629.0,297.6 1610.6,281.5 1592.3,265.6 1574.1,249.7 1556.0,234.0 1537.9,218.3M1246.9,521.7 1266.1,496.4 1285.8,472.3 1306.0,449.6 1326.5,428.2 1347.4,408.2 1368.6,389.6 1389.9,372.3 1411.4,356.2 1433.0,341.3 1454.5,327.6 1476.0,315.1 1497.5,304.0 1518.8,294.2 1540.0,285.7 1560.9,278.6 1581.6,272.9 1601.9,268.6 1621.9,265.9 1641.5,264.6 1660.6,264.8M1917.9,547.2 1898.5,529.8 1879.2,512.6 1859.9,495.4 1840.7,478.4 1821.5,461.4 1802.5,444.5 1783.5,427.7 1764.5,411.0 1745.7,394.3 1726.9,377.8 1708.1,361.3 1689.5,345.0 1670.9,328.7 1652.4,312.6 1634.0,296.5 1615.6,280.6 1597.4,264.7 1579.2,248.9 1561.1,233.2 1543.0,217.7M1242.5,517.0 1261.6,491.7 1281.3,467.6 1301.4,444.8 1321.9,423.5 1342.8,403.5 1364.0,384.9 1385.3,367.7 1406.8,351.6 1428.3,336.7 1449.9,323.1 1471.4,310.7 1492.9,299.6 1514.2,289.9 1535.4,281.5 1556.3,274.5 1577.0,268.9 1597.4,264.7 1617.4,262.0 1637.0,260.8 1656.1,261.1M1922.6,544.9 1903.2,527.7 1883.9,510.5 1864.6,493.4 1845.4,476.4 1826.3,459.5 1807.3,442.7 1788.3,426.0 1769.4,409.4 1750.5,392.8 1731.7,376.4 1713.0,360.0 1694.4,343.8 1675.8,327.6 1657.4,311.5 1639.0,295.5 1620.6,279.7 1602.4,263.9 1584.2,248.2 1566.2,232.6 1548.2,217.1M1238.0,512.4 1257.1,487.0 1276.7,462.9 1296.8,440.1 1317.3,418.7 1338.2,398.7 1359.3,380.2 1380.7,363.0 1402.1,347.0 1423.7,332.2 1445.2,318.6 1466.8,306.3 1488.2,295.3 1509.6,285.6 1530.8,277.3 1551.7,270.3 1572.4,264.8 1592.8,260.7 1612.8,258.1 1632.5,257.0 1651.6,257.4M1927.2,542.7 1907.9,525.6 1888.6,508.5 1869.3,491.5 1850.2,474.6 1831.0,457.8 1812.0,441.1 1793.1,424.4 1774.2,407.9 1755.3,391.4 1736.6,375.0 1717.9,358.8 1699.3,342.6 1680.8,326.5 1662.3,310.5 1643.9,294.6 1625.6,278.8 1607.4,263.2 1589.3,247.6 1571.2,232.1 1553.2,216.7M1233.6,507.8 1252.7,482.3 1272.2,458.1 1292.3,435.3 1312.8,413.9 1333.6,394.0 1354.7,375.5 1376.0,358.3 1397.5,342.4 1419.0,327.6 1440.6,314.1 1462.1,301.9 1483.6,290.9 1504.9,281.3 1526.1,273.1 1547.1,266.2 1567.8,260.8 1588.3,256.8 1608.3,254.3 1628.0,253.3 1647.2,253.8M1931.8,540.7 1912.5,523.6 1893.2,506.6 1874.0,489.7 1854.8,472.9 1835.8,456.1 1816.7,439.5 1797.8,422.9 1778.9,406.5 1760.1,390.1 1741.4,373.8 1722.7,357.6 1704.2,341.5 1685.7,325.5 1667.2,309.6 1648.9,293.8 1630.6,278.1 1612.4,262.5 1594.3,247.0 1576.3,231.6 1558.3,216.3M1229.2,503.2 1248.2,477.6 1267.7,453.4 1287.7,430.6 1308.2,409.2 1329.0,389.2 1350.1,370.8 1371.4,353.7 1392.9,337.8 1414.4,323.1 1435.9,309.6 1457.5,297.5 1479.0,286.6 1500.3,277.1 1521.5,268.9 1542.5,262.1 1563.3,256.8 1583.7,252.9 1603.8,250.4 1623.5,249.5 1642.7,250.1M1936.4,538.7 1917.0,521.7 1897.8,504.7 1878.6,487.9 1859.5,471.2 1840.4,454.5 1821.4,438.0 1802.5,421.5 1783.7,405.1 1764.9,388.8 1746.2,372.7 1727.5,356.6 1709.0,340.6 1690.5,324.6 1672.1,308.8 1653.8,293.1 1635.5,277.5 1617.4,262.0 1599.3,246.6 1581.3,231.3 1563.4,216.0M1224.9,498.7 1243.7,473.0 1263.2,448.7 1283.2,425.8 1303.6,404.4 1324.4,384.5 1345.5,366.1 1366.8,349.0 1388.2,333.2 1409.7,318.6 1431.3,305.2 1452.9,293.1 1474.3,282.3 1495.7,272.8 1516.9,264.7 1538.0,258.0 1558.7,252.7 1579.2,248.9 1599.3,246.6 1619.0,245.7 1638.3,246.4M1940.9,536.7 1921.6,519.8 1902.4,503.0 1883.2,486.3 1864.1,469.6 1845.0,453.0 1826.1,436.6 1807.2,420.2 1788.4,403.9 1769.6,387.7 1750.9,371.6 1732.3,355.6 1713.8,339.7 1695.3,323.9 1677.0,308.1 1658.7,292.5 1640.5,277.0 1622.3,261.5 1604.3,246.2 1586.3,231.0 1568.4,215.9M1220.5,494.1 1239.3,468.4 1258.7,444.0 1278.6,421.1 1299.0,399.6 1319.8,379.7 1340.9,361.4 1362.2,344.4 1383.6,328.6 1405.1,314.0 1426.7,300.7 1448.2,288.7 1469.7,278.0 1491.1,268.6 1512.3,260.6 1533.4,253.9 1554.2,248.7 1574.6,245.0 1594.8,242.7 1614.5,242.0 1633.8,242.8M1945.4,534.9 1926.1,518.1 1906.9,501.3 1887.7,484.7 1868.7,468.1 1849.6,451.6 1830.7,435.2 1811.8,418.9 1793.0,402.7 1774.3,386.6 1755.7,370.6 1737.1,354.7 1718.6,338.9 1700.1,323.1 1681.8,307.5 1663.5,292.0 1645.3,276.5 1627.2,261.2 1609.2,246.0 1591.2,230.8 1573.4,215.8M1216.1,489.6 1234.9,463.7 1254.2,439.3 1274.1,416.4 1294.5,394.9 1315.2,375.0 1336.3,356.7 1357.5,339.8 1379.0,324.0 1400.5,309.5 1422.1,296.3 1443.6,284.3 1465.1,273.6 1486.5,264.3 1507.8,256.4 1528.8,249.8 1549.6,244.7 1570.1,241.1 1590.3,238.9 1610.0,238.3 1629.4,239.1M1949.8,533.1 1930.5,516.4 1911.4,499.7 1892.2,483.2 1873.2,466.7 1854.2,450.3 1835.3,434.0 1816.4,417.8 1797.7,401.7 1779.0,385.7 1760.3,369.7 1741.8,353.9 1723.3,338.2 1704.9,322.5 1686.6,307.0 1668.4,291.5 1650.2,276.2 1632.1,261.0 1614.1,245.8 1596.2,230.8 1578.4,215.8M1211.7,485.0 1230.4,459.1 1249.7,434.6 1269.6,411.6 1289.9,390.2 1310.6,370.3 1331.7,352.0 1352.9,335.1 1374.4,319.4 1395.9,305.0 1417.4,291.8 1439.0,279.9 1460.5,269.3 1481.9,260.1 1503.2,252.2 1524.2,245.8 1545.1,240.7 1565.6,237.2 1585.8,235.1 1605.6,234.5 1624.9,235.5M1954.2,531.4 1935.0,514.8 1915.8,498.2 1896.7,481.8 1877.7,465.4 1858.7,449.1 1839.8,432.9 1821.0,416.7 1802.3,400.7 1783.6,384.8 1765.0,368.9 1746.5,353.2 1728.0,337.6 1709.7,322.0 1691.4,306.6 1673.2,291.2 1655.0,275.9 1637.0,260.8 1619.0,245.7 1601.1,230.8 1583.3,215.9M1207.4,480.5 1226.0,454.5 1245.2,430.0 1265.0,406.9 1285.3,385.4 1306.0,365.6 1327.1,347.3 1348.3,330.5 1369.7,314.9 1391.3,300.5 1412.8,287.4 1434.4,275.5 1455.9,265.0 1477.3,255.9 1498.6,248.1 1519.7,241.7 1540.5,236.7 1561.1,233.2 1581.3,231.3 1601.1,230.8 1620.5,231.9M1958.5,529.9 1939.3,513.3 1920.2,496.8 1901.1,480.4 1882.1,464.1 1863.2,447.9 1844.3,431.8 1825.6,415.8 1806.8,399.8 1788.2,384.0 1769.6,368.2 1751.1,352.6 1732.7,337.0 1714.4,321.6 1696.1,306.2 1677.9,291.0 1659.8,275.8 1641.8,260.7 1623.9,245.8 1606.0,230.9 1588.2,216.2M1203.0,476.1 1221.6,449.9 1240.8,425.3 1260.5,402.2 1280.8,380.7 1301.4,360.8 1322.5,342.6 1343.7,325.9 1365.1,310.3 1386.7,296.0 1408.2,282.9 1429.8,271.2 1451.3,260.7 1472.7,251.6 1494.0,243.9 1515.1,237.6 1536.0,232.7 1556.6,229.3 1576.8,227.4 1596.7,227.1 1616.1,228.2M1962.9,528.3 1943.7,511.9 1924.6,495.5 1905.5,479.2 1886.6,463.0 1867.7,446.9 1848.8,430.8 1830.1,414.9 1811.4,399.0 1792.8,383.3 1774.2,367.6 1755.7,352.1 1737.4,336.6 1719.0,321.2 1700.8,306.0 1682.7,290.8 1664.6,275.7 1646.6,260.8 1628.7,245.9 1610.9,231.1 1593.1,216.5M1198.7,471.6 1217.2,445.4 1236.3,420.7 1256.0,397.5 1276.2,376.0 1296.9,356.1 1317.9,338.0 1339.1,321.3 1360.5,305.8 1382.0,291.5 1403.6,278.5 1425.2,266.8 1446.7,256.4 1468.2,247.4 1489.5,239.8 1510.6,233.5 1531.4,228.8 1552.0,225.5 1572.3,223.6 1592.2,223.4 1611.7,224.6M1967.1,526.9 1948.0,510.5 1928.9,494.2 1909.9,478.0 1890.9,461.9 1872.1,445.9 1853.3,429.9 1834.5,414.1 1815.9,398.3 1797.3,382.7 1778.8,367.1 1760.3,351.7 1742.0,336.3 1723.7,321.0 1705.5,305.8 1687.4,290.8 1669.3,275.8 1651.4,260.9 1633.5,246.1 1615.7,231.5 1598.0,216.9M1194.4,467.1 1212.8,440.8 1231.8,416.0 1251.5,392.8 1271.7,371.3 1292.3,351.4 1313.3,333.3 1334.5,316.6 1355.9,301.2 1377.4,287.0 1399.0,274.1 1420.6,262.4 1442.1,252.1 1463.6,243.2 1484.9,235.6 1506.0,229.5 1526.9,224.8 1547.5,221.6 1567.8,219.8 1587.8,219.6 1607.2,221.0M1971.3,525.6 1952.2,509.3 1933.2,493.1 1914.2,477.0 1895.3,460.9 1876.4,445.0 1857.6,429.1 1838.9,413.4 1820.3,397.7 1801.8,382.2 1783.3,366.7 1764.9,351.3 1746.5,336.0 1728.3,320.9 1710.1,305.8 1692.0,290.8 1674.0,275.9 1656.1,261.1 1638.3,246.4 1620.5,231.9 1602.8,217.4M1190.0,462.7 1208.4,436.2 1227.4,411.4 1247.0,388.2 1267.1,366.6 1287.7,346.7 1308.7,328.7 1329.9,312.0 1351.3,296.7 1372.8,282.5 1394.4,269.6 1416.0,258.1 1437.5,247.9 1459.0,239.0 1480.3,231.5 1501.5,225.4 1522.4,220.8 1543.0,217.7 1563.4,216.0 1583.3,215.9 1602.8,217.4" fill="none" stroke="#000" stroke-opacity="0.62" stroke-width="1.9"/>
<circle cx="1970.7" cy="526.4" r="6.0" fill="#d00000" stroke="#2a0808" stroke-width="1.7"/>
<circle cx="1602.8" cy="210.8" r="6.0" fill="#d00000" stroke="#2a0808" stroke-width="1.7"/>
<circle cx="1580.7" cy="439.3" r="6.0" fill="#d00000" stroke="#2a0808" stroke-width="1.7"/>
<circle cx="1361.9" cy="644.9" r="6.0" fill="#d00000" stroke="#2a0808" stroke-width="1.7"/>
<text transform="translate(1117.26,364.76) scale(0.947,1)" font-family='"Liberation Sans",Arial,sans-serif' font-size="32.51" fill="#0c0c0c" stroke="#0c0c0c" stroke-width="0.45">65</text>
<text transform="translate(1127.36,396.26) scale(0.886,1)" font-family='"Liberation Sans",Arial,sans-serif' font-size="32.51" fill="#0c0c0c" stroke="#0c0c0c" stroke-width="0.45">60</text>
<text transform="translate(1137.66,428.26) scale(0.878,1)" font-family='"Liberation Sans",Arial,sans-serif' font-size="32.51" fill="#0c0c0c" stroke="#0c0c0c" stroke-width="0.45">55</text>
<text transform="translate(1145.68,461.76) scale(0.863,1)" font-family='"Liberation Sans",Arial,sans-serif' font-size="32.51" fill="#0c0c0c" stroke="#0c0c0c" stroke-width="0.45">50</text>
<text transform="translate(1154.12,494.76) scale(0.836,1)" font-family='"Liberation Sans",Arial,sans-serif' font-size="32.51" fill="#0c0c0c" stroke="#0c0c0c" stroke-width="0.45">45</text>
<text transform="translate(1162.10,527.76) scale(0.865,1)" font-family='"Liberation Sans",Arial,sans-serif' font-size="32.51" fill="#0c0c0c" stroke="#0c0c0c" stroke-width="0.45">40</text>
<text transform="translate(1171.18,560.76) scale(0.863,1)" font-family='"Liberation Sans",Arial,sans-serif' font-size="32.51" fill="#0c0c0c" stroke="#0c0c0c" stroke-width="0.45">35</text>
<text transform="translate(1200.02,650.76) scale(1.018,1)" font-family='"Liberation Sans",Arial,sans-serif' font-size="31.09" fill="#0c0c0c" stroke="#0c0c0c" stroke-width="0.45">2</text>
<text transform="translate(1245.48,727.46) scale(0.869,1)" font-family='"Liberation Sans",Arial,sans-serif' font-size="30.94" fill="#0c0c0c" stroke="#0c0c0c" stroke-width="0.45">1.8</text>
<text transform="translate(1309.37,806.36) scale(0.869,1)" font-family='"Liberation Sans",Arial,sans-serif' font-size="31.09" fill="#0c0c0c" stroke="#0c0c0c" stroke-width="0.45">1.6</text>
<text transform="translate(1374.79,884.76) scale(0.861,1)" font-family='"Liberation Sans",Arial,sans-serif' font-size="31.09" fill="#0c0c0c" stroke="#0c0c0c" stroke-width="0.45">1.4</text>
<text transform="translate(1439.76,962.76) scale(0.875,1)" font-family='"Liberation Sans",Arial,sans-serif' font-size="31.09" fill="#0c0c0c" stroke="#0c0c0c" stroke-width="0.45">1.2</text>
<text transform="translate(1530.51,1042.76) scale(0.554,1)" font-family='"Liberation Sans",Arial,sans-serif' font-size="31.09" fill="#0c0c0c" stroke="#0c0c0c" stroke-width="0.45">1</text>
<text transform="translate(1944.66,692.76) scale(1.053,1)" font-family='"Liberation Sans",Arial,sans-serif' font-size="31.09" fill="#0c0c0c" stroke="#0c0c0c" stroke-width="0.45">2</text>
<text transform="translate(1870.72,760.76) scale(0.893,1)" font-family='"Liberation Sans",Arial,sans-serif' font-size="31.09" fill="#0c0c0c" stroke="#0c0c0c" stroke-width="0.45">1.8</text>
<text transform="translate(1795.71,830.76) scale(0.897,1)" font-family='"Liberation Sans",Arial,sans-serif' font-size="31.09" fill="#0c0c0c" stroke="#0c0c0c" stroke-width="0.45">1.6</text>
<text transform="translate(1720.73,901.76) scale(0.886,1)" font-family='"Liberation Sans",Arial,sans-serif' font-size="31.09" fill="#0c0c0c" stroke="#0c0c0c" stroke-width="0.45">1.4</text>
<text transform="translate(1646.70,972.76) scale(0.900,1)" font-family='"Liberation Sans",Arial,sans-serif' font-size="31.09" fill="#0c0c0c" stroke="#0c0c0c" stroke-width="0.45">1.2</text>
<text transform="translate(1574.51,1042.76) scale(0.554,1)" font-family='"Liberation Sans",Arial,sans-serif' font-size="31.09" fill="#0c0c0c" stroke="#0c0c0c" stroke-width="0.45">1</text>
<text transform="translate(1135.87,953.76) scale(0.909,1)" font-family='"Liberation Sans",Arial,sans-serif' font-size="40.23" fill="#0c0c0c" stroke="#0c0c0c" stroke-width="0.45">B: PVA Fiber (%)</text>
<text transform="translate(1763.62,991.76) scale(0.904,1)" font-family='"Liberation Sans",Arial,sans-serif' font-size="40.23" fill="#0c0c0c" stroke="#0c0c0c" stroke-width="0.45">A: TiO2 (%)</text>
<text transform="translate(1084.26,592.19) rotate(-90) scale(1.102,1)" font-family='"Liberation Sans",Arial,sans-serif' font-size="36.17" fill="#0c0c0c">CS (MPa)</text>
<text transform="translate(1533,1087.5) scale(0.95,1)" font-family='"Liberation Serif","Times New Roman",serif' font-size="48" fill="#0a0a0a">(<tspan font-weight="bold">b</tspan>)</text>
</g>
</svg></body></html>
